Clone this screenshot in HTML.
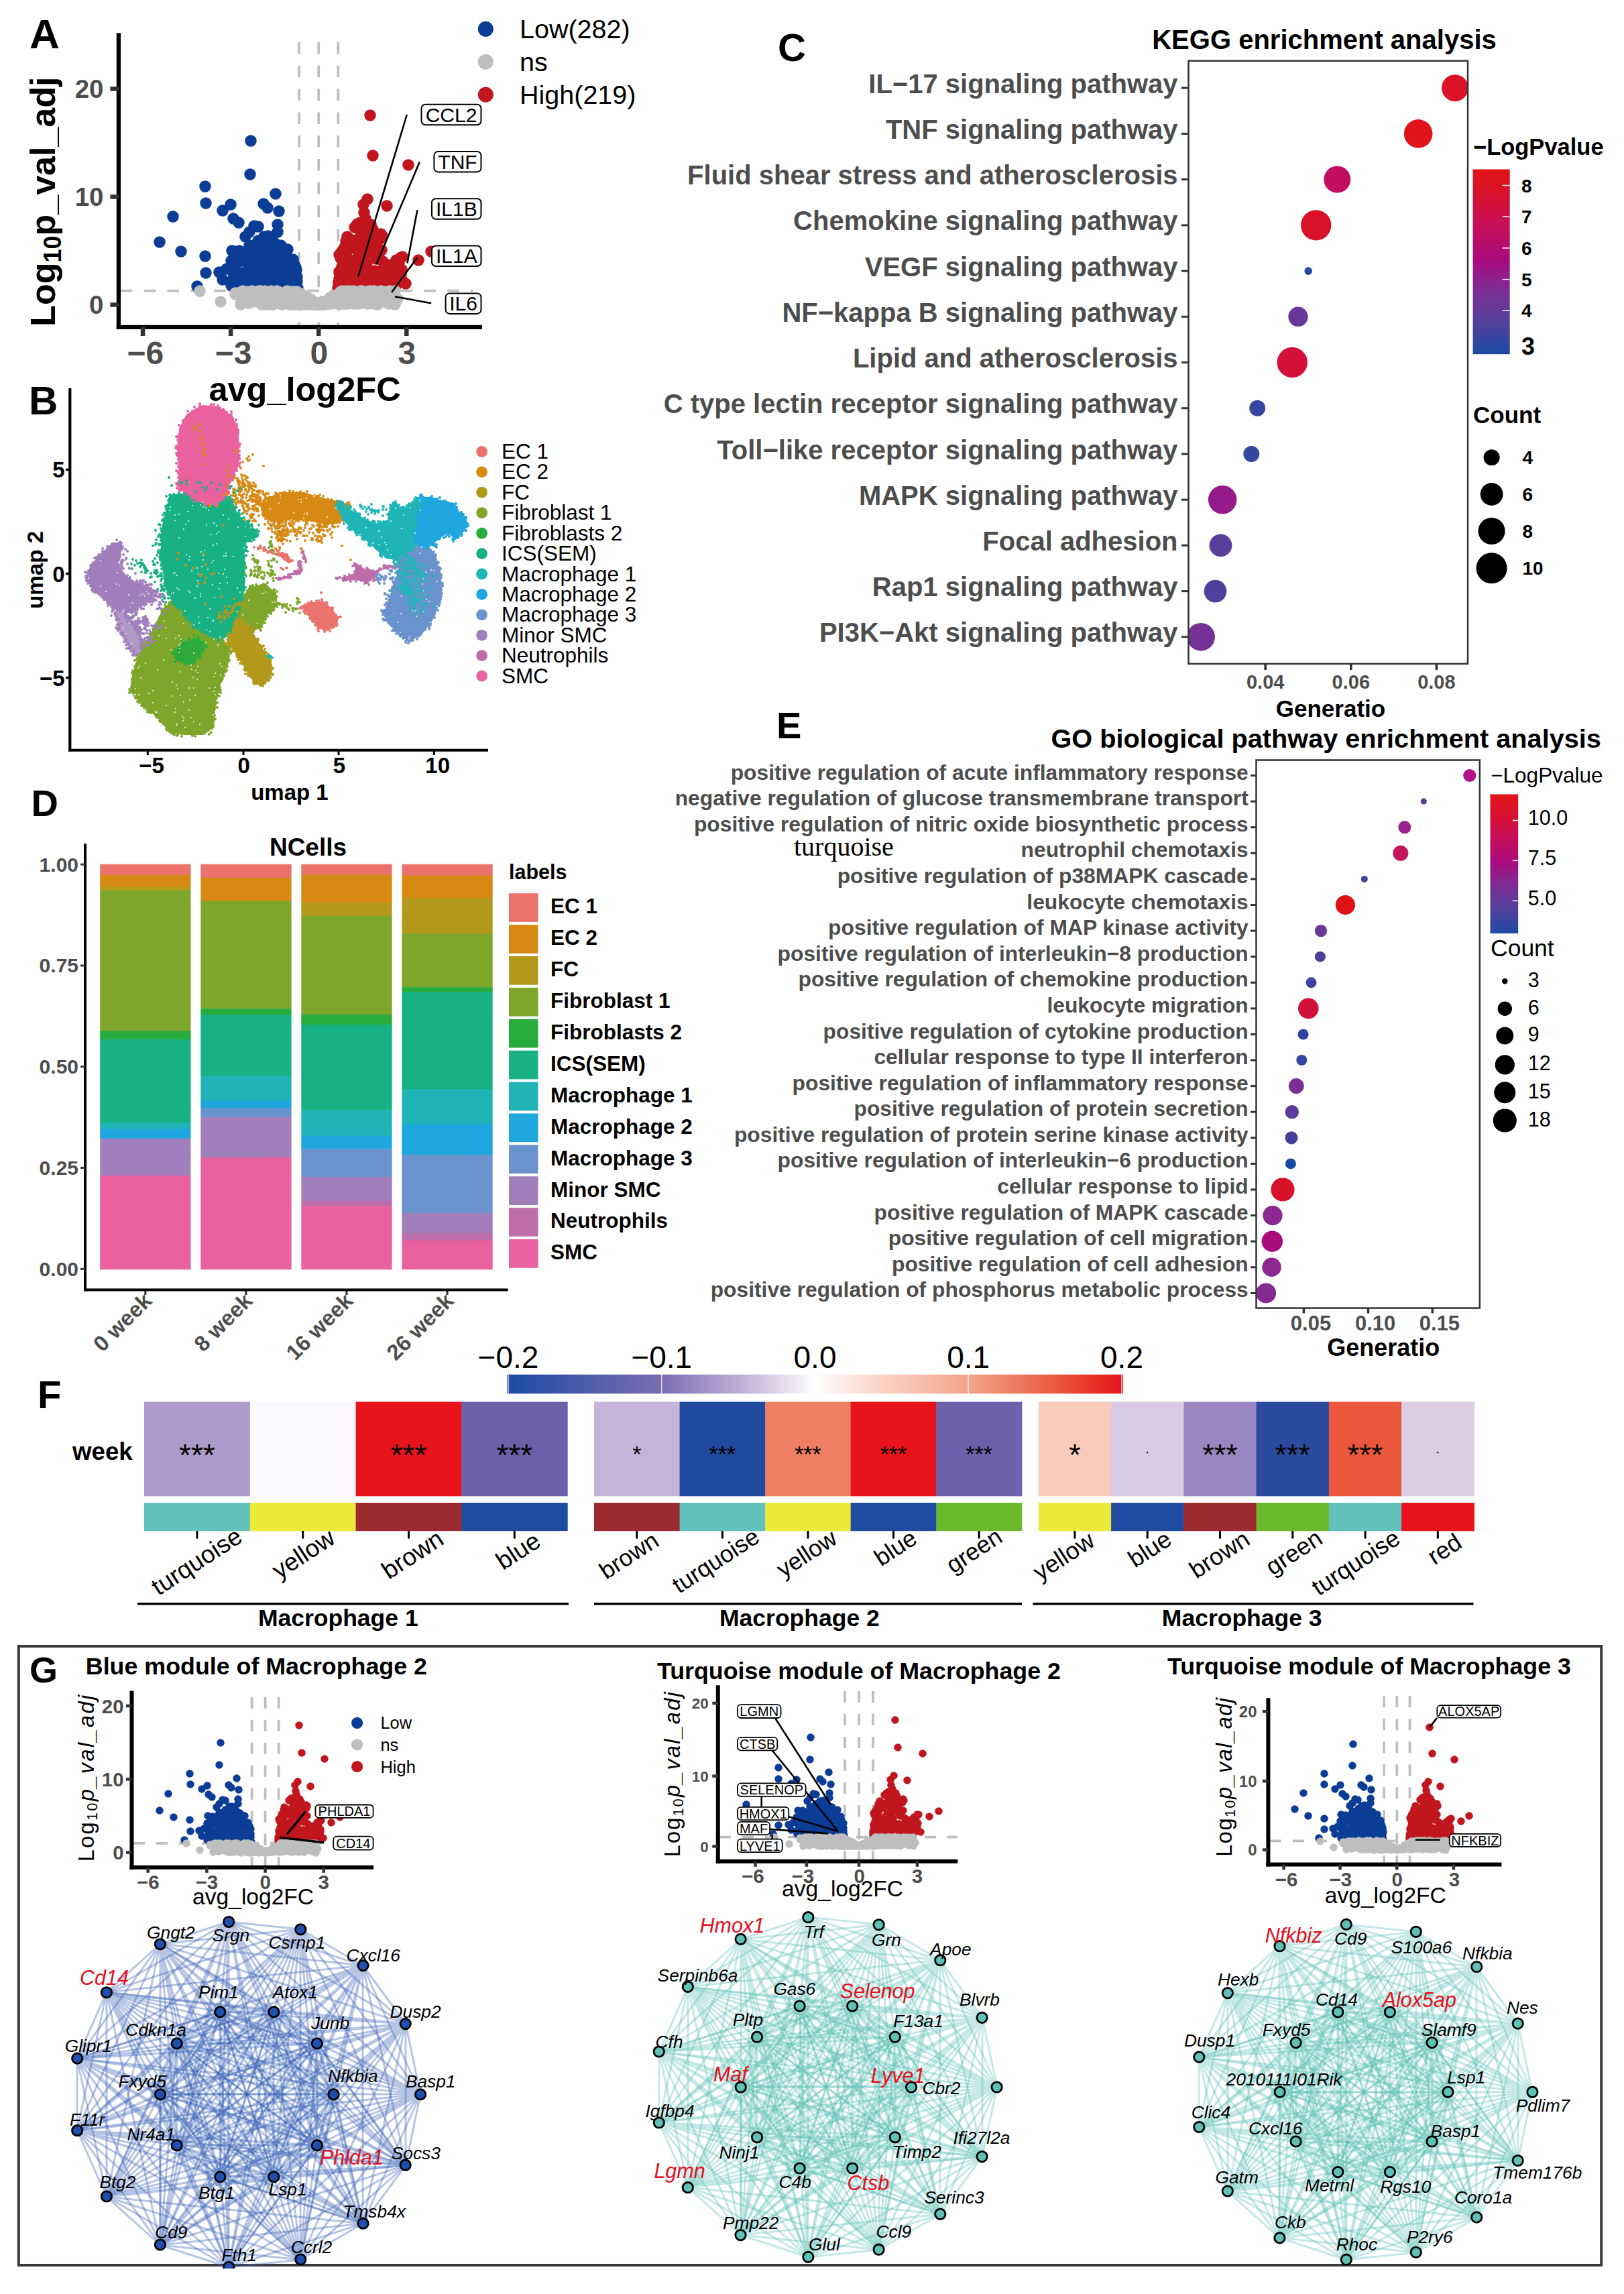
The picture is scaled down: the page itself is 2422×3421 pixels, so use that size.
<!DOCTYPE html>
<html><head><meta charset="utf-8"><title>Figure</title>
<style>html,body{margin:0;padding:0;background:#fff}svg{display:block;font-family:"Liberation Sans",sans-serif}</style></head>
<body><svg width="2422" height="3421" viewBox="0 0 2422 3421">
<rect width="2422" height="3421" fill="#fff"/>
<defs><linearGradient id="g1" x1="0" y1="1" x2="0" y2="0"><stop offset="0.0" stop-color="#1C4BA3"/><stop offset="0.1" stop-color="#3B449F"/><stop offset="0.2" stop-color="#5A3E9B"/><stop offset="0.3" stop-color="#723397"/><stop offset="0.4" stop-color="#8B238E"/><stop offset="0.5" stop-color="#A70B80"/><stop offset="0.6" stop-color="#B80D6C"/><stop offset="0.7" stop-color="#C80F58"/><stop offset="0.8" stop-color="#D3103D"/><stop offset="0.9" stop-color="#DB1227"/><stop offset="1.0" stop-color="#E21317"/></linearGradient></defs>
<text x="44.0" y="72.3" font-size="62" font-weight="bold">A</text>
<line x1="446.1" y1="63.0" x2="446.1" y2="487.8" stroke="#BEBEBE" stroke-width="3.7" stroke-dasharray="17.5 17.3"/>
<line x1="475.2" y1="63.0" x2="475.2" y2="487.8" stroke="#BEBEBE" stroke-width="3.7" stroke-dasharray="17.5 17.3"/>
<line x1="504.3" y1="63.0" x2="504.3" y2="487.8" stroke="#BEBEBE" stroke-width="3.7" stroke-dasharray="17.5 17.3"/>
<line x1="180.0" y1="433.6" x2="705.0" y2="433.6" stroke="#BEBEBE" stroke-width="3.7" stroke-dasharray="17.5 17.3"/>
<path d="M374 210h0M373 260h0M306 278h0M411 289h0M307 303h0M344 305h0M332 314h0M393 304h0M399 310h0M416 315h0M258 323h0M348 326h0M356 332h0M372 346h0M385 338h0M414 335h0M238 361h0M270 375h0M306 382h0M346 374h0M307 407h0M327 406h0M338 401h0M351 404h0M332 417h0M294 427h0M379 337h0M366 353h0M357 374h0M362 384h0M420 397h0M407 387h0M381 429h0M442 403h0M418 420h0M345 389h0M396 386h0M429 398h0M357 390h0M368 418h0M441 399h0M397 378h0M356 377h0M404 367h0M399 354h0M430 424h0M381 416h0M393 409h0M409 389h0M386 364h0M376 373h0M345 426h0M358 377h0M387 382h0M423 375h0M387 417h0M437 395h0M429 420h0M367 430h0M383 430h0M356 407h0M436 408h0M441 427h0M403 387h0M428 430h0M348 416h0M398 397h0M380 395h0M388 390h0M350 413h0M414 346h0M392 395h0M443 420h0M386 431h0M382 391h0M438 408h0M397 382h0M409 376h0M438 405h0M398 390h0M412 409h0M413 408h0M384 416h0M406 369h0M441 413h0M422 376h0M420 423h0M400 379h0M434 420h0M410 363h0M400 362h0M427 416h0M379 406h0M421 427h0M391 423h0M363 425h0M416 368h0M380 376h0M409 426h0M415 368h0M417 411h0M402 405h0M403 354h0M428 431h0M350 375h0M400 352h0M369 392h0M392 416h0M410 419h0M437 409h0M415 367h0M439 395h0M375 370h0M354 431h0M414 381h0M391 407h0M350 418h0M419 366h0M396 372h0M409 421h0M390 371h0M427 384h0M352 386h0M443 413h0M417 417h0M391 406h0M397 372h0M444 430h0M431 428h0M437 387h0M394 414h0M412 410h0M379 395h0M408 422h0M411 426h0M388 381h0M406 428h0M426 414h0M384 377h0M406 366h0M382 407h0M407 397h0M375 421h0M390 382h0M437 417h0M401 359h0M354 421h0M397 426h0M363 377h0M365 388h0M388 428h0M385 431h0M429 389h0M439 430h0M434 388h0M426 431h0M360 382h0M349 389h0M440 403h0M393 380h0M433 396h0M411 391h0M426 421h0M382 380h0M405 409h0M404 410h0M402 428h0M394 353h0M403 373h0M428 393h0M368 404h0M396 386h0M434 397h0M352 412h0M417 422h0M385 415h0M421 385h0M359 421h0M422 431h0M396 409h0M427 415h0M412 369h0M429 372h0M396 390h0M397 366h0M362 407h0M372 411h0M371 407h0M421 421h0M372 366h0M425 420h0M425 389h0M358 421h0M402 375h0M435 429h0M408 389h0M410 403h0M395 421h0M385 359h0M405 393h0M432 422h0M355 429h0M367 418h0M376 378h0M417 375h0M348 407h0M432 410h0M409 375h0M376 424h0M379 392h0M426 375h0M411 375h0M384 397h0M379 406h0M413 423h0M437 402h0M369 386h0M408 416h0M406 358h0M440 415h0" stroke="#0B3C96" stroke-width="17.5" stroke-linecap="round" fill="none"/>
<path d="M552 172h0M556 232h0M609 246h0M548 297h0M542 305h0M577 307h0M543 317h0M600 383h0M624 388h0M643 375h0M605 423h0M591 388h0M582 395h0M593 401h0M576 403h0M584 408h0M595 392h0M571 390h0M545 326h0M522 370h0M529 408h0M533 386h0M559 404h0M565 425h0M523 426h0M512 377h0M556 418h0M518 404h0M557 351h0M558 378h0M515 407h0M518 395h0M545 417h0M522 369h0M506 380h0M568 349h0M532 386h0M546 372h0M574 410h0M525 358h0M539 376h0M556 431h0M559 371h0M539 385h0M537 418h0M542 429h0M540 371h0M536 382h0M573 401h0M514 375h0M549 429h0M530 416h0M510 398h0M571 423h0M566 374h0M514 369h0M547 335h0M555 359h0M529 361h0M571 402h0M535 361h0M539 425h0M507 428h0M518 423h0M540 364h0M543 395h0M551 407h0M537 359h0M533 420h0M569 373h0M530 404h0M542 376h0M520 431h0M519 371h0M514 402h0M518 420h0M516 406h0M516 430h0M512 423h0M539 428h0M506 407h0M533 369h0M508 409h0M532 430h0M573 426h0M511 403h0M516 388h0M529 424h0M508 385h0M524 367h0M537 338h0M526 415h0M523 365h0M549 403h0M511 386h0M574 413h0M504 430h0M511 423h0M507 429h0M551 339h0M518 353h0M538 353h0M570 352h0M506 416h0M548 333h0M510 416h0M565 425h0M532 407h0M553 335h0M517 377h0M557 348h0M544 336h0M530 400h0M520 370h0M538 411h0M516 379h0M547 362h0M532 392h0M515 381h0M506 405h0M558 368h0M511 419h0M565 378h0M567 356h0M536 343h0M557 405h0M531 428h0M533 340h0M512 395h0M512 428h0M551 413h0M508 425h0M550 377h0M505 421h0M573 426h0M544 396h0M560 378h0M561 386h0M518 422h0M510 375h0M512 430h0M573 427h0M568 427h0M537 416h0M563 380h0M550 356h0M567 407h0M547 393h0M512 372h0M547 350h0M519 394h0M537 363h0M510 412h0M539 427h0M544 359h0M534 374h0M547 416h0M529 339h0M528 399h0M510 421h0M516 360h0M556 342h0M575 412h0M571 415h0M534 339h0M569 350h0M539 356h0M533 334h0M570 413h0M571 427h0M511 383h0M525 392h0M550 429h0M557 410h0M535 405h0M557 359h0M525 426h0M525 402h0M510 424h0M559 366h0M574 397h0M567 405h0M516 413h0M537 386h0M543 402h0M565 412h0M537 344h0M562 410h0M521 367h0M505 426h0M542 383h0M516 429h0M519 373h0M537 332h0M598 384h0M577 426h0M576 423h0M585 427h0M591 425h0M585 422h0M598 409h0M583 428h0M588 409h0M595 391h0M599 417h0M580 415h0M598 405h0M599 402h0" stroke="#C1161D" stroke-width="17.5" stroke-linecap="round" fill="none"/>
<path d="M298 434h0M329 450h0M593 446h0M502 440h0M508 445h0M412 442h0M367 444h0M492 444h0M506 447h0M439 445h0M523 451h0M449 441h0M536 435h0M465 450h0M466 453h0M508 447h0M359 436h0M566 451h0M456 444h0M458 444h0M515 446h0M580 453h0M399 453h0M386 441h0M460 454h0M415 444h0M479 454h0M563 451h0M589 440h0M529 451h0M543 436h0M589 446h0M443 435h0M382 447h0M504 453h0M521 434h0M435 435h0M390 454h0M483 450h0M489 449h0M406 443h0M493 444h0M444 451h0M414 450h0M579 446h0M554 438h0M456 446h0M478 453h0M492 451h0M422 447h0M473 452h0M575 448h0M433 449h0M521 447h0M520 449h0M534 443h0M463 446h0M417 453h0M465 448h0M478 453h0M456 450h0M490 450h0M542 440h0M445 447h0M511 441h0M404 447h0M424 452h0M360 443h0M499 447h0M467 449h0M373 440h0M557 445h0M553 448h0M513 453h0M434 454h0M443 445h0M445 443h0M580 440h0M455 445h0M464 451h0M474 453h0M447 439h0M444 453h0M467 451h0M465 454h0M482 452h0M580 441h0M561 452h0M469 451h0M418 437h0M549 450h0M529 450h0M497 452h0M564 446h0M396 454h0M421 437h0M446 448h0M514 447h0M404 445h0M438 450h0M459 448h0M516 443h0M557 441h0M458 445h0M482 451h0M462 452h0M589 434h0M373 451h0M589 447h0M475 453h0M403 443h0M514 442h0M430 450h0M552 448h0M526 436h0M351 439h0M355 440h0M470 452h0M514 443h0M455 450h0M493 453h0M447 445h0M366 444h0M376 443h0M537 436h0M417 448h0M470 454h0M534 449h0M455 452h0M404 434h0M447 442h0M496 445h0M459 444h0M507 449h0M557 447h0M537 440h0M410 438h0M472 453h0M392 441h0M497 441h0M565 439h0M464 449h0M487 453h0M559 444h0M589 451h0M397 451h0M498 442h0M535 446h0M480 450h0M442 454h0M515 451h0M540 434h0M539 446h0M495 450h0M458 445h0M453 453h0M508 443h0M359 454h0M454 452h0M436 442h0M457 446h0M418 453h0M467 452h0M576 441h0M548 452h0M508 435h0M469 452h0M477 454h0M589 454h0M447 454h0M369 448h0M430 452h0M483 454h0M491 453h0M525 443h0M483 454h0M411 444h0M509 435h0M474 453h0M425 442h0M424 439h0M436 441h0M537 434h0M439 453h0M488 449h0M394 444h0M558 443h0M523 439h0M524 439h0M398 442h0M513 439h0M549 447h0M532 445h0M492 447h0M527 450h0M551 434h0M533 436h0M528 448h0M526 436h0M545 446h0M487 451h0M573 448h0M457 443h0M471 453h0M570 450h0M515 450h0M447 445h0M547 435h0M514 437h0M389 434h0M493 444h0M450 454h0M466 453h0M567 448h0M589 452h0M519 441h0M442 450h0M555 447h0M429 452h0M447 449h0M466 449h0M389 452h0M549 444h0M427 447h0M519 447h0M544 444h0M480 453h0M468 454h0M441 451h0M478 452h0M434 436h0M493 453h0M473 453h0M472 452h0M378 443h0M373 437h0M506 454h0M471 451h0M516 439h0M407 454h0M477 452h0M549 445h0M546 440h0M533 437h0M407 451h0M523 444h0M441 448h0M427 448h0M568 439h0M429 445h0M376 447h0M433 441h0M444 442h0M414 444h0M430 437h0M549 453h0M565 445h0M384 443h0M440 454h0M491 450h0M508 449h0M421 454h0M391 444h0M568 448h0M502 445h0M367 447h0M481 453h0M362 451h0M550 442h0M481 454h0M561 450h0M411 436h0M475 453h0M509 453h0M522 437h0M552 434h0M424 452h0M525 446h0M564 439h0M414 447h0M378 440h0M540 440h0M413 444h0M474 454h0M375 450h0M476 454h0M485 451h0M586 436h0M448 452h0M524 439h0M384 450h0M454 447h0M444 448h0M437 447h0M587 445h0M580 436h0M424 449h0M506 442h0M520 444h0M424 441h0M527 434h0M530 441h0M521 437h0M570 442h0M494 447h0M569 438h0M522 439h0M552 439h0M519 453h0M479 453h0M451 441h0M441 447h0M442 446h0M411 438h0M479 451h0M433 437h0M448 444h0M451 440h0M398 450h0M530 451h0M440 445h0M535 446h0M364 440h0M432 450h0M458 454h0M408 451h0M502 450h0M490 448h0M463 451h0M506 454h0M534 436h0M540 436h0M393 443h0M411 445h0M578 442h0M558 434h0M382 438h0M550 442h0M407 446h0M474 454h0M452 451h0M517 445h0M384 448h0M488 449h0M571 448h0M418 440h0M493 447h0M537 446h0M389 443h0M501 445h0M561 441h0M499 451h0M510 434h0M368 435h0M565 439h0M460 449h0M442 441h0M557 451h0M423 441h0M579 447h0M474 453h0M428 434h0M510 438h0M447 442h0M557 453h0M460 454h0M547 440h0M441 444h0M451 450h0M535 453h0M403 451h0M535 442h0M492 445h0M575 446h0M394 440h0M499 449h0M522 435h0M496 450h0M401 441h0M421 450h0M442 435h0M516 453h0M485 451h0M550 448h0M508 437h0M528 453h0M380 437h0M476 453h0M523 435h0M442 450h0M547 448h0M554 448h0M555 445h0M555 452h0M504 444h0M411 450h0M467 449h0M437 450h0M498 443h0M452 452h0M464 447h0M550 446h0M536 435h0M533 448h0M493 446h0M351 437h0M545 450h0M448 445h0M409 450h0M579 444h0M448 449h0M504 450h0M515 448h0M503 452h0M474 454h0M438 448h0M466 454h0M382 449h0M529 452h0M482 450h0M419 438h0M484 454h0M480 454h0M390 449h0M412 440h0M513 444h0M505 450h0M371 452h0M557 446h0M351 438h0M429 444h0M409 439h0M526 445h0M401 454h0M489 450h0M400 447h0M454 449h0M458 452h0M493 449h0M448 453h0M365 446h0M584 451h0M400 447h0M468 452h0M466 449h0M458 447h0M472 453h0M492 451h0M419 444h0M434 450h0M505 444h0M537 434h0M514 452h0M556 435h0M428 441h0M544 441h0M466 449h0M463 449h0M510 436h0M524 440h0M540 452h0M397 442h0M432 440h0M566 445h0M539 442h0M432 454h0M544 452h0M566 443h0M530 439h0M549 448h0M560 448h0M475 454h0M422 438h0M503 450h0M568 434h0M540 449h0M544 448h0M490 453h0M412 440h0M413 434h0M491 445h0M475 453h0M446 437h0M512 435h0M397 454h0M489 452h0M375 447h0M403 453h0M371 435h0M421 454h0M416 448h0M437 448h0M411 439h0M445 444h0M484 451h0M518 448h0M410 435h0M528 436h0M473 453h0M449 438h0M494 444h0M523 435h0M434 446h0M472 452h0M375 450h0M563 454h0M427 450h0M471 452h0M440 437h0M415 446h0M574 439h0M414 448h0M479 451h0M589 434h0M565 449h0M502 441h0M586 443h0M496 451h0M376 435h0M504 447h0M472 452h0M465 450h0M445 438h0M414 437h0M580 439h0M369 439h0M522 438h0M517 435h0M540 440h0M512 435h0M516 434h0M542 436h0M553 437h0M378 438h0M569 438h0M555 436h0M536 437h0M371 439h0M390 437h0M370 436h0M376 438h0M359 437h0M386 434h0M437 435h0M429 435h0M416 437h0M583 435h0M365 437h0M573 435h0M438 439h0M415 435h0M395 434h0M414 436h0M514 438h0M415 437h0M575 438h0M393 437h0M564 439h0M399 437h0M440 435h0M581 434h0M403 438h0M573 439h0M374 440h0M575 437h0M376 434h0M583 436h0M564 436h0M425 439h0M423 439h0M438 440h0M362 434h0M549 435h0M434 437h0M535 438h0M548 438h0M354 437h0M558 439h0M384 438h0M377 437h0M443 435h0M549 438h0M529 435h0M524 436h0M416 436h0M518 437h0M560 438h0" stroke="#BEBEBE" stroke-width="17.5" stroke-linecap="round" fill="none"/>
<line x1="176.9" y1="49.3" x2="176.9" y2="490.9" stroke="#000" stroke-width="6.3"/>
<line x1="173.8" y1="487.8" x2="719.0" y2="487.8" stroke="#000" stroke-width="6.3"/>
<line x1="164.4" y1="454.5" x2="176.9" y2="454.5" stroke="#333" stroke-width="6.5"/>
<text x="154.5" y="468.3" font-size="38.5" font-weight="bold" text-anchor="end" fill="#4d4d4d">0</text>
<line x1="164.4" y1="293.5" x2="176.9" y2="293.5" stroke="#333" stroke-width="6.5"/>
<text x="154.5" y="307.3" font-size="38.5" font-weight="bold" text-anchor="end" fill="#4d4d4d">10</text>
<line x1="164.4" y1="132.5" x2="176.9" y2="132.5" stroke="#333" stroke-width="6.5"/>
<text x="154.5" y="146.3" font-size="38.5" font-weight="bold" text-anchor="end" fill="#4d4d4d">20</text>
<line x1="213.0" y1="487.8" x2="213.0" y2="501.0" stroke="#333" stroke-width="6.5"/>
<text x="216.9" y="542.9" font-size="48" font-weight="bold" text-anchor="middle" fill="#4d4d4d">−6</text>
<line x1="344.1" y1="487.8" x2="344.1" y2="501.0" stroke="#333" stroke-width="6.5"/>
<text x="348.0" y="542.9" font-size="48" font-weight="bold" text-anchor="middle" fill="#4d4d4d">−3</text>
<line x1="475.2" y1="487.8" x2="475.2" y2="501.0" stroke="#333" stroke-width="6.5"/>
<text x="475.8" y="542.9" font-size="48" font-weight="bold" text-anchor="middle" fill="#4d4d4d">0</text>
<line x1="606.3" y1="487.8" x2="606.3" y2="501.0" stroke="#333" stroke-width="6.5"/>
<text x="606.9" y="542.9" font-size="48" font-weight="bold" text-anchor="middle" fill="#4d4d4d">3</text>
<text x="454.5" y="597.5" font-size="50.5" font-weight="bold" text-anchor="middle">avg_log2FC</text>
<text x="82.3" y="300.7" font-size="52" font-weight="bold" text-anchor="middle" transform="rotate(-90 82.3 300.7)">Log<tspan font-size="36" dy="9">10</tspan><tspan dy="-9">p_val_adj</tspan></text>
<circle cx="724.3" cy="43.3" r="11.5" fill="#0B3C96"/>
<text x="775.0" y="56.9" font-size="39.5">Low(282)</text>
<circle cx="724.3" cy="92.2" r="11.5" fill="#BEBEBE"/>
<text x="775.0" y="105.8" font-size="39.5">ns</text>
<circle cx="724.3" cy="141.2" r="11.5" fill="#C1161D"/>
<text x="775.0" y="154.8" font-size="39.5">High(219)</text>
<line x1="606.8" y1="171.0" x2="534.2" y2="412.7" stroke="#000" stroke-width="2.6"/>
<rect x="628.5" y="155.8" width="89.0" height="30.5" rx="6" fill="#fff" stroke="#000" stroke-width="2"/>
<text x="673.0" y="181.7" font-size="30" text-anchor="middle">CCL2</text>
<line x1="625.8" y1="241.5" x2="561.2" y2="394.2" stroke="#000" stroke-width="2.6"/>
<rect x="647.4" y="225.9" width="70.1" height="30.5" rx="6" fill="#fff" stroke="#000" stroke-width="2"/>
<text x="682.5" y="251.8" font-size="30" text-anchor="middle">TNF</text>
<line x1="622.4" y1="313.3" x2="607.4" y2="392.4" stroke="#000" stroke-width="2.6"/>
<rect x="644.0" y="296.3" width="73.5" height="30.5" rx="6" fill="#fff" stroke="#000" stroke-width="2"/>
<text x="680.8" y="322.2" font-size="30" text-anchor="middle">IL1B</text>
<line x1="622.2" y1="384.2" x2="584.1" y2="436.0" stroke="#000" stroke-width="2.6"/>
<rect x="644.0" y="366.5" width="73.5" height="30.5" rx="6" fill="#fff" stroke="#000" stroke-width="2"/>
<text x="680.8" y="392.4" font-size="30" text-anchor="middle">IL1A</text>
<line x1="643.2" y1="452.2" x2="588.9" y2="442.2" stroke="#000" stroke-width="2.6"/>
<rect x="664.6" y="437.4" width="52.9" height="30.5" rx="6" fill="#fff" stroke="#000" stroke-width="2"/>
<text x="691.0" y="463.3" font-size="30" text-anchor="middle">IL6</text>
<text x="43.0" y="618.0" font-size="60" font-weight="bold">B</text>
<path d="M129 861L136 843L152 825L168 811L182 809L179 820L175 838L184 857L197 866L209 875L204 891L191 902L179 911L168 902L154 893L139 879Z" fill="#A07FBC" stroke="#A07FBC" stroke-width="2" stroke-linejoin="round"/>
<path d="M134 858h0M128 859h0M129 860h0M133 854h0M133 852h0M127 853h0M129 854h0M131 859h0M132 860h0M136 849h0M132 851h0M131 860h0M145 831h0M144 833h0M148 827h0M141 832h0M146 836h0M135 843h0M138 840h0M147 828h0M149 830h0M144 831h0M152 827h0M150 832h0M151 831h0M138 840h0M135 843h0M157 825h0M154 825h0M168 814h0M164 815h0M165 815h0M162 816h0M155 824h0M153 822h0M159 821h0M153 818h0M160 815h0M167 817h0M167 811h0M173 811h0M177 810h0M172 812h0M170 811h0M169 811h0M179 808h0M170 812h0M174 805h0M180 814h0M180 812h0M180 819h0M178 819h0M183 816h0M182 817h0M180 813h0M172 833h0M179 830h0M177 835h0M176 834h0M177 830h0M179 822h0M178 832h0M181 837h0M178 828h0M179 827h0M177 834h0M181 849h0M184 848h0M180 852h0M180 856h0M182 857h0M183 854h0M179 845h0M185 856h0M183 854h0M180 849h0M182 854h0M179 857h0M196 866h0M188 862h0M186 859h0M195 867h0M194 861h0M194 865h0M193 862h0M190 858h0M183 859h0M190 864h0M204 870h0M204 872h0M203 872h0M208 871h0M202 871h0M203 873h0M206 869h0M209 873h0M208 869h0M210 878h0M209 877h0M207 881h0M207 874h0M212 873h0M210 877h0M211 882h0M206 878h0M208 882h0M208 886h0M200 896h0M195 898h0M192 896h0M203 892h0M194 901h0M202 893h0M204 897h0M196 896h0M203 889h0M206 890h0M197 902h0M191 901h0M182 903h0M189 906h0M189 905h0M191 904h0M187 903h0M186 908h0M190 902h0M181 908h0M175 906h0M168 905h0M168 905h0M174 904h0M169 900h0M174 908h0M181 911h0M177 909h0M172 901h0M164 901h0M163 900h0M170 898h0M161 903h0M164 899h0M160 899h0M165 900h0M166 901h0M169 902h0M163 898h0M141 880h0M139 882h0M141 882h0M148 885h0M138 878h0M143 884h0M148 883h0M137 879h0M143 882h0M155 894h0M154 889h0M142 882h0M151 886h0M129 866h0M136 869h0M138 875h0M133 869h0M128 862h0M133 867h0M132 867h0M137 880h0M135 874h0M138 881h0M131 865h0M131 870h0" stroke="#A07FBC" stroke-width="4" stroke-linecap="round" fill="none"/>
<path d="M168 902L191 920L204 934L213 956L211 974L200 977L191 963L179 943L173 920Z" fill="#A07FBC" stroke="#A07FBC" stroke-width="2" stroke-linejoin="round" opacity="0.8"/>
<path d="M172 903h0M191 919h0M181 905h0M178 912h0M190 922h0M166 904h0M172 902h0M188 916h0M188 918h0M166 902h0M176 909h0M175 907h0M186 915h0M188 914h0M173 909h0M189 919h0M178 910h0M171 902h0M203 934h0M198 929h0M207 930h0M204 926h0M198 927h0M197 931h0M199 929h0M205 934h0M194 928h0M204 936h0M193 923h0M194 924h0M211 954h0M215 954h0M206 938h0M209 942h0M202 938h0M209 952h0M208 947h0M204 941h0M202 936h0M212 955h0M205 941h0M216 952h0M208 935h0M210 954h0M200 937h0M215 967h0M214 962h0M210 961h0M209 966h0M212 964h0M212 975h0M211 969h0M211 958h0M216 959h0M211 968h0M214 967h0M209 975h0M199 977h0M212 974h0M210 975h0M202 977h0M205 975h0M209 976h0M195 971h0M192 967h0M189 967h0M198 977h0M200 972h0M198 976h0M195 967h0M198 977h0M199 975h0M200 969h0M187 948h0M189 961h0M185 948h0M185 957h0M191 960h0M188 956h0M180 945h0M182 944h0M188 962h0M181 946h0M183 945h0M182 946h0M195 964h0M188 953h0M176 940h0M175 932h0M177 936h0M177 924h0M175 922h0M181 930h0M177 936h0M177 931h0M174 920h0M173 924h0M175 938h0M180 944h0M178 937h0M173 936h0M170 904h0M174 920h0M168 908h0M168 910h0M171 904h0M173 916h0M167 912h0M172 918h0M174 915h0M166 918h0M171 915h0" stroke="#A07FBC" stroke-width="4" stroke-linecap="round" fill="none"/>
<path d="M245 906L259 897L277 915L290 934L304 943L327 952L340 965L340 988L331 1011L324 1033L320 1056L318 1083L304 1095L277 1095L254 1092L236 1070L213 1051L195 1031L197 1011L204 988L213 970L227 943L238 920Z" fill="#7DA62B" stroke="#7DA62B" stroke-width="2" stroke-linejoin="round"/>
<path d="M255 900h0M253 898h0M259 899h0M249 911h0M255 900h0M255 899h0M257 899h0M252 900h0M251 904h0M246 902h0M264 901h0M272 911h0M263 898h0M262 900h0M268 907h0M261 898h0M262 908h0M262 902h0M271 899h0M266 907h0M267 901h0M267 903h0M273 914h0M256 897h0M278 915h0M264 904h0M276 920h0M274 918h0M290 934h0M292 932h0M279 915h0M286 929h0M279 917h0M285 919h0M280 921h0M283 926h0M279 915h0M274 915h0M278 915h0M282 925h0M292 938h0M295 935h0M299 938h0M297 942h0M300 941h0M298 939h0M298 939h0M300 939h0M291 931h0M300 939h0M314 946h0M327 950h0M325 956h0M320 946h0M309 939h0M303 946h0M309 943h0M324 952h0M325 953h0M315 948h0M311 949h0M320 948h0M324 952h0M316 952h0M313 946h0M331 953h0M333 955h0M338 964h0M336 963h0M341 963h0M326 950h0M334 958h0M328 952h0M333 961h0M340 965h0M336 961h0M333 958h0M338 969h0M338 968h0M342 968h0M343 970h0M341 983h0M343 972h0M338 981h0M344 974h0M341 971h0M339 978h0M340 966h0M341 977h0M338 968h0M341 979h0M337 996h0M333 1005h0M342 985h0M336 996h0M339 994h0M338 992h0M336 1001h0M336 993h0M331 1006h0M336 1002h0M334 1008h0M338 988h0M331 1009h0M338 1000h0M333 999h0M320 1034h0M328 1025h0M325 1026h0M329 1015h0M325 1032h0M332 1012h0M331 1014h0M324 1024h0M329 1029h0M330 1015h0M329 1033h0M326 1031h0M330 1016h0M327 1027h0M319 1051h0M327 1038h0M322 1040h0M324 1036h0M320 1051h0M316 1055h0M324 1048h0M323 1041h0M320 1049h0M324 1055h0M325 1037h0M321 1051h0M318 1045h0M322 1038h0M318 1084h0M320 1067h0M321 1072h0M320 1055h0M317 1076h0M315 1070h0M320 1058h0M319 1066h0M315 1073h0M317 1063h0M318 1073h0M318 1067h0M316 1076h0M316 1062h0M320 1073h0M318 1082h0M318 1060h0M316 1086h0M312 1087h0M315 1092h0M312 1095h0M311 1089h0M307 1090h0M314 1085h0M314 1086h0M313 1084h0M309 1087h0M314 1083h0M286 1093h0M288 1092h0M297 1090h0M282 1090h0M284 1093h0M295 1094h0M293 1091h0M287 1097h0M290 1093h0M287 1094h0M287 1092h0M291 1094h0M291 1098h0M277 1094h0M285 1094h0M287 1091h0M260 1096h0M271 1092h0M264 1097h0M270 1094h0M270 1094h0M267 1092h0M271 1098h0M254 1092h0M257 1094h0M275 1090h0M260 1094h0M274 1094h0M264 1089h0M265 1096h0M253 1088h0M238 1075h0M248 1087h0M254 1090h0M249 1089h0M244 1080h0M251 1082h0M255 1087h0M243 1078h0M243 1078h0M236 1069h0M253 1091h0M239 1076h0M238 1070h0M235 1070h0M245 1075h0M240 1076h0M244 1078h0M214 1053h0M232 1067h0M233 1069h0M222 1061h0M221 1054h0M222 1060h0M215 1056h0M217 1054h0M225 1059h0M222 1056h0M211 1052h0M219 1054h0M220 1062h0M225 1063h0M219 1058h0M223 1061h0M230 1062h0M224 1063h0M193 1028h0M207 1046h0M200 1037h0M212 1046h0M205 1041h0M215 1056h0M200 1036h0M195 1031h0M201 1036h0M202 1041h0M205 1041h0M214 1049h0M196 1031h0M199 1032h0M208 1048h0M205 1046h0M199 1033h0M198 1033h0M199 1018h0M193 1033h0M200 1012h0M199 1025h0M196 1027h0M195 1030h0M201 1014h0M199 1029h0M196 1025h0M196 1027h0M197 1013h0M201 994h0M204 995h0M203 994h0M202 995h0M199 1002h0M203 991h0M198 1001h0M204 998h0M198 1000h0M197 1004h0M205 986h0M205 1006h0M203 993h0M206 996h0M209 979h0M210 974h0M213 975h0M209 983h0M205 978h0M216 973h0M214 971h0M209 980h0M212 975h0M201 985h0M206 979h0M204 982h0M220 959h0M224 947h0M216 964h0M212 961h0M223 945h0M222 955h0M215 963h0M219 956h0M223 968h0M221 962h0M226 951h0M218 960h0M218 969h0M218 956h0M219 951h0M226 944h0M218 963h0M216 965h0M223 953h0M238 921h0M233 930h0M238 924h0M237 927h0M230 934h0M239 921h0M227 944h0M241 920h0M228 938h0M235 928h0M229 934h0M234 930h0M237 927h0M232 939h0M229 940h0M246 911h0M245 918h0M244 915h0M246 910h0M243 917h0M241 912h0M241 909h0M239 919h0M242 910h0" stroke="#7DA62B" stroke-width="4" stroke-linecap="round" fill="none"/>
<path d="M361 893L372 877L395 872L411 884L413 902L399 915L390 934L372 943L349 920Z" fill="#7DA62B" stroke="#7DA62B" stroke-width="2" stroke-linejoin="round"/>
<path d="M370 881h0M362 894h0M366 890h0M365 887h0M376 879h0M369 885h0M364 890h0M373 887h0M373 879h0M374 880h0M364 888h0M369 881h0M373 875h0M372 878h0M376 875h0M377 873h0M377 876h0M384 874h0M374 874h0M389 873h0M373 874h0M392 875h0M382 872h0M388 875h0M384 874h0M377 874h0M395 876h0M392 872h0M405 881h0M409 880h0M403 883h0M399 869h0M400 878h0M409 879h0M399 876h0M399 875h0M396 872h0M393 871h0M411 892h0M412 899h0M408 886h0M413 890h0M407 884h0M408 885h0M413 882h0M408 893h0M408 896h0M411 899h0M406 892h0M405 911h0M404 914h0M401 914h0M406 906h0M408 910h0M407 909h0M400 910h0M406 906h0M404 915h0M408 904h0M408 908h0M407 905h0M390 935h0M395 929h0M389 933h0M394 924h0M399 919h0M395 924h0M394 916h0M391 925h0M397 917h0M392 924h0M396 923h0M392 927h0M387 937h0M383 935h0M387 936h0M377 941h0M374 942h0M380 938h0M389 940h0M378 942h0M382 934h0M376 939h0M377 937h0M382 935h0M354 925h0M372 940h0M364 931h0M363 929h0M356 931h0M361 930h0M361 933h0M366 931h0M359 932h0M367 938h0M363 932h0M367 932h0M351 923h0M352 922h0M354 930h0M347 923h0M357 931h0M361 936h0M367 934h0M362 932h0M351 908h0M362 896h0M349 903h0M349 910h0M349 921h0M358 897h0M358 892h0M362 892h0M350 918h0M356 908h0M355 902h0M360 892h0M354 907h0M359 901h0M356 895h0M349 915h0M351 911h0M359 892h0" stroke="#7DA62B" stroke-width="4" stroke-linecap="round" fill="none"/>
<path d="M340 943L349 920L372 934L381 952L392 970L404 988L404 1006L395 1020L381 1020L372 1006L361 988L349 970L340 961Z" fill="#B2991C" stroke="#B2991C" stroke-width="2" stroke-linejoin="round"/>
<path d="M343 943h0M342 941h0M346 928h0M348 925h0M346 928h0M344 936h0M344 939h0M341 935h0M343 940h0M346 922h0M347 938h0M346 928h0M347 927h0M344 921h0M340 939h0M353 927h0M361 925h0M352 923h0M371 936h0M350 921h0M360 926h0M367 933h0M353 924h0M349 919h0M353 921h0M356 923h0M361 923h0M351 925h0M359 925h0M369 933h0M362 929h0M377 937h0M375 943h0M375 937h0M375 942h0M377 950h0M376 946h0M375 939h0M374 939h0M375 946h0M376 940h0M377 940h0M371 941h0M393 963h0M382 955h0M388 962h0M384 956h0M385 955h0M389 964h0M391 965h0M383 953h0M383 957h0M380 955h0M385 953h0M389 967h0M389 964h0M402 983h0M395 968h0M393 972h0M403 989h0M404 985h0M397 973h0M400 978h0M400 976h0M402 981h0M401 979h0M392 977h0M394 972h0M401 981h0M407 997h0M404 999h0M402 995h0M406 996h0M404 1002h0M399 999h0M402 999h0M402 990h0M400 1002h0M402 988h0M404 992h0M402 1010h0M404 1010h0M401 1007h0M402 1010h0M401 1012h0M407 1006h0M402 1001h0M401 1015h0M401 1015h0M406 1005h0M389 1018h0M391 1021h0M395 1016h0M392 1023h0M384 1019h0M386 1017h0M392 1023h0M388 1022h0M379 1013h0M378 1018h0M372 1004h0M370 1007h0M379 1020h0M380 1017h0M378 1014h0M379 1020h0M379 1010h0M374 1006h0M367 999h0M366 1000h0M367 990h0M369 1005h0M365 997h0M370 1007h0M365 986h0M364 988h0M366 993h0M364 998h0M358 989h0M366 1005h0M373 1009h0M358 982h0M354 980h0M353 978h0M361 990h0M358 981h0M360 985h0M355 984h0M357 983h0M354 978h0M358 982h0M348 971h0M357 979h0M356 977h0M348 971h0M344 964h0M344 963h0M349 967h0M346 971h0M348 964h0M337 960h0M343 965h0M341 951h0M342 947h0M344 946h0M339 959h0M341 950h0M340 943h0M336 959h0M341 951h0M341 957h0M339 954h0M343 957h0" stroke="#B2991C" stroke-width="4" stroke-linecap="round" fill="none"/>
<path d="M254 739L281 736L299 748L318 752L336 743L345 757L354 768L367 784L383 798L367 807L363 829L365 863L361 893L349 920L340 943L327 952L304 943L290 934L277 915L259 897L247 875L241 829L241 795L247 766Z" fill="#18B184" stroke="#18B184" stroke-width="2" stroke-linejoin="round"/>
<path d="M267 734h0M282 737h0M254 738h0M277 737h0M275 735h0M269 741h0M267 736h0M255 740h0M278 736h0M257 740h0M268 739h0M253 738h0M248 740h0M257 741h0M261 741h0M259 737h0M281 736h0M292 738h0M293 743h0M287 744h0M300 745h0M287 736h0M289 741h0M291 743h0M285 746h0M289 743h0M285 740h0M283 735h0M288 741h0M286 739h0M305 746h0M314 756h0M311 751h0M312 750h0M310 753h0M296 748h0M304 749h0M302 752h0M302 750h0M312 748h0M302 743h0M332 749h0M333 745h0M317 750h0M331 746h0M324 746h0M324 747h0M318 752h0M328 749h0M328 749h0M320 751h0M338 744h0M330 747h0M339 748h0M337 742h0M338 749h0M340 751h0M342 757h0M343 752h0M345 753h0M333 746h0M339 745h0M342 750h0M354 772h0M347 758h0M343 757h0M348 758h0M348 762h0M353 768h0M352 772h0M348 761h0M350 766h0M369 785h0M353 767h0M368 783h0M364 772h0M363 780h0M356 773h0M357 768h0M359 773h0M364 781h0M365 786h0M365 783h0M361 775h0M361 778h0M378 791h0M379 799h0M383 800h0M383 798h0M370 785h0M384 799h0M371 788h0M366 789h0M383 790h0M368 788h0M381 794h0M370 788h0M370 784h0M371 807h0M380 799h0M375 807h0M377 803h0M377 801h0M384 799h0M372 806h0M380 800h0M373 804h0M381 801h0M370 803h0M369 822h0M363 824h0M368 816h0M365 816h0M366 829h0M363 831h0M366 817h0M369 806h0M367 828h0M364 812h0M366 814h0M366 821h0M366 820h0M365 819h0M362 855h0M363 848h0M363 850h0M364 855h0M364 843h0M364 847h0M362 860h0M365 846h0M364 833h0M367 847h0M367 859h0M365 857h0M363 836h0M365 839h0M366 846h0M364 861h0M365 842h0M362 833h0M364 849h0M363 841h0M363 836h0M364 867h0M364 877h0M362 863h0M361 871h0M362 882h0M361 879h0M361 874h0M360 889h0M364 880h0M360 890h0M362 884h0M360 887h0M366 876h0M363 863h0M364 875h0M365 876h0M359 878h0M362 881h0M359 891h0M352 913h0M362 901h0M363 898h0M357 909h0M352 912h0M350 913h0M351 916h0M358 899h0M362 893h0M357 901h0M348 915h0M358 905h0M352 912h0M358 900h0M353 909h0M353 905h0M353 919h0M346 933h0M342 934h0M346 931h0M346 923h0M339 935h0M346 930h0M345 929h0M344 941h0M350 923h0M339 938h0M343 937h0M345 943h0M348 925h0M344 937h0M343 940h0M331 950h0M335 950h0M337 948h0M335 945h0M326 955h0M340 938h0M337 947h0M332 951h0M336 944h0M334 946h0M311 948h0M307 942h0M318 952h0M316 947h0M318 945h0M315 947h0M324 947h0M322 949h0M315 946h0M305 943h0M318 949h0M312 948h0M322 950h0M321 950h0M313 946h0M300 940h0M300 941h0M298 938h0M304 940h0M294 933h0M306 944h0M300 942h0M301 942h0M295 938h0M300 942h0M289 936h0M284 924h0M274 917h0M282 922h0M281 921h0M288 935h0M287 928h0M283 926h0M280 919h0M282 925h0M287 931h0M277 922h0M284 925h0M276 918h0M275 917h0M266 905h0M275 914h0M278 908h0M260 901h0M266 899h0M266 907h0M262 899h0M263 904h0M258 895h0M277 908h0M260 895h0M260 900h0M263 896h0M274 909h0M264 902h0M250 884h0M257 894h0M251 892h0M250 880h0M251 876h0M249 874h0M255 892h0M251 887h0M252 879h0M262 900h0M252 886h0M255 892h0M248 877h0M257 899h0M252 884h0M246 869h0M242 839h0M240 832h0M238 831h0M239 857h0M245 852h0M243 839h0M250 879h0M245 853h0M247 860h0M239 835h0M244 831h0M245 870h0M239 834h0M241 848h0M245 843h0M246 858h0M241 834h0M244 850h0M242 841h0M249 864h0M243 837h0M246 849h0M241 839h0M241 843h0M248 855h0M241 836h0M240 828h0M242 822h0M241 799h0M236 824h0M240 822h0M242 819h0M246 815h0M239 828h0M240 825h0M240 828h0M242 816h0M243 821h0M238 798h0M243 822h0M237 812h0M240 806h0M239 798h0M240 812h0M242 825h0M242 817h0M243 822h0M240 802h0M247 773h0M248 776h0M246 773h0M247 766h0M244 782h0M244 788h0M242 776h0M241 792h0M239 783h0M243 775h0M244 783h0M247 771h0M245 773h0M250 767h0M243 768h0M240 788h0M245 778h0M245 776h0M249 761h0M256 747h0M250 755h0M253 743h0M253 750h0M245 765h0M257 745h0M249 766h0M248 759h0M249 758h0M254 740h0M248 765h0M250 753h0M251 746h0M247 755h0M254 754h0M255 744h0" stroke="#18B184" stroke-width="4" stroke-linecap="round" fill="none"/>
<path d="M259 974L272 961L293 952L304 961L297 979L286 988L268 986Z" fill="#28AC3D" stroke="#28AC3D" stroke-width="2" stroke-linejoin="round" opacity="0.9"/>
<path d="M274 962h0M257 974h0M266 965h0M260 973h0M261 969h0M266 972h0M261 975h0M272 964h0M275 960h0M270 965h0M261 972h0M267 968h0M271 954h0M280 958h0M283 955h0M282 957h0M276 957h0M296 950h0M282 955h0M272 959h0M277 959h0M289 947h0M289 953h0M282 953h0M277 960h0M299 957h0M303 957h0M295 950h0M292 955h0M300 960h0M295 958h0M299 957h0M295 955h0M297 954h0M304 970h0M301 962h0M299 971h0M299 970h0M306 962h0M304 968h0M299 967h0M296 973h0M309 965h0M299 976h0M304 965h0M302 972h0M287 989h0M297 978h0M286 986h0M289 988h0M297 975h0M291 987h0M292 982h0M287 982h0M299 981h0M280 988h0M276 987h0M270 986h0M275 989h0M287 987h0M282 989h0M271 985h0M278 991h0M278 984h0M273 986h0M283 985h0M261 980h0M259 975h0M262 973h0M260 976h0M263 976h0M262 981h0M263 979h0M264 984h0M261 987h0" stroke="#28AC3D" stroke-width="4" stroke-linecap="round" fill="none"/>
<path d="M268 721L267 698L265 671L268 639L279 619L299 606L324 607L345 620L354 639L356 666L355 689L349 707L340 725L336 743L318 752L299 748L281 736L268 730Z" fill="#EA619F" stroke="#EA619F" stroke-width="2" stroke-linejoin="round"/>
<path d="M270 704h0M270 701h0M267 717h0M268 725h0M265 703h0M270 700h0M270 711h0M266 712h0M268 708h0M266 706h0M263 702h0M268 705h0M266 720h0M267 724h0M267 673h0M264 676h0M266 679h0M266 696h0M269 690h0M264 679h0M266 680h0M269 696h0M268 696h0M265 670h0M266 678h0M263 691h0M266 685h0M263 676h0M267 696h0M267 672h0M268 690h0M269 645h0M266 651h0M271 670h0M265 656h0M266 664h0M271 648h0M266 658h0M267 648h0M268 655h0M267 648h0M267 648h0M264 665h0M263 651h0M263 665h0M268 664h0M262 668h0M268 669h0M266 668h0M268 668h0M276 628h0M269 641h0M278 623h0M282 625h0M274 630h0M278 622h0M273 632h0M278 625h0M272 636h0M276 636h0M273 629h0M275 626h0M273 627h0M267 634h0M295 614h0M298 602h0M288 613h0M280 613h0M281 618h0M289 614h0M290 607h0M287 613h0M299 609h0M292 611h0M298 605h0M299 616h0M289 618h0M284 616h0M318 607h0M304 606h0M314 609h0M313 606h0M310 610h0M305 608h0M315 606h0M307 609h0M307 609h0M319 603h0M308 606h0M302 606h0M299 608h0M325 605h0M315 603h0M337 615h0M328 608h0M345 614h0M332 612h0M337 617h0M330 612h0M335 613h0M338 615h0M338 615h0M333 610h0M340 620h0M341 619h0M345 621h0M345 618h0M349 636h0M353 636h0M347 624h0M344 624h0M341 619h0M348 633h0M350 630h0M344 619h0M352 626h0M350 633h0M353 633h0M351 636h0M349 633h0M355 662h0M350 639h0M355 646h0M354 643h0M354 649h0M357 666h0M357 664h0M353 648h0M353 651h0M355 641h0M352 639h0M355 643h0M353 648h0M355 664h0M353 641h0M356 662h0M358 662h0M355 667h0M355 685h0M354 681h0M355 670h0M356 682h0M352 675h0M356 665h0M354 670h0M357 679h0M355 672h0M357 673h0M354 679h0M355 686h0M358 684h0M357 691h0M358 690h0M353 698h0M350 698h0M347 701h0M356 692h0M352 701h0M353 695h0M351 700h0M357 695h0M353 702h0M343 719h0M341 724h0M344 714h0M349 704h0M347 716h0M349 708h0M347 711h0M350 709h0M345 715h0M348 708h0M347 714h0M342 726h0M341 735h0M341 733h0M336 731h0M338 739h0M339 745h0M339 733h0M339 733h0M336 742h0M336 740h0M340 729h0M341 736h0M329 745h0M332 743h0M329 747h0M329 747h0M334 744h0M327 747h0M335 743h0M317 749h0M321 754h0M329 746h0M324 752h0M332 743h0M305 752h0M303 746h0M319 750h0M307 753h0M304 748h0M311 752h0M316 751h0M314 752h0M305 751h0M312 745h0M309 747h0M294 740h0M296 742h0M294 744h0M288 742h0M283 736h0M289 748h0M290 743h0M297 746h0M286 740h0M292 738h0M294 747h0M286 743h0M280 737h0M273 731h0M276 737h0M276 734h0M276 736h0M264 728h0M281 734h0M272 730h0M269 731h0M278 730h0M263 721h0M270 727h0M265 724h0M267 730h0M267 725h0" stroke="#EA619F" stroke-width="4" stroke-linecap="round" fill="none"/>
<path d="M394 747L417 735L452 735L480 743L504 750L520 753L513 770L504 780L480 780L457 775L434 773L417 777L401 775L391 761Z" fill="#D68A14" stroke="#D68A14" stroke-width="2" stroke-linejoin="round"/>
<path d="M392 750h0M411 740h0M407 743h0M416 739h0M411 735h0M410 743h0M420 738h0M405 742h0M412 736h0M400 736h0M402 741h0M400 746h0M408 741h0M400 745h0M400 743h0M400 743h0M437 734h0M423 734h0M426 737h0M449 736h0M430 738h0M434 739h0M442 735h0M441 738h0M448 736h0M425 734h0M444 735h0M432 732h0M437 733h0M448 734h0M427 738h0M447 735h0M432 735h0M447 737h0M448 733h0M427 737h0M445 737h0M460 742h0M467 741h0M477 745h0M453 736h0M476 743h0M454 739h0M477 738h0M469 739h0M477 743h0M475 740h0M458 733h0M470 740h0M454 736h0M471 740h0M458 739h0M473 740h0M478 744h0M460 743h0M503 749h0M486 746h0M500 749h0M499 749h0M497 748h0M499 748h0M494 745h0M501 749h0M482 747h0M482 740h0M496 747h0M489 744h0M493 751h0M505 749h0M487 747h0M520 749h0M521 752h0M509 749h0M516 755h0M511 756h0M509 749h0M506 748h0M517 751h0M522 754h0M505 752h0M511 769h0M518 754h0M516 754h0M518 755h0M522 757h0M511 771h0M515 764h0M510 771h0M520 763h0M519 755h0M510 769h0M511 770h0M511 772h0M512 777h0M507 779h0M508 771h0M511 773h0M512 770h0M509 772h0M502 778h0M485 784h0M501 778h0M481 776h0M493 778h0M505 778h0M488 778h0M495 775h0M484 782h0M490 780h0M498 780h0M496 782h0M485 779h0M479 784h0M459 777h0M456 777h0M475 778h0M477 782h0M470 776h0M475 777h0M470 775h0M470 777h0M458 781h0M482 779h0M474 779h0M459 773h0M462 775h0M464 776h0M449 774h0M446 774h0M432 771h0M457 776h0M442 776h0M453 772h0M452 774h0M444 775h0M437 775h0M452 776h0M448 771h0M431 770h0M453 772h0M450 773h0M432 774h0M424 774h0M423 774h0M426 774h0M431 774h0M421 780h0M432 775h0M425 778h0M428 770h0M421 775h0M408 777h0M415 778h0M405 777h0M410 775h0M414 779h0M402 773h0M416 777h0M403 774h0M409 777h0M415 779h0M393 765h0M392 767h0M400 773h0M398 773h0M397 767h0M397 773h0M396 774h0M397 770h0M401 767h0M397 773h0M391 756h0M392 754h0M392 750h0M395 756h0M388 748h0M391 756h0M391 760h0M392 751h0" stroke="#D68A14" stroke-width="4" stroke-linecap="round" fill="none"/>
<path d="M504 754L523 761L541 773L560 782L579 777L583 754L590 749L597 761L611 754L623 742L632 747L625 770L621 794L621 812L611 826L597 836L583 833L569 826L558 815L541 801L525 789L513 775Z" fill="#1FB5B7" stroke="#1FB5B7" stroke-width="2" stroke-linejoin="round"/>
<path d="M514 761h0M511 755h0M507 756h0M519 759h0M520 759h0M511 756h0M502 758h0M520 765h0M520 757h0M519 756h0M515 760h0M512 759h0M531 766h0M525 764h0M530 765h0M532 771h0M536 766h0M530 763h0M529 767h0M537 767h0M537 772h0M528 767h0M536 768h0M528 760h0M533 766h0M548 776h0M544 772h0M558 778h0M545 776h0M556 777h0M548 779h0M558 777h0M555 782h0M548 775h0M543 779h0M555 784h0M557 782h0M555 781h0M575 778h0M571 780h0M567 780h0M567 778h0M572 778h0M559 779h0M567 785h0M577 781h0M570 780h0M564 778h0M571 781h0M564 781h0M588 760h0M581 770h0M581 764h0M583 757h0M576 760h0M578 777h0M582 758h0M578 767h0M579 778h0M582 767h0M581 767h0M581 776h0M579 767h0M576 760h0M582 753h0M587 751h0M588 751h0M586 750h0M586 753h0M590 748h0M591 757h0M588 756h0M592 754h0M594 755h0M594 758h0M595 753h0M597 758h0M610 751h0M603 758h0M598 757h0M600 758h0M607 759h0M601 758h0M603 757h0M601 756h0M607 754h0M610 753h0M618 745h0M621 748h0M621 748h0M617 751h0M619 750h0M615 749h0M613 752h0M620 742h0M623 748h0M628 744h0M627 744h0M625 744h0M630 741h0M634 746h0M630 751h0M627 764h0M634 748h0M629 760h0M624 764h0M631 763h0M630 749h0M630 751h0M632 757h0M627 755h0M632 744h0M625 768h0M630 752h0M628 756h0M623 769h0M628 769h0M624 778h0M623 775h0M622 778h0M627 780h0M626 774h0M622 783h0M621 793h0M620 785h0M621 776h0M626 776h0M624 783h0M620 791h0M623 774h0M621 781h0M621 803h0M621 812h0M618 807h0M621 796h0M621 810h0M619 808h0M619 792h0M617 795h0M623 792h0M621 795h0M623 800h0M618 818h0M618 814h0M620 814h0M620 819h0M615 823h0M621 811h0M611 827h0M623 812h0M613 820h0M612 824h0M607 829h0M600 832h0M603 835h0M601 835h0M599 835h0M600 829h0M606 832h0M601 832h0M601 830h0M609 827h0M588 835h0M587 838h0M589 834h0M596 835h0M588 834h0M593 837h0M589 835h0M588 840h0M577 831h0M568 829h0M569 830h0M580 832h0M578 829h0M577 829h0M579 832h0M571 826h0M575 830h0M566 820h0M562 819h0M560 817h0M563 818h0M567 825h0M568 825h0M569 828h0M569 823h0M567 828h0M569 825h0M540 803h0M544 803h0M543 803h0M552 811h0M550 811h0M552 814h0M557 811h0M556 813h0M549 805h0M552 808h0M547 797h0M542 805h0M550 813h0M532 790h0M541 799h0M536 797h0M533 794h0M532 794h0M530 792h0M540 798h0M532 798h0M528 790h0M530 794h0M529 789h0M521 790h0M522 782h0M516 772h0M522 783h0M519 787h0M517 774h0M524 789h0M522 787h0M523 785h0M513 781h0M521 787h0M523 790h0M514 773h0M515 774h0M512 770h0M504 759h0M510 775h0M514 767h0M512 772h0M508 757h0M508 762h0M508 766h0M511 768h0M504 756h0M506 753h0M512 767h0" stroke="#1FB5B7" stroke-width="4" stroke-linecap="round" fill="none"/>
<path d="M597 836L611 826L623 815L640 817L649 831L656 854L658 878L654 901L644 925L628 946L609 956L593 943L579 929L572 915L581 897L588 873L595 852Z" fill="#6A93CE" stroke="#6A93CE" stroke-width="2" stroke-linejoin="round"/>
<path d="M597 838h0M608 824h0M611 825h0M604 829h0M596 832h0M599 829h0M601 836h0M609 830h0M604 829h0M601 834h0M612 826h0M612 824h0M619 818h0M618 821h0M615 823h0M616 823h0M624 817h0M612 827h0M618 818h0M624 813h0M635 816h0M627 815h0M630 818h0M633 818h0M635 816h0M637 811h0M640 818h0M633 821h0M638 816h0M631 817h0M645 826h0M647 823h0M642 827h0M637 818h0M649 827h0M642 822h0M646 827h0M643 821h0M650 829h0M647 830h0M650 834h0M652 848h0M657 848h0M648 837h0M652 838h0M654 839h0M649 834h0M658 857h0M647 839h0M649 834h0M649 837h0M656 847h0M655 846h0M656 855h0M655 850h0M658 874h0M658 869h0M660 874h0M660 873h0M656 867h0M657 869h0M660 870h0M658 879h0M660 873h0M657 873h0M657 859h0M658 874h0M658 862h0M656 855h0M657 894h0M657 892h0M658 889h0M658 880h0M651 896h0M656 882h0M657 883h0M656 890h0M653 893h0M656 899h0M657 890h0M659 885h0M656 898h0M651 901h0M647 920h0M650 901h0M644 921h0M648 916h0M653 910h0M639 924h0M655 903h0M640 925h0M656 898h0M651 909h0M644 919h0M653 902h0M654 903h0M648 911h0M648 921h0M639 933h0M634 934h0M626 946h0M640 938h0M632 936h0M639 932h0M640 934h0M642 929h0M639 927h0M641 927h0M635 936h0M641 923h0M642 931h0M642 932h0M634 939h0M640 936h0M616 955h0M624 949h0M609 955h0M622 947h0M613 954h0M627 947h0M617 951h0M622 953h0M623 947h0M613 952h0M623 946h0M612 956h0M620 946h0M603 951h0M597 945h0M603 949h0M606 951h0M596 947h0M597 949h0M609 959h0M595 945h0M596 945h0M597 947h0M605 956h0M605 958h0M601 952h0M591 940h0M591 945h0M593 936h0M589 936h0M585 941h0M581 930h0M589 941h0M584 931h0M593 939h0M589 941h0M589 939h0M587 939h0M573 924h0M571 923h0M571 917h0M579 928h0M578 924h0M576 918h0M573 925h0M573 924h0M576 925h0M582 900h0M572 916h0M572 912h0M582 902h0M581 900h0M574 902h0M570 912h0M579 908h0M569 910h0M575 910h0M578 901h0M584 900h0M577 905h0M584 886h0M585 877h0M585 884h0M587 884h0M584 892h0M589 886h0M591 876h0M586 879h0M585 876h0M587 878h0M587 876h0M586 893h0M585 895h0M585 880h0M584 887h0M598 867h0M593 870h0M596 859h0M590 863h0M592 861h0M593 856h0M587 869h0M594 859h0M593 862h0M587 874h0M588 871h0M590 854h0M592 855h0M596 846h0M593 841h0M593 853h0M598 839h0M598 851h0M595 837h0M592 842h0M595 839h0M596 841h0M593 851h0" stroke="#6A93CE" stroke-width="4" stroke-linecap="round" fill="none"/>
<path d="M623 742L642 742L663 749L677 751L684 763L698 781L689 794L679 803L668 794L654 803L644 812L635 817L623 810L621 794L625 770L632 747Z" fill="#21A7E0" stroke="#21A7E0" stroke-width="2" stroke-linejoin="round"/>
<path d="M629 741h0M629 743h0M642 742h0M635 744h0M633 743h0M627 738h0M627 743h0M627 740h0M628 746h0M636 743h0M629 738h0M662 750h0M662 747h0M648 744h0M644 740h0M656 742h0M657 748h0M651 750h0M658 748h0M647 744h0M652 744h0M654 752h0M660 751h0M642 745h0M672 751h0M663 749h0M664 747h0M670 753h0M667 749h0M662 752h0M666 751h0M665 752h0M680 762h0M680 751h0M681 756h0M681 762h0M679 757h0M681 764h0M679 757h0M676 756h0M695 773h0M692 771h0M688 764h0M689 771h0M686 771h0M694 773h0M694 775h0M686 769h0M694 776h0M691 767h0M695 771h0M688 767h0M690 778h0M689 769h0M694 791h0M691 791h0M698 782h0M691 790h0M695 786h0M694 781h0M695 791h0M698 784h0M690 788h0M684 799h0M688 794h0M688 799h0M683 802h0M680 801h0M683 798h0M686 793h0M689 797h0M676 804h0M670 800h0M676 807h0M672 793h0M674 795h0M678 803h0M668 797h0M676 800h0M671 791h0M665 800h0M656 802h0M667 793h0M655 803h0M660 794h0M662 795h0M656 799h0M662 802h0M656 802h0M665 795h0M643 810h0M646 810h0M654 803h0M651 801h0M644 806h0M655 804h0M648 812h0M648 812h0M636 814h0M639 820h0M636 814h0M633 816h0M643 812h0M636 813h0M629 813h0M624 808h0M626 813h0M627 810h0M623 809h0M636 817h0M631 817h0M637 814h0M620 801h0M618 805h0M620 790h0M624 810h0M617 811h0M623 796h0M624 807h0M621 809h0M619 798h0M622 802h0M622 777h0M625 788h0M625 783h0M627 770h0M624 784h0M625 776h0M620 795h0M627 782h0M624 785h0M625 792h0M624 779h0M623 775h0M627 773h0M620 769h0M632 765h0M625 763h0M634 755h0M631 754h0M621 772h0M625 766h0M626 762h0M627 768h0M630 755h0M630 768h0M630 754h0M630 748h0M633 758h0M631 753h0M630 756h0M627 743h0M630 748h0M629 747h0M627 744h0M631 745h0M632 742h0" stroke="#21A7E0" stroke-width="4" stroke-linecap="round" fill="none"/>
<path d="M450 906L464 899L483 898L494 908L504 922L499 934L487 940L476 936L466 925L457 913Z" fill="#EA736D" stroke="#EA736D" stroke-width="2" stroke-linejoin="round"/>
<path d="M462 900h0M459 899h0M449 906h0M460 902h0M451 904h0M447 907h0M454 906h0M449 907h0M455 902h0M464 897h0M484 900h0M476 899h0M476 896h0M472 896h0M473 901h0M480 894h0M474 900h0M476 896h0M479 898h0M479 899h0M493 909h0M496 909h0M488 900h0M494 907h0M486 899h0M480 897h0M487 898h0M492 910h0M489 907h0M494 910h0M502 921h0M494 910h0M496 908h0M497 917h0M508 920h0M501 917h0M496 906h0M500 919h0M503 921h0M502 927h0M503 931h0M503 923h0M502 927h0M500 932h0M506 920h0M502 933h0M498 935h0M484 942h0M484 936h0M495 936h0M498 933h0M492 941h0M497 935h0M484 940h0M482 936h0M482 935h0M475 941h0M477 936h0M482 938h0M484 939h0M479 934h0M473 930h0M470 932h0M472 933h0M464 922h0M474 937h0M474 938h0M474 929h0M466 927h0M478 932h0M460 916h0M464 921h0M466 924h0M463 923h0M466 926h0M462 922h0M467 921h0M459 916h0M466 920h0M458 907h0M453 912h0M455 915h0M450 906h0M455 910h0M454 903h0" stroke="#EA736D" stroke-width="4" stroke-linecap="round" fill="none"/>
<path d="M513 863L532 854L534 845L546 850L560 852L558 861L548 868L532 864Z" fill="#BC6DAA" stroke="#BC6DAA" stroke-width="2" stroke-linejoin="round"/>
<path d="M515 861h0M521 864h0M530 854h0M530 858h0M526 859h0M515 860h0M515 865h0M521 857h0M528 859h0M516 862h0M512 866h0M527 858h0M533 849h0M529 852h0M532 852h0M531 849h0M532 847h0M537 844h0M540 848h0M547 847h0M544 851h0M540 851h0M536 844h0M538 844h0M550 850h0M548 848h0M557 853h0M544 850h0M552 852h0M548 852h0M548 851h0M552 851h0M556 851h0M558 859h0M559 856h0M560 855h0M555 860h0M554 854h0M555 856h0M560 865h0M552 865h0M548 869h0M557 862h0M556 862h0M549 864h0M557 866h0M544 870h0M537 864h0M531 867h0M542 865h0M546 869h0M550 872h0M540 865h0M539 866h0M547 866h0M537 863h0M513 862h0M516 864h0M526 863h0M522 863h0M517 863h0M521 861h0M515 864h0M523 867h0M517 865h0M516 861h0M527 864h0" stroke="#BC6DAA" stroke-width="4" stroke-linecap="round" fill="none"/>
<path d="M158 882h0M132 862h0M172 819h0M175 854h0M150 874h0M192 887h0M177 821h0M178 873h0M150 836h0M192 900h0M174 871h0M196 960h0M172 910h0M193 929h0M188 945h0M183 937h0M269 959h0M282 1059h0M263 1022h0M237 948h0M269 1002h0M228 1048h0M268 967h0M232 1062h0M319 1031h0M244 984h0M248 1052h0M294 1013h0M288 1010h0M329 1007h0M328 990h0M270 953h0M263 1082h0M247 936h0M286 998h0M264 1080h0M200 1036h0M282 1026h0M261 1062h0M274 930h0M298 1080h0M321 1025h0M262 1057h0M245 926h0M321 1036h0M276 1085h0M285 1070h0M210 1011h0M222 963h0M217 989h0M202 1027h0M289 1076h0M321 1004h0M331 994h0M207 1036h0M273 1075h0M267 962h0M291 1037h0M262 952h0M256 1038h0M265 1027h0M307 958h0M208 993h0M202 1036h0M285 992h0M292 1000h0M222 1034h0M319 1009h0M269 1037h0M267 973h0M319 953h0M312 1026h0M283 1044h0M234 1062h0M274 1047h0M255 969h0M295 994h0M274 1071h0M295 1003h0M267 948h0M228 1030h0M235 999h0M206 996h0M248 952h0M318 1066h0M289 974h0M257 1017h0M272 1068h0M325 962h0M289 1026h0M406 898h0M362 917h0M353 912h0M396 883h0M384 930h0M392 885h0M371 895h0M410 898h0M296 920h0M317 872h0M303 835h0M377 796h0M316 839h0M261 768h0M313 908h0M302 749h0M333 768h0M278 827h0M348 830h0M300 823h0M315 797h0M259 855h0M291 892h0M283 830h0M286 851h0M281 881h0M299 889h0M282 835h0M320 891h0M334 829h0M253 761h0M261 776h0M267 879h0M289 932h0M274 789h0M267 767h0M338 861h0M276 911h0M337 829h0M327 878h0M303 756h0M294 874h0M364 817h0M294 847h0M277 782h0M259 884h0M313 942h0M328 870h0M303 828h0M261 854h0M280 763h0M365 860h0M366 800h0M323 796h0M359 781h0M333 856h0M287 754h0M310 849h0M357 780h0M267 802h0M355 786h0M311 761h0M308 939h0M296 856h0M301 845h0M323 811h0M281 777h0M295 866h0M319 780h0M264 858h0M264 877h0M328 950h0M335 849h0M310 921h0M308 783h0M299 753h0M323 784h0M341 774h0M339 869h0M283 883h0M297 929h0M326 793h0M358 883h0M305 821h0M354 877h0M318 925h0M307 757h0M366 785h0M337 825h0M326 855h0M318 836h0M299 885h0M256 885h0M318 813h0M254 756h0M318 926h0M488 771h0M453 773h0M416 750h0M458 767h0M449 749h0M503 753h0M445 745h0M454 766h0M438 765h0M418 738h0M418 742h0M501 758h0M397 747h0M457 743h0M449 745h0M468 740h0M458 764h0M403 759h0M583 827h0M576 812h0M602 768h0M583 777h0M565 792h0M590 758h0M612 757h0M626 746h0M627 761h0M599 788h0M619 795h0M578 820h0M569 801h0M556 810h0M574 809h0M546 787h0M565 812h0M537 797h0M635 853h0M652 904h0M615 910h0M597 943h0M626 825h0M598 915h0M593 928h0M631 881h0M621 919h0M630 871h0M615 887h0M632 912h0M616 896h0M629 816h0M610 952h0M589 881h0M641 928h0M647 851h0M652 867h0M611 949h0M619 911h0M643 850h0M588 915h0M599 889h0M640 897h0M631 863h0M636 894h0" stroke="#fff" stroke-width="2.2" stroke-linecap="round" fill="none" opacity="0.85"/>
<path d="M369 712h0M361 750h0M360 740h0M383 762h0M362 716h0M350 730h0M371 759h0M366 751h0M366 724h0M357 734h0M394 759h0M374 772h0M373 720h0M388 743h0M379 775h0M368 738h0M338 737h0M394 770h0M362 742h0M364 764h0M381 726h0M365 709h0M369 734h0M345 739h0M356 717h0M355 720h0M356 730h0M371 724h0M376 748h0M370 752h0M348 730h0M385 751h0M382 752h0M375 759h0M407 761h0M395 745h0M355 749h0M383 733h0M363 758h0M392 735h0M348 739h0M376 737h0M388 748h0M384 758h0M362 722h0M354 716h0M361 721h0M354 713h0M372 729h0M341 708h0M366 715h0M350 713h0M396 768h0M362 720h0M376 724h0M376 770h0M392 762h0M378 755h0M394 738h0M373 743h0M388 732h0M393 737h0M367 730h0M395 768h0M395 747h0M371 726h0M378 767h0M407 773h0M386 769h0M348 734h0M377 745h0M360 746h0M362 755h0M388 750h0M349 712h0M357 725h0M363 721h0M360 732h0M381 742h0M389 752h0M373 769h0M369 747h0M360 745h0M392 751h0M368 756h0M366 730h0M371 723h0M338 725h0M379 760h0M349 712h0M352 738h0M358 734h0M341 745h0M408 765h0M357 720h0M386 742h0M398 753h0M400 744h0M349 735h0M351 745h0M349 729h0M386 749h0M379 731h0M395 755h0M350 747h0M371 732h0M377 740h0M385 747h0M392 733h0M405 765h0M384 748h0M395 759h0M365 762h0M364 736h0M359 730h0M352 770h0M360 720h0M397 743h0M356 722h0M365 725h0M373 742h0M372 776h0M374 740h0M341 710h0M378 720h0M365 723h0M351 749h0M385 738h0M373 740h0M362 753h0M352 752h0M375 739h0M371 757h0M365 725h0M379 725h0M360 739h0M393 769h0M394 765h0M338 702h0M364 726h0M396 750h0M364 721h0M358 725h0M381 758h0M387 735h0M369 718h0M372 746h0M349 746h0M359 747h0M369 753h0M382 738h0M379 746h0M376 724h0M348 712h0M368 766h0M340 696h0M357 720h0M353 756h0M362 721h0M365 778h0M370 725h0M366 731h0M339 734h0M340 745h0M358 749h0M401 750h0M381 723h0M384 743h0M367 742h0M362 726h0M396 741h0M363 719h0M380 748h0M368 762h0M389 754h0M350 731h0M361 712h0M375 728h0M380 746h0M363 748h0M371 746h0M357 717h0M333 738h0M368 755h0M396 767h0M346 749h0M380 741h0M365 725h0M358 732h0M380 754h0M397 736h0M391 759h0M388 745h0M370 755h0M403 755h0M373 724h0M348 735h0M387 753h0M361 709h0M396 737h0M379 737h0M365 776h0M374 726h0M374 744h0M381 777h0M394 759h0M382 746h0M364 760h0M358 734h0M377 777h0M360 708h0M377 755h0M362 738h0M379 761h0M396 768h0M376 734h0M348 712h0M377 730h0M351 740h0M361 729h0M356 728h0M388 742h0M400 745h0M389 745h0M354 743h0M402 754h0M346 745h0M367 711h0M382 748h0M355 718h0M362 724h0M350 746h0M377 758h0M385 732h0M348 712h0M392 766h0M397 755h0M385 762h0M356 719h0M375 767h0M384 759h0M370 721h0M365 750h0M359 730h0M376 747h0M384 733h0M370 761h0M359 698h0M355 747h0M353 743h0M411 768h0M384 741h0M393 754h0M408 768h0M393 747h0M392 768h0M340 719h0M357 738h0M370 733h0M376 772h0" stroke="#D68A14" stroke-width="4" stroke-linecap="round" fill="none"/>
<path d="M421 791h0M473 783h0M465 803h0M421 796h0M417 793h0M485 785h0M438 789h0M465 805h0M433 807h0M412 802h0M399 771h0M421 798h0M428 788h0M435 778h0M405 789h0M439 774h0M422 811h0M419 797h0M421 804h0M445 771h0M404 782h0M421 806h0M475 778h0M472 805h0M427 799h0M461 794h0M401 788h0M409 779h0M421 799h0M445 777h0M420 806h0M413 784h0M476 794h0M446 787h0M415 795h0M466 774h0M449 794h0M474 800h0M415 796h0M426 780h0M414 799h0M422 789h0M478 786h0M420 801h0M442 797h0M408 781h0M427 776h0M404 775h0M433 807h0M436 784h0M482 786h0M416 784h0M483 791h0M417 819h0M406 775h0M406 793h0M423 795h0M504 785h0M414 806h0M415 794h0M488 791h0M417 787h0M416 793h0M411 818h0M430 797h0M424 785h0M402 774h0M422 799h0M419 784h0M418 779h0M427 793h0M400 788h0M452 799h0M426 784h0M478 791h0M403 783h0M487 783h0M421 777h0M405 776h0M479 805h0M448 787h0M416 805h0M419 806h0M434 782h0M443 796h0M410 786h0M439 779h0M483 798h0M426 773h0M482 797h0M455 787h0M411 793h0M425 799h0M416 774h0M413 797h0M421 804h0M420 794h0M475 793h0M457 778h0M410 795h0M455 783h0M440 798h0M492 789h0M446 777h0M410 785h0M445 789h0M433 793h0M411 788h0M423 793h0M419 807h0M409 779h0M457 779h0M415 796h0M448 795h0M408 782h0M495 794h0M458 799h0M482 780h0M400 780h0M415 806h0M444 793h0M447 794h0M466 783h0M430 793h0M476 786h0M417 792h0M433 784h0M432 782h0M475 784h0M417 797h0M431 780h0M499 786h0M395 782h0M478 785h0M445 793h0M496 785h0M416 782h0M486 782h0M462 789h0M427 796h0M417 816h0M429 774h0M449 788h0M423 804h0M468 785h0M418 794h0M405 785h0M419 800h0M483 799h0M428 806h0M472 790h0M434 791h0M441 790h0M443 804h0M489 792h0M443 775h0M417 804h0M455 806h0M470 799h0M429 790h0M415 802h0M453 791h0M495 802h0M464 788h0M437 787h0M415 792h0M426 782h0M467 795h0M400 778h0M410 776h0M477 800h0M442 799h0M424 804h0M419 795h0M493 797h0M414 788h0M480 790h0M425 790h0M484 783h0M480 802h0M417 797h0M415 798h0M421 803h0M412 785h0M490 781h0M415 798h0M423 785h0M421 784h0M420 796h0M426 797h0M438 781h0M454 799h0M440 793h0M487 786h0M438 792h0M474 793h0M485 799h0M442 774h0M475 789h0M413 787h0" stroke="#D68A14" stroke-width="4" stroke-linecap="round" fill="none"/>
<path d="M476 807h0M474 807h0M450 819h0M466 805h0M452 822h0M477 807h0M479 805h0M523 835h0M473 803h0M480 809h0M510 814h0M449 818h0M466 803h0M473 803h0M450 819h0M475 806h0" stroke="#D68A14" stroke-width="4" stroke-linecap="round" fill="none"/>
<path d="M393 695h0M352 671h0M377 678h0M371 681h0M294 638h0M368 684h0M370 687h0M362 689h0M352 674h0M372 686h0" stroke="#D68A14" stroke-width="4" stroke-linecap="round" fill="none"/>
<path d="M305 678h0M302 664h0M298 643h0M305 670h0M301 652h0M305 693h0M301 651h0M289 641h0M303 660h0M310 680h0M298 633h0M302 674h0M300 654h0M289 635h0" stroke="#D68A14" stroke-width="4" stroke-linecap="round" fill="none"/>
<path d="M319 855h0M266 825h0M307 862h0M296 870h0M307 842h0M300 857h0M344 914h0M305 869h0M299 859h0M330 890h0M342 751h0M325 755h0M264 834h0M304 826h0M345 759h0M313 753h0M313 755h0M315 856h0M333 783h0M277 843h0M288 847h0M306 901h0" stroke="#D68A14" stroke-width="4" stroke-linecap="round" fill="none"/>
<path d="M418 828h0M385 818h0M423 828h0M426 829h0M422 829h0M401 822h0M379 816h0M386 817h0M394 816h0M407 822h0M419 828h0M413 827h0M405 824h0M428 830h0M386 819h0M425 829h0M419 826h0M419 827h0M425 827h0M417 828h0M421 826h0M389 817h0M421 828h0M435 836h0M410 826h0M396 821h0M432 838h0M428 834h0M426 829h0M393 818h0M419 826h0M423 831h0M422 829h0M423 829h0M423 828h0M420 828h0M427 830h0M431 837h0M396 820h0M426 827h0M427 830h0M415 823h0M413 821h0M415 822h0M399 824h0M407 825h0M421 827h0M425 831h0M413 827h0M421 827h0M431 835h0M434 836h0M426 828h0M419 828h0M430 837h0M431 832h0M416 828h0M385 817h0M393 821h0M421 828h0M417 826h0M421 826h0M421 831h0M406 824h0M428 827h0M425 831h0M427 832h0M429 837h0M418 828h0M424 834h0M429 832h0M429 830h0M422 825h0M408 822h0M432 836h0M394 819h0M388 814h0M422 829h0M424 827h0M406 822h0M425 830h0M428 832h0M400 823h0M422 829h0M420 829h0M424 828h0M424 833h0M415 824h0M401 822h0M395 820h0M402 823h0M395 818h0M422 826h0M419 827h0M421 826h0M419 828h0M418 828h0M425 829h0M423 828h0M404 821h0M419 829h0M430 838h0M408 821h0M436 836h0M418 828h0M423 830h0M420 825h0M428 832h0M400 822h0M427 835h0" stroke="#EA736D" stroke-width="4" stroke-linecap="round" fill="none"/>
<path d="M422 849h0M427 847h0M479 884h0M419 847h0M428 847h0" stroke="#EA736D" stroke-width="4" stroke-linecap="round" fill="none"/>
<path d="M573 847h0M533 843h0M529 844h0M526 844h0M503 863h0M530 842h0M572 845h0M566 848h0M577 846h0M512 863h0M502 863h0M572 845h0M504 862h0M593 843h0M531 845h0M536 846h0M501 862h0M566 850h0M573 847h0M535 845h0M582 844h0M533 844h0M514 859h0M578 848h0M572 848h0M507 861h0M517 862h0M581 845h0M589 847h0M535 845h0M533 846h0M562 853h0M580 844h0M503 862h0M588 846h0M579 847h0M576 845h0M568 849h0M564 852h0M585 845h0M567 848h0M576 847h0M596 845h0M577 844h0M532 842h0M532 842h0M529 841h0M587 846h0M530 843h0M573 843h0M589 848h0M511 863h0M529 840h0M584 845h0M532 844h0M573 845h0M586 846h0M563 851h0M574 846h0M589 847h0" stroke="#BC6DAA" stroke-width="4" stroke-linecap="round" fill="none"/>
<path d="M446 839h0M432 860h0M445 851h0M449 838h0M446 842h0M449 848h0M439 852h0M450 849h0M454 830h0M448 853h0M435 856h0M432 858h0M412 862h0M416 863h0M447 838h0M453 827h0M444 853h0M428 861h0M445 851h0M437 856h0M443 852h0M447 854h0M448 852h0M449 852h0M441 852h0M431 857h0M447 852h0M446 837h0M442 854h0M446 837h0M450 824h0M448 843h0M449 848h0M453 833h0M423 862h0M434 861h0M447 855h0M447 840h0M456 836h0M442 856h0M420 863h0M431 858h0M452 823h0M453 827h0M415 863h0M447 847h0M430 860h0M448 853h0M452 825h0M439 856h0M450 849h0M441 853h0M456 835h0M448 850h0M418 862h0M449 843h0M445 839h0M444 851h0M417 863h0M430 857h0M441 853h0M455 833h0M449 838h0M450 850h0M447 839h0M426 861h0M415 864h0M447 837h0M418 864h0M416 862h0M424 860h0M432 862h0M446 838h0M446 840h0M447 844h0M445 843h0M430 860h0M452 831h0M422 862h0M423 861h0M456 838h0M446 838h0M447 837h0M430 858h0M434 856h0M445 855h0M446 840h0M449 847h0M445 852h0M436 856h0" stroke="#BC6DAA" stroke-width="4" stroke-linecap="round" fill="none"/>
<path d="M404 812h0M406 857h0M374 856h0M407 854h0M388 846h0M406 820h0M405 801h0M384 840h0M385 837h0M404 808h0M384 845h0M400 837h0M386 846h0M411 826h0M403 814h0M401 817h0M404 845h0M380 838h0M408 833h0M384 836h0M383 838h0M393 863h0M384 861h0M413 838h0M395 858h0M384 860h0M401 843h0M406 815h0M393 862h0M388 848h0M373 858h0M405 845h0M399 854h0M405 851h0M377 828h0M379 833h0M402 809h0M365 855h0M390 861h0M405 812h0M383 836h0M400 843h0M382 859h0M379 859h0M406 855h0M409 835h0M405 836h0M385 857h0M375 857h0M408 866h0M391 861h0M392 863h0M385 849h0M407 852h0M404 858h0M380 856h0M380 836h0M385 852h0M404 850h0M391 861h0M407 862h0M401 841h0M383 836h0M377 834h0M375 853h0M406 857h0M404 807h0M410 857h0M405 820h0M394 854h0" stroke="#7DA62B" stroke-width="4" stroke-linecap="round" fill="none"/>
<path d="M444 899h0M421 906h0M417 900h0M443 908h0M443 892h0M444 897h0M441 908h0M421 902h0M443 900h0M437 911h0M430 908h0M445 894h0M447 898h0M433 903h0M447 914h0M415 900h0M438 907h0M423 903h0M444 897h0M436 907h0M426 904h0M424 901h0" stroke="#7DA62B" stroke-width="4" stroke-linecap="round" fill="none"/>
<path d="M413 905h0M426 913h0M422 905h0M429 907h0M391 853h0M379 851h0M386 857h0M374 850h0M428 906h0M414 901h0M431 909h0M404 855h0M380 846h0M421 903h0M428 901h0M389 854h0M366 844h0M381 851h0M421 902h0M403 859h0M401 856h0M424 904h0M417 901h0M387 850h0" stroke="#7DA62B" stroke-width="4" stroke-linecap="round" fill="none"/>
<path d="M349 767h0M369 782h0M335 750h0M357 767h0M354 771h0M357 761h0M359 777h0M368 783h0M348 763h0M351 774h0M378 796h0M377 802h0M357 779h0M386 783h0M346 747h0M380 793h0M349 760h0M368 783h0M342 755h0M339 760h0M342 742h0M360 779h0M356 782h0M371 777h0M385 796h0M379 790h0M355 772h0M334 749h0M376 799h0M347 750h0M354 773h0M383 799h0M375 789h0M347 760h0M349 767h0M353 766h0M341 752h0M351 757h0M371 788h0M361 783h0M375 782h0M351 762h0M361 773h0M352 768h0M360 778h0M350 766h0M362 777h0M366 782h0M345 755h0M349 770h0M347 753h0M369 777h0M341 748h0M343 762h0M361 766h0M381 793h0M347 757h0M336 751h0M383 792h0M364 779h0M338 748h0M369 778h0M339 746h0M340 749h0M338 746h0M378 798h0M356 764h0M376 785h0M349 773h0M372 785h0M360 774h0M350 758h0M364 783h0M352 757h0M370 791h0M371 791h0M381 792h0M349 756h0M339 749h0M345 744h0M358 776h0M352 766h0M345 750h0M340 758h0M357 769h0M381 795h0M379 805h0M354 771h0M371 783h0M346 758h0M349 761h0M350 769h0M362 784h0M346 764h0M345 749h0M371 779h0M347 760h0M346 745h0M342 750h0M366 781h0M348 754h0M353 768h0M342 755h0M344 746h0M341 742h0M376 795h0M352 769h0M339 749h0M376 784h0M344 749h0M359 781h0M377 801h0M369 785h0M376 788h0M386 792h0M352 770h0M337 741h0M337 744h0M370 794h0M341 766h0" stroke="#18B184" stroke-width="4" stroke-linecap="round" fill="none"/>
<path d="M241 792h0M197 848h0M217 847h0M211 835h0M241 859h0M211 853h0M241 875h0M215 846h0M224 861h0M241 880h0M201 843h0M245 879h0M243 890h0M247 898h0M232 791h0M206 840h0M217 850h0M217 853h0M249 843h0M240 865h0M236 821h0M209 845h0M217 854h0M246 853h0M209 839h0M242 863h0M230 841h0M203 836h0M228 814h0M231 842h0M211 843h0M240 881h0M237 782h0M205 840h0M245 881h0M240 820h0M215 843h0M226 860h0M245 859h0M246 892h0M242 830h0M231 851h0M212 840h0M238 824h0M239 888h0M216 845h0M233 856h0M231 868h0M242 895h0M196 841h0M236 800h0M240 866h0M235 879h0M234 828h0M218 854h0M230 854h0M240 843h0M239 812h0M245 892h0M232 853h0M218 853h0M225 855h0M233 805h0M231 854h0M233 810h0M198 834h0M218 848h0M235 839h0M240 872h0M244 874h0M213 840h0M220 851h0M241 855h0M247 873h0M215 847h0M235 854h0M232 812h0M233 850h0M242 877h0M228 837h0M235 860h0M238 859h0M237 859h0M243 886h0M234 851h0M238 797h0M242 879h0M229 842h0M231 833h0M245 827h0" stroke="#18B184" stroke-width="4" stroke-linecap="round" fill="none"/>
<path d="M292 733h0M256 724h0M277 736h0M350 735h0M329 723h0M299 720h0M343 728h0M308 727h0M302 727h0M324 730h0M345 725h0M278 722h0M271 719h0M342 741h0M252 712h0M358 728h0M306 731h0M294 719h0M268 720h0M278 717h0M354 732h0M315 720h0" stroke="#18B184" stroke-width="4" stroke-linecap="round" fill="none"/>
<path d="M230 957h0M207 922h0M217 923h0M214 930h0M182 845h0M204 931h0M199 919h0M190 841h0M219 940h0M204 933h0M205 945h0M221 933h0M217 934h0M222 883h0M215 937h0M230 933h0M216 928h0M180 841h0M182 819h0M206 926h0M215 931h0M225 884h0M176 816h0M218 891h0M209 928h0M228 881h0M203 932h0M217 928h0M202 927h0M223 951h0M224 896h0M241 908h0M195 922h0M214 923h0M219 929h0M202 926h0M211 866h0M243 897h0M218 963h0M223 888h0M231 956h0M233 895h0M220 955h0M194 921h0M209 938h0M213 921h0M241 933h0M182 835h0M215 958h0M220 962h0M219 923h0M198 912h0M223 940h0M244 915h0M236 937h0M182 839h0M217 919h0M212 889h0M239 891h0M218 922h0M237 902h0M239 935h0M209 926h0M203 930h0M226 887h0M226 958h0M221 950h0M219 933h0M221 876h0M233 888h0M236 908h0M227 884h0M249 909h0M222 929h0M224 951h0M201 873h0M203 917h0M223 956h0M176 836h0M226 902h0M184 827h0M219 944h0M211 944h0M214 926h0M174 826h0M238 906h0M220 925h0M228 898h0M220 888h0M215 926h0M178 825h0M167 814h0M209 927h0M181 842h0M214 921h0M208 942h0M206 927h0M198 867h0M179 817h0M231 935h0M173 833h0M208 935h0M207 922h0M238 898h0M193 848h0M229 938h0M179 849h0M182 836h0M214 930h0M227 895h0M193 847h0M211 927h0M209 929h0M213 926h0M190 822h0M217 938h0M173 821h0M179 825h0M220 963h0M220 952h0M180 840h0M223 955h0M226 933h0M188 832h0M187 918h0M216 927h0M202 932h0M219 878h0M234 908h0M177 829h0M201 933h0M218 927h0M226 891h0M176 820h0M207 943h0M220 924h0M172 820h0M205 877h0M205 872h0M183 836h0M210 875h0M198 921h0M182 815h0M210 927h0M206 922h0M226 949h0M213 945h0M215 945h0M187 819h0M207 927h0M218 875h0M202 855h0M179 827h0M233 931h0M225 943h0M218 962h0M240 901h0M204 873h0M217 938h0M221 963h0M211 939h0M232 932h0M184 836h0M188 834h0M210 882h0M218 930h0M223 898h0M220 951h0M190 927h0M178 823h0" stroke="#A07FBC" stroke-width="4" stroke-linecap="round" fill="none"/>
<path d="M223 893h0M201 907h0M213 895h0M217 876h0M206 876h0M199 891h0M203 895h0M202 898h0M211 896h0M206 880h0M225 889h0M206 900h0M216 895h0M223 892h0M217 875h0M200 902h0M213 896h0M210 885h0M190 912h0M193 911h0M206 879h0M216 874h0M186 921h0M214 891h0M206 905h0M205 890h0M227 882h0M208 895h0M204 898h0M219 891h0M215 878h0M235 890h0M211 878h0M216 896h0M207 900h0M189 904h0M214 874h0M223 881h0M209 899h0M232 882h0M218 889h0M207 899h0M195 902h0M201 901h0M221 882h0M200 893h0M233 882h0M201 893h0M216 895h0M202 914h0M220 877h0M202 883h0M205 875h0M203 906h0M211 890h0M202 877h0M192 909h0M211 908h0M207 871h0M210 873h0M226 894h0M212 889h0M223 883h0M212 896h0M233 885h0M217 898h0M201 906h0M221 893h0M221 872h0M200 918h0M214 891h0M199 901h0M204 903h0M209 875h0M224 891h0M220 889h0M222 890h0M245 889h0M210 905h0M210 899h0M217 873h0M188 913h0M209 892h0M216 882h0M224 879h0M225 892h0M183 894h0M188 917h0M204 871h0M203 902h0M218 885h0M205 897h0M214 897h0M213 891h0M222 894h0M225 871h0M204 906h0M228 884h0M199 908h0M200 904h0M212 874h0M214 875h0M217 891h0M218 872h0M221 896h0M217 897h0M211 871h0M212 872h0M220 879h0M185 900h0M201 869h0M208 902h0M199 907h0M204 914h0M217 893h0M192 906h0M212 880h0M220 892h0M189 908h0M204 902h0M196 906h0M227 891h0M190 911h0M198 905h0M203 905h0M214 908h0M211 902h0M211 901h0M229 882h0M202 897h0M196 896h0M208 901h0M213 899h0M200 898h0M211 893h0M216 878h0M210 895h0M213 898h0M230 893h0M221 897h0M218 901h0M206 900h0M232 889h0M202 875h0M188 911h0M225 897h0M209 877h0M213 888h0M193 912h0M199 895h0M218 895h0M205 898h0M226 880h0M186 915h0M212 896h0M219 880h0M210 898h0M230 895h0M216 876h0M191 910h0M224 877h0M198 913h0M217 868h0M194 899h0M216 881h0M223 892h0M223 872h0M216 894h0M222 894h0M206 899h0M206 894h0M229 880h0M200 871h0M217 891h0M210 876h0M203 909h0M187 912h0M197 895h0M192 909h0M223 881h0M224 896h0M204 903h0M200 905h0M196 866h0M210 906h0M215 903h0M212 889h0M195 908h0M226 895h0M216 892h0M219 896h0M202 901h0M223 877h0M211 870h0M230 881h0M209 874h0M192 898h0M216 893h0M215 898h0M215 878h0M219 876h0M199 909h0M185 903h0M230 888h0M220 890h0M202 874h0M219 876h0M206 902h0M187 908h0M187 908h0M193 910h0M205 894h0M210 893h0M209 875h0M217 893h0M203 908h0M229 884h0M225 877h0M235 882h0M219 876h0M223 883h0M210 907h0M236 890h0M209 890h0M196 910h0M197 905h0M199 905h0M192 912h0M188 908h0M226 872h0M211 907h0M217 879h0M222 883h0M202 911h0M221 883h0M214 882h0M210 894h0M220 879h0M212 883h0M207 890h0M201 871h0M193 903h0M204 893h0M218 877h0M200 896h0M199 894h0M207 876h0M222 895h0M188 912h0M209 866h0M238 886h0M202 898h0M214 891h0M197 919h0M185 905h0M219 878h0M221 881h0M209 890h0M226 890h0M211 875h0M200 909h0M210 897h0M226 894h0M190 907h0M204 866h0M200 874h0M215 886h0M203 916h0M209 874h0M213 901h0M208 869h0M190 908h0M228 886h0M208 895h0M205 906h0M210 872h0M192 907h0M225 885h0M205 872h0M215 895h0M207 896h0M213 866h0M190 901h0M212 875h0M213 870h0M215 897h0M215 877h0M219 874h0M187 907h0M211 890h0M186 911h0M208 875h0M206 901h0M209 902h0M194 898h0M208 890h0M196 914h0M233 883h0M219 879h0M238 888h0M204 906h0M200 898h0M191 903h0M212 897h0M202 911h0M212 896h0M240 886h0M214 866h0M213 874h0M205 892h0M196 908h0M200 903h0M187 912h0M214 900h0M211 899h0M197 905h0M204 894h0M207 869h0M217 878h0M209 901h0M205 909h0M223 882h0M219 877h0M221 883h0M223 879h0M214 877h0M226 884h0M202 908h0M190 902h0M230 882h0" stroke="#A07FBC" stroke-width="4" stroke-linecap="round" fill="none"/>
<path d="M615 885h0M509 754h0M512 764h0M603 879h0M503 747h0M606 850h0M602 880h0M539 755h0M571 755h0M505 754h0M612 908h0M547 759h0M614 892h0M554 752h0M624 896h0M606 865h0M537 753h0M599 880h0M599 879h0M605 868h0M607 879h0M560 763h0M608 875h0M596 884h0M559 766h0M602 877h0M609 876h0M519 755h0M606 875h0M603 881h0M611 878h0M607 880h0M601 881h0M605 876h0M605 853h0M503 753h0M510 755h0M600 875h0M614 882h0M605 852h0M599 853h0M599 860h0M605 874h0M616 865h0M606 872h0M520 761h0M617 896h0M559 766h0M609 900h0M599 874h0M602 885h0M509 752h0M598 878h0M597 860h0M611 890h0M523 757h0M614 874h0M617 906h0M611 880h0M605 867h0M592 877h0M501 753h0M538 756h0M508 748h0M564 764h0M541 759h0M503 752h0M608 885h0M615 901h0M605 878h0M523 756h0M511 749h0M514 758h0M571 760h0M513 752h0M614 886h0M601 842h0M596 879h0M556 762h0M508 761h0M546 763h0M510 759h0M571 769h0M549 767h0M613 885h0M619 901h0M617 909h0M512 758h0M621 913h0M550 756h0M554 764h0M605 857h0M595 874h0M520 756h0M559 763h0M572 756h0M609 878h0M613 887h0M599 879h0M559 761h0M517 754h0M607 871h0M511 762h0M507 750h0M605 880h0M616 901h0M598 881h0M619 902h0M504 751h0M603 868h0M608 883h0M613 900h0M604 845h0M562 762h0M614 895h0M555 760h0M514 761h0M516 759h0M550 757h0M609 882h0M600 856h0M544 756h0M599 872h0M552 760h0M511 755h0M565 761h0M602 881h0M611 888h0M588 882h0M507 751h0" stroke="#1FB5B7" stroke-width="4" stroke-linecap="round" fill="none"/>
<path d="M651 816h0M680 800h0M642 812h0M650 814h0M678 800h0M679 802h0M651 812h0M675 804h0M649 814h0M679 803h0M648 814h0M677 802h0M646 813h0M683 799h0" stroke="#21A7E0" stroke-width="4" stroke-linecap="round" fill="none"/>
<path d="M621 875h0M588 840h0M613 888h0M647 905h0M605 837h0M621 859h0M626 860h0M615 856h0M620 848h0M622 852h0M630 900h0M627 853h0M615 821h0M602 825h0M590 841h0M638 866h0M607 878h0M604 829h0M635 858h0M598 873h0M627 894h0M595 864h0M605 885h0M589 844h0M610 836h0M608 828h0M634 859h0M605 848h0M633 915h0M624 857h0M625 875h0M639 888h0M608 830h0M626 894h0M608 895h0M600 865h0M613 867h0M615 856h0M592 846h0M611 855h0M613 842h0M631 860h0M603 861h0M599 872h0M618 866h0M624 871h0M615 844h0M620 862h0M608 839h0M618 884h0M609 880h0M628 846h0M596 842h0M637 857h0M632 893h0M615 832h0M637 868h0M626 851h0M602 882h0M618 839h0M612 848h0M626 885h0M610 848h0M631 909h0M642 876h0M603 866h0M616 870h0M630 866h0M630 900h0M612 845h0M625 857h0M603 855h0M601 818h0M628 910h0M622 880h0M611 839h0M621 840h0M623 898h0M606 828h0M628 845h0M615 848h0M608 857h0M626 853h0M620 847h0M607 864h0M617 846h0M635 879h0M625 882h0M596 838h0M603 855h0M629 881h0M611 885h0M602 832h0M636 901h0M604 869h0M611 840h0M603 875h0M619 836h0M619 852h0M634 857h0M621 896h0M606 830h0M592 854h0M609 832h0M610 882h0M636 844h0M612 838h0M606 841h0M623 849h0M606 868h0M609 867h0M635 859h0M646 859h0M612 882h0M627 857h0M595 851h0M614 835h0M630 904h0M630 887h0M612 874h0M593 853h0M615 842h0M616 918h0M621 841h0M603 857h0M625 840h0M614 840h0M594 838h0M618 854h0M606 847h0M630 853h0M607 881h0M599 846h0M611 821h0M611 835h0M619 879h0M624 892h0M620 890h0M613 841h0M629 862h0M617 856h0M601 845h0M618 893h0M621 848h0M612 878h0M617 864h0M621 861h0M594 822h0M593 835h0M622 867h0" stroke="#1FB5B7" stroke-width="4" stroke-linecap="round" fill="none"/>
<path d="M596 887h0M588 932h0M584 886h0M580 895h0M583 862h0M581 856h0M586 868h0M581 910h0M579 902h0M592 869h0M578 901h0M589 871h0M574 886h0M590 877h0M578 887h0M583 919h0M588 874h0M584 920h0M582 851h0M597 881h0M587 888h0M574 885h0M585 908h0M579 910h0M588 913h0M585 929h0M579 899h0M594 869h0M588 878h0M595 879h0M585 926h0M585 864h0M581 881h0M585 914h0M585 927h0M588 878h0M587 868h0M584 852h0M584 850h0M584 933h0M597 865h0M592 867h0M590 886h0M586 861h0M580 900h0M589 867h0M596 868h0M595 883h0M582 863h0M590 877h0" stroke="#6A93CE" stroke-width="4" stroke-linecap="round" fill="none"/>
<path d="M566 870h0M573 865h0M576 861h0M580 895h0M581 889h0M573 864h0M582 903h0M577 900h0M564 862h0M564 856h0M573 913h0M580 890h0M579 904h0M578 901h0M576 899h0M584 898h0M567 864h0M576 893h0M563 864h0M567 858h0M585 879h0M571 861h0M583 880h0M573 870h0M580 900h0M562 858h0M564 867h0M573 910h0M568 864h0M582 893h0M577 900h0M574 863h0M584 881h0M575 859h0M561 861h0M575 862h0M568 860h0M564 863h0M578 900h0M570 860h0" stroke="#6A93CE" stroke-width="4" stroke-linecap="round" fill="none"/>
<path d="M330 927h0M343 905h0M346 910h0M334 914h0M349 893h0M357 898h0M348 907h0M351 902h0M342 904h0M350 903h0M347 909h0M336 921h0M343 914h0M352 900h0M330 919h0M358 902h0M348 911h0M363 899h0M365 904h0M338 913h0M362 904h0M336 920h0M327 914h0M342 919h0M335 923h0M335 919h0M337 909h0M349 906h0M339 916h0M335 912h0M325 922h0M335 904h0M356 902h0M361 902h0M352 900h0M345 914h0M330 921h0M327 919h0M339 913h0M327 918h0" stroke="#B2991C" stroke-width="4" stroke-linecap="round" fill="none"/>
<path d="M404 979h0M406 981h0M401 979h0M402 978h0M399 978h0M403 979h0M400 979h0M403 980h0" stroke="#1FB5B7" stroke-width="4" stroke-linecap="round" fill="none"/>
<line x1="104.3" y1="579.0" x2="104.3" y2="1120.7" stroke="#000" stroke-width="4.2"/>
<line x1="102.2" y1="1118.7" x2="728.0" y2="1118.7" stroke="#000" stroke-width="4"/>
<line x1="98.0" y1="700.4" x2="104.3" y2="700.4" stroke="#000" stroke-width="3.4"/>
<text x="96.5" y="712.4" font-size="33" font-weight="bold" text-anchor="end">5</text>
<line x1="98.0" y1="855.5" x2="104.3" y2="855.5" stroke="#000" stroke-width="3.4"/>
<text x="96.5" y="867.5" font-size="33" font-weight="bold" text-anchor="end">0</text>
<line x1="98.0" y1="1010.7" x2="104.3" y2="1010.7" stroke="#000" stroke-width="3.4"/>
<text x="96.5" y="1022.7" font-size="33" font-weight="bold" text-anchor="end">−5</text>
<line x1="220.3" y1="1118.0" x2="220.3" y2="1126.0" stroke="#000" stroke-width="3"/>
<text x="226.0" y="1152.9" font-size="33" font-weight="bold" text-anchor="middle">−5</text>
<line x1="363.0" y1="1118.0" x2="363.0" y2="1126.0" stroke="#000" stroke-width="3"/>
<text x="363.6" y="1152.9" font-size="33" font-weight="bold" text-anchor="middle">0</text>
<line x1="505.0" y1="1118.0" x2="505.0" y2="1126.0" stroke="#000" stroke-width="3"/>
<text x="506.0" y="1152.9" font-size="33" font-weight="bold" text-anchor="middle">5</text>
<line x1="647.4" y1="1118.0" x2="647.4" y2="1126.0" stroke="#000" stroke-width="3"/>
<text x="652.7" y="1152.9" font-size="33" font-weight="bold" text-anchor="middle">10</text>
<text x="431.9" y="1192.5" font-size="33" font-weight="bold" text-anchor="middle">umap 1</text>
<text x="63.9" y="850.0" font-size="33.2" font-weight="bold" text-anchor="middle" transform="rotate(-90 63.9 850.0)">umap 2</text>
<circle cx="718.6" cy="673.5" r="8.4" fill="#EA736D"/>
<text x="748.0" y="684.0" font-size="31.5">EC 1</text>
<circle cx="718.6" cy="703.9" r="8.4" fill="#D68A14"/>
<text x="748.0" y="714.4" font-size="31.5">EC 2</text>
<circle cx="718.6" cy="734.3" r="8.4" fill="#B2991C"/>
<text x="748.0" y="744.8" font-size="31.5">FC</text>
<circle cx="718.6" cy="764.8" r="8.4" fill="#7DA62B"/>
<text x="748.0" y="775.3" font-size="31.5">Fibroblast 1</text>
<circle cx="718.6" cy="795.2" r="8.4" fill="#28AC3D"/>
<text x="748.0" y="805.7" font-size="31.5">Fibroblasts 2</text>
<circle cx="718.6" cy="825.6" r="8.4" fill="#18B184"/>
<text x="748.0" y="836.1" font-size="31.5">ICS(SEM)</text>
<circle cx="718.6" cy="856.0" r="8.4" fill="#1FB5B7"/>
<text x="748.0" y="866.5" font-size="31.5">Macrophage 1</text>
<circle cx="718.6" cy="886.4" r="8.4" fill="#21A7E0"/>
<text x="748.0" y="896.9" font-size="31.5">Macrophage 2</text>
<circle cx="718.6" cy="916.9" r="8.4" fill="#6A93CE"/>
<text x="748.0" y="927.4" font-size="31.5">Macrophage 3</text>
<circle cx="718.6" cy="947.3" r="8.4" fill="#A07FBC"/>
<text x="748.0" y="957.8" font-size="31.5">Minor SMC</text>
<circle cx="718.6" cy="977.7" r="8.4" fill="#BC6DAA"/>
<text x="748.0" y="988.2" font-size="31.5">Neutrophils</text>
<circle cx="718.6" cy="1008.1" r="8.4" fill="#EA619F"/>
<text x="748.0" y="1018.6" font-size="31.5">SMC</text>
<text x="46.5" y="1216.7" font-size="56" font-weight="bold">D</text>
<rect x="149.2" y="1288.7" width="135.3" height="16.8" fill="#EA736D"/>
<rect x="149.2" y="1304.9" width="135.3" height="18.1" fill="#D68A14"/>
<rect x="149.2" y="1322.6" width="135.3" height="5.9" fill="#B2991C"/>
<rect x="149.2" y="1328.0" width="135.3" height="209.8" fill="#7DA62B"/>
<rect x="149.2" y="1537.3" width="135.3" height="13.4" fill="#28AC3D"/>
<rect x="149.2" y="1550.1" width="135.3" height="125.1" fill="#18B184"/>
<rect x="149.2" y="1674.8" width="135.3" height="9.3" fill="#1FB5B7"/>
<rect x="149.2" y="1683.6" width="135.3" height="14.7" fill="#21A7E0"/>
<rect x="149.2" y="1697.8" width="135.3" height="56.0" fill="#A07FBC"/>
<rect x="149.2" y="1753.3" width="135.3" height="140.0" fill="#EA619F"/>
<line x1="216.8" y1="1923.0" x2="216.8" y2="1931.0" stroke="#333" stroke-width="3"/>
<text x="228.2" y="1942.0" font-size="32.5" font-weight="bold" text-anchor="end" fill="#4d4d4d" transform="rotate(-45 228.2 1942.0)">0 week</text>
<rect x="299.3" y="1288.7" width="135.3" height="20.8" fill="#EA736D"/>
<rect x="299.3" y="1309.0" width="135.3" height="35.0" fill="#D68A14"/>
<rect x="299.3" y="1343.6" width="135.3" height="161.0" fill="#7DA62B"/>
<rect x="299.3" y="1504.1" width="135.3" height="10.0" fill="#28AC3D"/>
<rect x="299.3" y="1513.6" width="135.3" height="91.9" fill="#18B184"/>
<rect x="299.3" y="1605.0" width="135.3" height="37.1" fill="#1FB5B7"/>
<rect x="299.3" y="1641.6" width="135.3" height="11.3" fill="#21A7E0"/>
<rect x="299.3" y="1652.4" width="135.3" height="14.0" fill="#6A93CE"/>
<rect x="299.3" y="1666.0" width="135.3" height="60.8" fill="#A07FBC"/>
<rect x="299.3" y="1726.2" width="135.3" height="167.1" fill="#EA619F"/>
<line x1="366.9" y1="1923.0" x2="366.9" y2="1931.0" stroke="#333" stroke-width="3"/>
<text x="378.3" y="1942.0" font-size="32.5" font-weight="bold" text-anchor="end" fill="#4d4d4d" transform="rotate(-45 378.3 1942.0)">8 week</text>
<rect x="449.3" y="1288.7" width="135.3" height="16.1" fill="#EA736D"/>
<rect x="449.3" y="1304.3" width="135.3" height="42.5" fill="#D68A14"/>
<rect x="449.3" y="1346.3" width="135.3" height="20.1" fill="#B2991C"/>
<rect x="449.3" y="1365.9" width="135.3" height="147.5" fill="#7DA62B"/>
<rect x="449.3" y="1512.9" width="135.3" height="15.4" fill="#28AC3D"/>
<rect x="449.3" y="1527.8" width="135.3" height="127.8" fill="#18B184"/>
<rect x="449.3" y="1655.1" width="135.3" height="39.1" fill="#1FB5B7"/>
<rect x="449.3" y="1693.7" width="135.3" height="20.1" fill="#21A7E0"/>
<rect x="449.3" y="1713.4" width="135.3" height="41.8" fill="#6A93CE"/>
<rect x="449.3" y="1754.7" width="135.3" height="36.4" fill="#A07FBC"/>
<rect x="449.3" y="1790.6" width="135.3" height="8.6" fill="#BC6DAA"/>
<rect x="449.3" y="1798.7" width="135.3" height="94.6" fill="#EA619F"/>
<line x1="516.9" y1="1923.0" x2="516.9" y2="1931.0" stroke="#333" stroke-width="3"/>
<text x="528.3" y="1942.0" font-size="32.5" font-weight="bold" text-anchor="end" fill="#4d4d4d" transform="rotate(-45 528.3 1942.0)">16 week</text>
<rect x="599.4" y="1288.7" width="135.3" height="17.4" fill="#EA736D"/>
<rect x="599.4" y="1305.6" width="135.3" height="34.4" fill="#D68A14"/>
<rect x="599.4" y="1339.5" width="135.3" height="53.3" fill="#B2991C"/>
<rect x="599.4" y="1392.3" width="135.3" height="80.4" fill="#7DA62B"/>
<rect x="599.4" y="1472.2" width="135.3" height="7.3" fill="#28AC3D"/>
<rect x="599.4" y="1479.0" width="135.3" height="145.4" fill="#18B184"/>
<rect x="599.4" y="1624.0" width="135.3" height="53.3" fill="#1FB5B7"/>
<rect x="599.4" y="1676.8" width="135.3" height="45.9" fill="#21A7E0"/>
<rect x="599.4" y="1722.2" width="135.3" height="87.2" fill="#6A93CE"/>
<rect x="599.4" y="1808.9" width="135.3" height="30.3" fill="#A07FBC"/>
<rect x="599.4" y="1838.7" width="135.3" height="11.3" fill="#BC6DAA"/>
<rect x="599.4" y="1849.5" width="135.3" height="43.8" fill="#EA619F"/>
<line x1="667.0" y1="1923.0" x2="667.0" y2="1931.0" stroke="#333" stroke-width="3"/>
<text x="678.4" y="1942.0" font-size="32.5" font-weight="bold" text-anchor="end" fill="#4d4d4d" transform="rotate(-45 678.4 1942.0)">26 week</text>
<line x1="127.0" y1="1258.0" x2="127.0" y2="1925.5" stroke="#000" stroke-width="4"/>
<line x1="125.0" y1="1923.5" x2="757.5" y2="1923.5" stroke="#000" stroke-width="4"/>
<line x1="120.0" y1="1892.3" x2="127.0" y2="1892.3" stroke="#333" stroke-width="3"/>
<text x="117.0" y="1902.8" font-size="30" font-weight="bold" text-anchor="end" fill="#4d4d4d">0.00</text>
<line x1="120.0" y1="1741.5" x2="127.0" y2="1741.5" stroke="#333" stroke-width="3"/>
<text x="117.0" y="1752.0" font-size="30" font-weight="bold" text-anchor="end" fill="#4d4d4d">0.25</text>
<line x1="120.0" y1="1590.7" x2="127.0" y2="1590.7" stroke="#333" stroke-width="3"/>
<text x="117.0" y="1601.2" font-size="30" font-weight="bold" text-anchor="end" fill="#4d4d4d">0.50</text>
<line x1="120.0" y1="1439.9" x2="127.0" y2="1439.9" stroke="#333" stroke-width="3"/>
<text x="117.0" y="1450.4" font-size="30" font-weight="bold" text-anchor="end" fill="#4d4d4d">0.75</text>
<line x1="120.0" y1="1289.1" x2="127.0" y2="1289.1" stroke="#333" stroke-width="3"/>
<text x="117.0" y="1299.6" font-size="30" font-weight="bold" text-anchor="end" fill="#4d4d4d">1.00</text>
<text x="459.5" y="1275.5" font-size="37" font-weight="bold" text-anchor="middle">NCells</text>
<text x="759.0" y="1310.7" font-size="30.5" font-weight="bold">labels</text>
<rect x="759.0" y="1332.2" width="43.5" height="42.7" fill="#EA736D"/>
<text x="821.0" y="1362.4" font-size="31.5" font-weight="bold">EC 1</text>
<rect x="759.0" y="1379.1" width="43.5" height="42.7" fill="#D68A14"/>
<text x="821.0" y="1409.3" font-size="31.5" font-weight="bold">EC 2</text>
<rect x="759.0" y="1426.0" width="43.5" height="42.7" fill="#B2991C"/>
<text x="821.0" y="1456.2" font-size="31.5" font-weight="bold">FC</text>
<rect x="759.0" y="1472.9" width="43.5" height="42.7" fill="#7DA62B"/>
<text x="821.0" y="1503.1" font-size="31.5" font-weight="bold">Fibroblast 1</text>
<rect x="759.0" y="1519.8" width="43.5" height="42.7" fill="#28AC3D"/>
<text x="821.0" y="1550.0" font-size="31.5" font-weight="bold">Fibroblasts 2</text>
<rect x="759.0" y="1566.7" width="43.5" height="42.7" fill="#18B184"/>
<text x="821.0" y="1596.9" font-size="31.5" font-weight="bold">ICS(SEM)</text>
<rect x="759.0" y="1613.6" width="43.5" height="42.7" fill="#1FB5B7"/>
<text x="821.0" y="1643.8" font-size="31.5" font-weight="bold">Macrophage 1</text>
<rect x="759.0" y="1660.5" width="43.5" height="42.7" fill="#21A7E0"/>
<text x="821.0" y="1690.7" font-size="31.5" font-weight="bold">Macrophage 2</text>
<rect x="759.0" y="1707.4" width="43.5" height="42.7" fill="#6A93CE"/>
<text x="821.0" y="1737.6" font-size="31.5" font-weight="bold">Macrophage 3</text>
<rect x="759.0" y="1754.3" width="43.5" height="42.7" fill="#A07FBC"/>
<text x="821.0" y="1784.5" font-size="31.5" font-weight="bold">Minor SMC</text>
<rect x="759.0" y="1801.2" width="43.5" height="42.7" fill="#BC6DAA"/>
<text x="821.0" y="1831.4" font-size="31.5" font-weight="bold">Neutrophils</text>
<rect x="759.0" y="1848.1" width="43.5" height="42.7" fill="#EA619F"/>
<text x="821.0" y="1878.3" font-size="31.5" font-weight="bold">SMC</text>
<text x="1160.0" y="90.6" font-size="58" font-weight="bold">C</text>
<text x="1975.0" y="72.5" font-size="40" font-weight="bold" text-anchor="middle">KEGG enrichment analysis</text>
<clipPath id="cc"><rect x="1772.5" y="90.7" width="416.5" height="899.2"/></clipPath><g clip-path="url(#cc)">
<circle cx="2170.0" cy="131.2" r="20.0" fill="#DB1228"/>
<circle cx="2115.2" cy="199.4" r="21.3" fill="#E0131B"/>
<circle cx="1994.3" cy="267.6" r="20.0" fill="#C10E61"/>
<circle cx="1962.7" cy="335.9" r="22.7" fill="#DA112A"/>
<circle cx="1951.2" cy="404.1" r="5.8" fill="#214AA2"/>
<circle cx="1936.0" cy="472.3" r="14.7" fill="#683898"/>
<circle cx="1927.2" cy="540.5" r="22.7" fill="#D4103A"/>
<circle cx="1875.2" cy="608.7" r="12.0" fill="#3745A0"/>
<circle cx="1866.3" cy="677.0" r="12.0" fill="#3745A0"/>
<circle cx="1823.2" cy="745.2" r="21.3" fill="#941C8A"/>
<circle cx="1820.5" cy="813.4" r="16.9" fill="#593E9B"/>
<circle cx="1812.5" cy="881.6" r="16.9" fill="#4F409C"/>
<circle cx="1791.1" cy="949.8" r="20.9" fill="#743296"/>
</g>
<text x="1756.5" y="138.7" font-size="40" font-weight="bold" text-anchor="end" fill="#4d4d4d">IL−17 signaling pathway</text>
<line x1="1762.0" y1="131.2" x2="1772.5" y2="131.2" stroke="#333" stroke-width="3"/>
<text x="1756.5" y="206.9" font-size="40" font-weight="bold" text-anchor="end" fill="#4d4d4d">TNF signaling pathway</text>
<line x1="1762.0" y1="199.4" x2="1772.5" y2="199.4" stroke="#333" stroke-width="3"/>
<text x="1756.5" y="275.1" font-size="40" font-weight="bold" text-anchor="end" fill="#4d4d4d">Fluid shear stress and atherosclerosis</text>
<line x1="1762.0" y1="267.6" x2="1772.5" y2="267.6" stroke="#333" stroke-width="3"/>
<text x="1756.5" y="343.4" font-size="40" font-weight="bold" text-anchor="end" fill="#4d4d4d">Chemokine signaling pathway</text>
<line x1="1762.0" y1="335.9" x2="1772.5" y2="335.9" stroke="#333" stroke-width="3"/>
<text x="1756.5" y="411.6" font-size="40" font-weight="bold" text-anchor="end" fill="#4d4d4d">VEGF signaling pathway</text>
<line x1="1762.0" y1="404.1" x2="1772.5" y2="404.1" stroke="#333" stroke-width="3"/>
<text x="1756.5" y="479.8" font-size="40" font-weight="bold" text-anchor="end" fill="#4d4d4d">NF−kappa B signaling pathway</text>
<line x1="1762.0" y1="472.3" x2="1772.5" y2="472.3" stroke="#333" stroke-width="3"/>
<text x="1756.5" y="548.0" font-size="40" font-weight="bold" text-anchor="end" fill="#4d4d4d">Lipid and atherosclerosis</text>
<line x1="1762.0" y1="540.5" x2="1772.5" y2="540.5" stroke="#333" stroke-width="3"/>
<text x="1756.5" y="616.2" font-size="40" font-weight="bold" text-anchor="end" fill="#4d4d4d">C type lectin receptor signaling pathway</text>
<line x1="1762.0" y1="608.7" x2="1772.5" y2="608.7" stroke="#333" stroke-width="3"/>
<text x="1756.5" y="684.5" font-size="40" font-weight="bold" text-anchor="end" fill="#4d4d4d">Toll−like receptor signaling pathway</text>
<line x1="1762.0" y1="677.0" x2="1772.5" y2="677.0" stroke="#333" stroke-width="3"/>
<text x="1756.5" y="752.7" font-size="40" font-weight="bold" text-anchor="end" fill="#4d4d4d">MAPK signaling pathway</text>
<line x1="1762.0" y1="745.2" x2="1772.5" y2="745.2" stroke="#333" stroke-width="3"/>
<text x="1756.5" y="820.9" font-size="40" font-weight="bold" text-anchor="end" fill="#4d4d4d">Focal adhesion</text>
<line x1="1762.0" y1="813.4" x2="1772.5" y2="813.4" stroke="#333" stroke-width="3"/>
<text x="1756.5" y="889.1" font-size="40" font-weight="bold" text-anchor="end" fill="#4d4d4d">Rap1 signaling pathway</text>
<line x1="1762.0" y1="881.6" x2="1772.5" y2="881.6" stroke="#333" stroke-width="3"/>
<text x="1756.5" y="957.3" font-size="40" font-weight="bold" text-anchor="end" fill="#4d4d4d">PI3K−Akt signaling pathway</text>
<line x1="1762.0" y1="949.8" x2="1772.5" y2="949.8" stroke="#333" stroke-width="3"/>
<rect x="1772.5" y="90.7" width="416.5" height="899.2" fill="none" stroke="#333" stroke-width="2.5"/>
<line x1="1887.2" y1="990.0" x2="1887.2" y2="999.0" stroke="#333" stroke-width="3.6"/>
<text x="1887.2" y="1027.0" font-size="29" font-weight="bold" text-anchor="middle" fill="#4d4d4d">0.04</text>
<line x1="2014.8" y1="990.0" x2="2014.8" y2="999.0" stroke="#333" stroke-width="3.6"/>
<text x="2014.8" y="1027.0" font-size="29" font-weight="bold" text-anchor="middle" fill="#4d4d4d">0.06</text>
<line x1="2142.4" y1="990.0" x2="2142.4" y2="999.0" stroke="#333" stroke-width="3.6"/>
<text x="2142.4" y="1027.0" font-size="29" font-weight="bold" text-anchor="middle" fill="#4d4d4d">0.08</text>
<text x="1984.5" y="1068.5" font-size="35" font-weight="bold" text-anchor="middle">Generatio</text>
<text x="2197.0" y="230.5" font-size="34.5" font-weight="bold">−LogPvalue</text>
<rect x="2196.6" y="252.5" width="55.1" height="275.7" fill="url(#g1)"/>
<line x1="2240.7" y1="276.5" x2="2251.7" y2="276.5" stroke="#fff" stroke-width="1.5"/>
<text x="2269.0" y="286.5" font-size="28" font-weight="bold">8</text>
<line x1="2240.7" y1="323.2" x2="2251.7" y2="323.2" stroke="#fff" stroke-width="1.5"/>
<text x="2269.0" y="333.2" font-size="28" font-weight="bold">7</text>
<line x1="2240.7" y1="369.9" x2="2251.7" y2="369.9" stroke="#fff" stroke-width="1.5"/>
<text x="2269.0" y="379.9" font-size="28" font-weight="bold">6</text>
<line x1="2240.7" y1="416.6" x2="2251.7" y2="416.6" stroke="#fff" stroke-width="1.5"/>
<text x="2269.0" y="426.6" font-size="28" font-weight="bold">5</text>
<line x1="2240.7" y1="463.3" x2="2251.7" y2="463.3" stroke="#fff" stroke-width="1.5"/>
<text x="2269.0" y="473.3" font-size="28" font-weight="bold">4</text>
<text x="2269.0" y="529.0" font-size="36" font-weight="bold">3</text>
<text x="2197.0" y="631.0" font-size="35" font-weight="bold">Count</text>
<circle cx="2224.6" cy="682.3" r="12.0" fill="#000"/>
<text x="2270.4" y="692.3" font-size="28" font-weight="bold">4</text>
<circle cx="2224.6" cy="737.0" r="16.9" fill="#000"/>
<text x="2270.4" y="747.0" font-size="28" font-weight="bold">6</text>
<circle cx="2224.6" cy="792.0" r="20.0" fill="#000"/>
<text x="2270.4" y="802.0" font-size="28" font-weight="bold">8</text>
<circle cx="2224.6" cy="847.2" r="23.0" fill="#000"/>
<text x="2270.4" y="857.2" font-size="28" font-weight="bold">10</text>
<text x="1158.0" y="1101.0" font-size="56" font-weight="bold">E</text>
<text x="1977.7" y="1114.8" font-size="39.7" font-weight="bold" text-anchor="middle">GO biological pathway enrichment analysis</text>
<clipPath id="ce"><rect x="1873.5" y="1133.5" width="333.3" height="817.1"/></clipPath><g clip-path="url(#ce)">
<circle cx="2191.8" cy="1156.5" r="9.6" fill="#B0108A"/>
<circle cx="2123.3" cy="1195.1" r="4.6" fill="#5A3D9A"/>
<circle cx="2094.9" cy="1233.7" r="9.6" fill="#9B2590"/>
<circle cx="2088.8" cy="1272.3" r="11.5" fill="#C4145A"/>
<circle cx="2034.8" cy="1310.9" r="5.0" fill="#3F46A0"/>
<circle cx="2006.4" cy="1349.5" r="14.6" fill="#DD1318"/>
<circle cx="1970.0" cy="1388.1" r="9.2" fill="#6B3796"/>
<circle cx="1968.9" cy="1426.7" r="8.0" fill="#4B3F9B"/>
<circle cx="1955.5" cy="1465.3" r="8.0" fill="#3B459F"/>
<circle cx="1951.3" cy="1503.9" r="15.3" fill="#D01038"/>
<circle cx="1943.6" cy="1542.5" r="8.0" fill="#2F45A0"/>
<circle cx="1941.3" cy="1581.0" r="8.0" fill="#34469F"/>
<circle cx="1933.3" cy="1619.6" r="11.5" fill="#7B2F94"/>
<circle cx="1926.8" cy="1658.2" r="10.3" fill="#5F3A98"/>
<circle cx="1926.0" cy="1696.8" r="9.6" fill="#473F9B"/>
<circle cx="1924.9" cy="1735.4" r="8.0" fill="#174BA3"/>
<circle cx="1913.0" cy="1774.0" r="17.6" fill="#D8112B"/>
<circle cx="1898.0" cy="1812.6" r="14.6" fill="#8E2890"/>
<circle cx="1897.3" cy="1851.2" r="15.7" fill="#AB0A7C"/>
<circle cx="1896.5" cy="1889.8" r="14.2" fill="#8E2890"/>
<circle cx="1888.1" cy="1928.4" r="15.0" fill="#842B91"/>
</g>
<text x="1861.8" y="1162.5" font-size="31.8" font-weight="bold" text-anchor="end" fill="#4d4d4d">positive regulation of acute inflammatory response</text>
<line x1="1865.0" y1="1156.5" x2="1873.5" y2="1156.5" stroke="#333" stroke-width="3"/>
<text x="1861.8" y="1201.1" font-size="31.8" font-weight="bold" text-anchor="end" fill="#4d4d4d">negative regulation of glucose transmembrane transport</text>
<line x1="1865.0" y1="1195.1" x2="1873.5" y2="1195.1" stroke="#333" stroke-width="3"/>
<text x="1861.8" y="1239.7" font-size="31.8" font-weight="bold" text-anchor="end" fill="#4d4d4d">positive regulation of nitric oxide biosynthetic process</text>
<line x1="1865.0" y1="1233.7" x2="1873.5" y2="1233.7" stroke="#333" stroke-width="3"/>
<text x="1861.8" y="1278.3" font-size="31.8" font-weight="bold" text-anchor="end" fill="#4d4d4d">neutrophil chemotaxis</text>
<line x1="1865.0" y1="1272.3" x2="1873.5" y2="1272.3" stroke="#333" stroke-width="3"/>
<text x="1861.8" y="1316.9" font-size="31.8" font-weight="bold" text-anchor="end" fill="#4d4d4d">positive regulation of p38MAPK cascade</text>
<line x1="1865.0" y1="1310.9" x2="1873.5" y2="1310.9" stroke="#333" stroke-width="3"/>
<text x="1861.8" y="1355.5" font-size="31.8" font-weight="bold" text-anchor="end" fill="#4d4d4d">leukocyte chemotaxis</text>
<line x1="1865.0" y1="1349.5" x2="1873.5" y2="1349.5" stroke="#333" stroke-width="3"/>
<text x="1861.8" y="1394.1" font-size="31.8" font-weight="bold" text-anchor="end" fill="#4d4d4d">positive regulation of MAP kinase activity</text>
<line x1="1865.0" y1="1388.1" x2="1873.5" y2="1388.1" stroke="#333" stroke-width="3"/>
<text x="1861.8" y="1432.7" font-size="31.8" font-weight="bold" text-anchor="end" fill="#4d4d4d">positive regulation of interleukin−8 production</text>
<line x1="1865.0" y1="1426.7" x2="1873.5" y2="1426.7" stroke="#333" stroke-width="3"/>
<text x="1861.8" y="1471.3" font-size="31.8" font-weight="bold" text-anchor="end" fill="#4d4d4d">positive regulation of chemokine production</text>
<line x1="1865.0" y1="1465.3" x2="1873.5" y2="1465.3" stroke="#333" stroke-width="3"/>
<text x="1861.8" y="1509.9" font-size="31.8" font-weight="bold" text-anchor="end" fill="#4d4d4d">leukocyte migration</text>
<line x1="1865.0" y1="1503.9" x2="1873.5" y2="1503.9" stroke="#333" stroke-width="3"/>
<text x="1861.8" y="1548.5" font-size="31.8" font-weight="bold" text-anchor="end" fill="#4d4d4d">positive regulation of cytokine production</text>
<line x1="1865.0" y1="1542.5" x2="1873.5" y2="1542.5" stroke="#333" stroke-width="3"/>
<text x="1861.8" y="1587.0" font-size="31.8" font-weight="bold" text-anchor="end" fill="#4d4d4d">cellular response to type II interferon</text>
<line x1="1865.0" y1="1581.0" x2="1873.5" y2="1581.0" stroke="#333" stroke-width="3"/>
<text x="1861.8" y="1625.6" font-size="31.8" font-weight="bold" text-anchor="end" fill="#4d4d4d">positive regulation of inflammatory response</text>
<line x1="1865.0" y1="1619.6" x2="1873.5" y2="1619.6" stroke="#333" stroke-width="3"/>
<text x="1861.8" y="1664.2" font-size="31.8" font-weight="bold" text-anchor="end" fill="#4d4d4d">positive regulation of protein secretion</text>
<line x1="1865.0" y1="1658.2" x2="1873.5" y2="1658.2" stroke="#333" stroke-width="3"/>
<text x="1861.8" y="1702.8" font-size="31.8" font-weight="bold" text-anchor="end" fill="#4d4d4d">positive regulation of protein serine kinase activity</text>
<line x1="1865.0" y1="1696.8" x2="1873.5" y2="1696.8" stroke="#333" stroke-width="3"/>
<text x="1861.8" y="1741.4" font-size="31.8" font-weight="bold" text-anchor="end" fill="#4d4d4d">positive regulation of interleukin−6 production</text>
<line x1="1865.0" y1="1735.4" x2="1873.5" y2="1735.4" stroke="#333" stroke-width="3"/>
<text x="1861.8" y="1780.0" font-size="31.8" font-weight="bold" text-anchor="end" fill="#4d4d4d">cellular response to lipid</text>
<line x1="1865.0" y1="1774.0" x2="1873.5" y2="1774.0" stroke="#333" stroke-width="3"/>
<text x="1861.8" y="1818.6" font-size="31.8" font-weight="bold" text-anchor="end" fill="#4d4d4d">positive regulation of MAPK cascade</text>
<line x1="1865.0" y1="1812.6" x2="1873.5" y2="1812.6" stroke="#333" stroke-width="3"/>
<text x="1861.8" y="1857.2" font-size="31.8" font-weight="bold" text-anchor="end" fill="#4d4d4d">positive regulation of cell migration</text>
<line x1="1865.0" y1="1851.2" x2="1873.5" y2="1851.2" stroke="#333" stroke-width="3"/>
<text x="1861.8" y="1895.8" font-size="31.8" font-weight="bold" text-anchor="end" fill="#4d4d4d">positive regulation of cell adhesion</text>
<line x1="1865.0" y1="1889.8" x2="1873.5" y2="1889.8" stroke="#333" stroke-width="3"/>
<text x="1861.8" y="1934.4" font-size="31.8" font-weight="bold" text-anchor="end" fill="#4d4d4d">positive regulation of phosphorus metabolic process</text>
<line x1="1865.0" y1="1928.4" x2="1873.5" y2="1928.4" stroke="#333" stroke-width="3"/>
<rect x="1873.5" y="1133.5" width="333.3" height="817.1" fill="none" stroke="#333" stroke-width="2.5"/>
<line x1="1944.4" y1="1950.6" x2="1944.4" y2="1958.5" stroke="#333" stroke-width="3.5"/>
<text x="1955.0" y="1983.5" font-size="31" font-weight="bold" text-anchor="middle" fill="#4d4d4d">0.05</text>
<line x1="2040.5" y1="1950.6" x2="2040.5" y2="1958.5" stroke="#333" stroke-width="3.5"/>
<text x="2051.1" y="1983.5" font-size="31" font-weight="bold" text-anchor="middle" fill="#4d4d4d">0.10</text>
<line x1="2136.3" y1="1950.6" x2="2136.3" y2="1958.5" stroke="#333" stroke-width="3.5"/>
<text x="2146.9" y="1983.5" font-size="31" font-weight="bold" text-anchor="middle" fill="#4d4d4d">0.15</text>
<text x="2063.3" y="2021.8" font-size="36" font-weight="bold" text-anchor="middle">Generatio</text>
<text x="1184.0" y="1276.0" font-size="40" font-family="Liberation Serif,serif">turquoise</text>
<text x="2223.2" y="1167.2" font-size="31.5">−LogPvalue</text>
<rect x="2222.5" y="1184.5" width="41.7" height="207.5" fill="url(#g1)"/>
<line x1="2255.9" y1="1223.5" x2="2264.2" y2="1223.5" stroke="#fff" stroke-width="1.5"/>
<text x="2278.8" y="1230.3" font-size="30.5">10.0</text>
<line x1="2255.9" y1="1283.3" x2="2264.2" y2="1283.3" stroke="#fff" stroke-width="1.5"/>
<text x="2278.8" y="1290.1" font-size="30.5">7.5</text>
<line x1="2255.9" y1="1343.4" x2="2264.2" y2="1343.4" stroke="#fff" stroke-width="1.5"/>
<text x="2278.8" y="1350.2" font-size="30.5">5.0</text>
<text x="2223.0" y="1425.8" font-size="35.5">Count</text>
<circle cx="2244.3" cy="1463.3" r="4.2" fill="#000"/>
<text x="2278.8" y="1471.8" font-size="30.5">3</text>
<circle cx="2244.3" cy="1504.3" r="10.7" fill="#000"/>
<text x="2278.8" y="1512.8" font-size="30.5">6</text>
<circle cx="2244.3" cy="1544.5" r="13.0" fill="#000"/>
<text x="2278.8" y="1553.0" font-size="30.5">9</text>
<circle cx="2244.3" cy="1587.9" r="14.6" fill="#000"/>
<text x="2278.8" y="1596.4" font-size="30.5">12</text>
<circle cx="2244.3" cy="1629.2" r="16.0" fill="#000"/>
<text x="2278.8" y="1637.7" font-size="30.5">15</text>
<circle cx="2244.3" cy="1671.0" r="17.6" fill="#000"/>
<text x="2278.8" y="1679.5" font-size="30.5">18</text>
<text x="56.0" y="2100.0" font-size="58" font-weight="bold">F</text>
<linearGradient id="g2" x1="0" y1="0" x2="1" y2="0"><stop offset="0" stop-color="#1D4AA3"/><stop offset="0.25" stop-color="#7B6DB3"/><stop offset="0.4" stop-color="#CBBBDD"/><stop offset="0.5" stop-color="#FFFFFF"/><stop offset="0.6" stop-color="#FBD6CA"/><stop offset="0.75" stop-color="#F3A48A"/><stop offset="0.9" stop-color="#EA5238"/><stop offset="1" stop-color="#E8131B"/></linearGradient>
<rect x="756.2" y="2049.8" width="918.8" height="28.5" fill="url(#g2)"/>
<line x1="758.0" y1="2050.0" x2="758.0" y2="2078.0" stroke="#fff" stroke-width="1.5" opacity="0.8"/>
<text x="758.0" y="2040.0" font-size="46" text-anchor="middle">−0.2</text>
<line x1="986.8" y1="2050.0" x2="986.8" y2="2078.0" stroke="#fff" stroke-width="1.5" opacity="0.8"/>
<text x="986.8" y="2040.0" font-size="46" text-anchor="middle">−0.1</text>
<line x1="1215.5" y1="2050.0" x2="1215.5" y2="2078.0" stroke="#fff" stroke-width="1.5" opacity="0.8"/>
<text x="1215.5" y="2040.0" font-size="46" text-anchor="middle">0.0</text>
<line x1="1444.2" y1="2050.0" x2="1444.2" y2="2078.0" stroke="#fff" stroke-width="1.5" opacity="0.8"/>
<text x="1444.2" y="2040.0" font-size="46" text-anchor="middle">0.1</text>
<line x1="1673.0" y1="2050.0" x2="1673.0" y2="2078.0" stroke="#fff" stroke-width="1.5" opacity="0.8"/>
<text x="1673.0" y="2040.0" font-size="46" text-anchor="middle">0.2</text>
<text x="108.0" y="2177.3" font-size="36.7" font-weight="bold">week</text>
<rect x="215.0" y="2090.5" width="158.3" height="140.8" fill="#AE9ACB"/>
<rect x="215.0" y="2241.0" width="158.3" height="42.2" fill="#62C1BA"/>
<line x1="293.9" y1="2283.0" x2="293.9" y2="2294.5" stroke="#000" stroke-width="3"/>
<text x="293.9" y="2185.6" font-size="46" text-anchor="middle">***</text>
<text x="364.0" y="2297.5" font-size="37" text-anchor="end" transform="rotate(-33 364.0 2297.5)">turquoise</text>
<rect x="372.8" y="2090.5" width="158.3" height="140.8" fill="#FAF8FC"/>
<rect x="372.8" y="2241.0" width="158.3" height="42.2" fill="#EDE939"/>
<line x1="451.7" y1="2283.0" x2="451.7" y2="2294.5" stroke="#000" stroke-width="3"/>
<text x="502.5" y="2299.8" font-size="37" text-anchor="end" transform="rotate(-33 502.5 2299.8)">yellow</text>
<rect x="530.6" y="2090.5" width="158.3" height="140.8" fill="#E8131B"/>
<rect x="530.6" y="2241.0" width="158.3" height="42.2" fill="#9C2B2E"/>
<line x1="609.5" y1="2283.0" x2="609.5" y2="2294.5" stroke="#000" stroke-width="3"/>
<text x="609.5" y="2185.6" font-size="46" text-anchor="middle">***</text>
<text x="664.4" y="2301.4" font-size="37" text-anchor="end" transform="rotate(-33 664.4 2301.4)">brown</text>
<rect x="688.4" y="2090.5" width="158.3" height="140.8" fill="#6C60A9"/>
<rect x="688.4" y="2241.0" width="158.3" height="42.2" fill="#1F4BA0"/>
<line x1="767.3" y1="2283.0" x2="767.3" y2="2294.5" stroke="#000" stroke-width="3"/>
<text x="767.3" y="2185.6" font-size="46" text-anchor="middle">***</text>
<text x="809.0" y="2304.2" font-size="37" text-anchor="end" transform="rotate(-33 809.0 2304.2)">blue</text>
<line x1="205.0" y1="2391.8" x2="848.0" y2="2391.8" stroke="#000" stroke-width="3.5"/>
<text x="504.3" y="2425.0" font-size="35.5" font-weight="bold" text-anchor="middle">Macrophage 1</text>
<rect x="886.0" y="2090.5" width="128.1" height="140.8" fill="#C6B3D8"/>
<rect x="886.0" y="2241.0" width="128.1" height="42.2" fill="#9C2B2E"/>
<line x1="949.8" y1="2283.0" x2="949.8" y2="2294.5" stroke="#000" stroke-width="3"/>
<text x="949.8" y="2180.0" font-size="34" text-anchor="middle">*</text>
<text x="985.0" y="2303.6" font-size="35.5" text-anchor="end" transform="rotate(-33 985.0 2303.6)">brown</text>
<rect x="1013.6" y="2090.5" width="128.1" height="140.8" fill="#1F4A9E"/>
<rect x="1013.6" y="2241.0" width="128.1" height="42.2" fill="#62C1BA"/>
<line x1="1077.4" y1="2283.0" x2="1077.4" y2="2294.5" stroke="#000" stroke-width="3"/>
<text x="1077.4" y="2180.0" font-size="34" text-anchor="middle">***</text>
<text x="1135.3" y="2297.7" font-size="35.5" text-anchor="end" transform="rotate(-33 1135.3 2297.7)">turquoise</text>
<rect x="1141.2" y="2090.5" width="128.1" height="140.8" fill="#EE7F62"/>
<rect x="1141.2" y="2241.0" width="128.1" height="42.2" fill="#EDE939"/>
<line x1="1205.0" y1="2283.0" x2="1205.0" y2="2294.5" stroke="#000" stroke-width="3"/>
<text x="1205.0" y="2180.0" font-size="34" text-anchor="middle">***</text>
<text x="1251.0" y="2300.1" font-size="35.5" text-anchor="end" transform="rotate(-33 1251.0 2300.1)">yellow</text>
<rect x="1268.7" y="2090.5" width="128.1" height="140.8" fill="#E8131B"/>
<rect x="1268.7" y="2241.0" width="128.1" height="42.2" fill="#1F4BA0"/>
<line x1="1332.5" y1="2283.0" x2="1332.5" y2="2294.5" stroke="#000" stroke-width="3"/>
<text x="1332.5" y="2180.0" font-size="34" text-anchor="middle">***</text>
<text x="1370.2" y="2300.1" font-size="35.5" text-anchor="end" transform="rotate(-33 1370.2 2300.1)">blue</text>
<rect x="1396.3" y="2090.5" width="128.1" height="140.8" fill="#6D61AB"/>
<rect x="1396.3" y="2241.0" width="128.1" height="42.2" fill="#6BB82D"/>
<line x1="1460.1" y1="2283.0" x2="1460.1" y2="2294.5" stroke="#000" stroke-width="3"/>
<text x="1460.1" y="2180.0" font-size="34" text-anchor="middle">***</text>
<text x="1497.3" y="2297.7" font-size="35.5" text-anchor="end" transform="rotate(-33 1497.3 2297.7)">green</text>
<line x1="886.0" y1="2391.8" x2="1524.0" y2="2391.8" stroke="#000" stroke-width="3.5"/>
<text x="1192.4" y="2425.0" font-size="35.5" font-weight="bold" text-anchor="middle">Macrophage 2</text>
<rect x="1548.8" y="2090.5" width="108.8" height="140.8" fill="#F9CBBC"/>
<rect x="1548.8" y="2241.0" width="108.8" height="42.2" fill="#EDE939"/>
<line x1="1602.9" y1="2283.0" x2="1602.9" y2="2294.5" stroke="#000" stroke-width="3"/>
<text x="1602.9" y="2185.2" font-size="45" text-anchor="middle">*</text>
<text x="1635.0" y="2303.6" font-size="36" text-anchor="end" transform="rotate(-33 1635.0 2303.6)">yellow</text>
<rect x="1657.1" y="2090.5" width="108.8" height="140.8" fill="#D8C9E4"/>
<rect x="1657.1" y="2241.0" width="108.8" height="42.2" fill="#1F4BA0"/>
<line x1="1711.2" y1="2283.0" x2="1711.2" y2="2294.5" stroke="#000" stroke-width="3"/>
<circle cx="1711.2" cy="2166.0" r="1.2" fill="#000"/>
<text x="1749.8" y="2301.6" font-size="36" text-anchor="end" transform="rotate(-33 1749.8 2301.6)">blue</text>
<rect x="1765.4" y="2090.5" width="108.8" height="140.8" fill="#9A86C0"/>
<rect x="1765.4" y="2241.0" width="108.8" height="42.2" fill="#9C2B2E"/>
<line x1="1819.5" y1="2283.0" x2="1819.5" y2="2294.5" stroke="#000" stroke-width="3"/>
<text x="1819.5" y="2185.2" font-size="45" text-anchor="middle">***</text>
<text x="1866.5" y="2301.6" font-size="36" text-anchor="end" transform="rotate(-33 1866.5 2301.6)">brown</text>
<rect x="1873.6" y="2090.5" width="108.8" height="140.8" fill="#2B4B9F"/>
<rect x="1873.6" y="2241.0" width="108.8" height="42.2" fill="#6BB82D"/>
<line x1="1927.8" y1="2283.0" x2="1927.8" y2="2294.5" stroke="#000" stroke-width="3"/>
<text x="1927.8" y="2185.2" font-size="45" text-anchor="middle">***</text>
<text x="1974.9" y="2300.1" font-size="36" text-anchor="end" transform="rotate(-33 1974.9 2300.1)">green</text>
<rect x="1981.9" y="2090.5" width="108.8" height="140.8" fill="#EB573D"/>
<rect x="1981.9" y="2241.0" width="108.8" height="42.2" fill="#62C1BA"/>
<line x1="2036.1" y1="2283.0" x2="2036.1" y2="2294.5" stroke="#000" stroke-width="3"/>
<text x="2036.1" y="2185.2" font-size="45" text-anchor="middle">***</text>
<text x="2090.7" y="2300.1" font-size="36" text-anchor="end" transform="rotate(-33 2090.7 2300.1)">turquoise</text>
<rect x="2090.2" y="2090.5" width="108.8" height="140.8" fill="#DCCDE5"/>
<rect x="2090.2" y="2241.0" width="108.8" height="42.2" fill="#E8131B"/>
<line x1="2144.3" y1="2283.0" x2="2144.3" y2="2294.5" stroke="#000" stroke-width="3"/>
<circle cx="2144.3" cy="2166.0" r="1.2" fill="#000"/>
<text x="2182.8" y="2306.1" font-size="36" text-anchor="end" transform="rotate(-33 2182.8 2306.1)">red</text>
<line x1="1540.4" y1="2391.8" x2="2197.5" y2="2391.8" stroke="#000" stroke-width="3.5"/>
<text x="1852.2" y="2425.0" font-size="35.5" font-weight="bold" text-anchor="middle">Macrophage 3</text>
<rect x="27.8" y="2455" width="2360.4" height="923" fill="none" stroke="#3a3a3a" stroke-width="4"/>
<text x="44.0" y="2509.0" font-size="54" font-weight="bold">G</text>
<text x="127.8" y="2497.3" font-size="35.8" font-weight="bold">Blue module of Macrophage 2</text>
<text x="980.0" y="2503.8" font-size="35.8" font-weight="bold">Turquoise module of Macrophage 2</text>
<text x="1741.0" y="2496.9" font-size="35.8" font-weight="bold">Turquoise module of Macrophage 3</text>
<line x1="375.6" y1="2530.8" x2="375.6" y2="2784.8" stroke="#BEBEBE" stroke-width="3.7" stroke-dasharray="17 17"/>
<line x1="395.6" y1="2530.8" x2="395.6" y2="2784.8" stroke="#BEBEBE" stroke-width="3.7" stroke-dasharray="17 17"/>
<line x1="415.6" y1="2530.8" x2="415.6" y2="2784.8" stroke="#BEBEBE" stroke-width="3.7" stroke-dasharray="17 17"/>
<line x1="199.0" y1="2748.8" x2="480.0" y2="2748.8" stroke="#BEBEBE" stroke-width="3.7" stroke-dasharray="17 17"/>
<path d="M329 2599h0M327 2632h0M283 2645h0M353 2652h0M284 2661h0M309 2663h0M301 2668h0M341 2662h0M345 2666h0M356 2669h0M251 2675h0M311 2676h0M316 2680h0M327 2690h0M336 2685h0M355 2683h0M238 2700h0M259 2710h0M283 2714h0M310 2708h0M284 2731h0M297 2730h0M304 2727h0M313 2729h0M301 2738h0M275 2744h0M332 2684h0M323 2695h0M317 2709h0M320 2715h0M359 2724h0M350 2717h0M333 2746h0M374 2728h0M358 2739h0M309 2719h0M343 2717h0M365 2725h0M317 2720h0M325 2738h0M373 2726h0M343 2711h0M317 2711h0M349 2704h0M345 2695h0M366 2742h0M333 2737h0M341 2732h0M351 2719h0M336 2702h0M330 2708h0M309 2744h0M318 2711h0M337 2714h0M361 2710h0M337 2737h0M370 2723h0M365 2739h0M324 2746h0M334 2746h0M316 2731h0M370 2731h0M373 2744h0M348 2717h0M364 2746h0M311 2737h0M344 2724h0M332 2723h0M338 2720h0M312 2735h0M355 2690h0M340 2723h0M374 2740h0M336 2747h0M334 2720h0M371 2731h0M344 2714h0M351 2710h0M371 2730h0M344 2719h0M354 2732h0M354 2732h0M335 2737h0M350 2706h0M373 2735h0M360 2710h0M359 2742h0M346 2712h0M368 2739h0M353 2701h0M346 2701h0M363 2737h0M332 2730h0M360 2744h0M340 2741h0M321 2743h0M356 2705h0M332 2710h0M352 2743h0M355 2705h0M357 2734h0M347 2729h0M348 2695h0M364 2747h0M312 2709h0M346 2694h0M325 2721h0M340 2737h0M352 2739h0M370 2732h0M356 2704h0M372 2723h0M329 2706h0M315 2747h0M355 2713h0M340 2731h0M313 2738h0M358 2704h0M343 2707h0M351 2740h0M339 2706h0M363 2716h0M314 2717h0M374 2735h0M357 2738h0M340 2730h0M343 2708h0M375 2747h0M366 2745h0M370 2718h0M341 2735h0M354 2733h0M332 2723h0M351 2741h0M353 2743h0M338 2714h0M350 2745h0M363 2735h0M335 2711h0M350 2703h0M333 2731h0M350 2724h0M329 2740h0M339 2714h0M370 2737h0M347 2699h0M315 2740h0M344 2744h0M321 2710h0M322 2718h0M337 2745h0M336 2747h0M365 2719h0M372 2746h0M368 2718h0M363 2747h0M319 2714h0M312 2719h0M372 2728h0M341 2713h0M368 2723h0M353 2720h0M363 2740h0M334 2713h0M349 2732h0M348 2733h0M347 2745h0M342 2694h0M347 2708h0M364 2722h0M325 2728h0M343 2717h0M368 2724h0M314 2734h0M357 2741h0M336 2736h0M359 2716h0M318 2740h0M360 2747h0M343 2732h0M363 2736h0M353 2705h0M365 2708h0M343 2719h0M344 2703h0M320 2731h0M327 2734h0M326 2731h0M360 2740h0M327 2703h0M362 2740h0M362 2719h0M318 2740h0M347 2710h0M369 2746h0M351 2719h0M353 2728h0M343 2740h0M336 2699h0M349 2721h0M367 2741h0M316 2745h0M324 2738h0M330 2711h0M357 2710h0M311 2731h0M367 2733h0M351 2709h0M330 2742h0M332 2721h0M363 2709h0M353 2709h0M335 2724h0M332 2730h0M354 2741h0M370 2728h0M325 2717h0M351 2737h0M349 2698h0M372 2736h0" stroke="#0B3C96" stroke-width="11.5" stroke-linecap="round" fill="none"/>
<path d="M446 2573h0M450 2614h0M484 2623h0M444 2657h0M440 2662h0M463 2664h0M441 2671h0M479 2715h0M494 2718h0M507 2710h0M482 2741h0M473 2718h0M467 2723h0M474 2727h0M462 2728h0M468 2731h0M475 2721h0M459 2720h0M442 2676h0M427 2706h0M432 2731h0M434 2717h0M452 2729h0M455 2743h0M428 2744h0M420 2711h0M449 2738h0M424 2729h0M450 2693h0M450 2711h0M422 2731h0M424 2723h0M442 2737h0M427 2705h0M416 2713h0M457 2692h0M433 2717h0M443 2707h0M461 2733h0M429 2698h0M438 2710h0M449 2747h0M451 2707h0M438 2716h0M437 2738h0M440 2746h0M439 2706h0M436 2714h0M460 2727h0M421 2709h0M444 2745h0M432 2737h0M418 2725h0M459 2741h0M456 2709h0M421 2705h0M443 2683h0M449 2699h0M431 2700h0M459 2728h0M436 2700h0M438 2743h0M417 2745h0M424 2741h0M438 2702h0M440 2723h0M446 2731h0M437 2699h0M434 2739h0M458 2708h0M432 2729h0M440 2710h0M425 2747h0M425 2707h0M422 2728h0M424 2739h0M423 2730h0M423 2746h0M420 2742h0M438 2745h0M416 2731h0M434 2705h0M417 2732h0M434 2746h0M461 2744h0M419 2728h0M423 2718h0M431 2742h0M417 2716h0M428 2704h0M437 2685h0M429 2736h0M427 2702h0M445 2728h0M419 2717h0M461 2735h0M415 2746h0M419 2742h0M417 2746h0M446 2685h0M424 2695h0M437 2695h0M458 2694h0M416 2737h0M444 2681h0M419 2737h0M455 2743h0M433 2731h0M447 2683h0M423 2711h0M450 2691h0M441 2683h0M432 2726h0M426 2706h0M438 2734h0M423 2712h0M444 2701h0M433 2721h0M422 2713h0M416 2730h0M451 2705h0M419 2739h0M455 2711h0M457 2697h0M436 2688h0M450 2729h0M432 2745h0M434 2686h0M420 2723h0M420 2745h0M446 2735h0M417 2743h0M445 2711h0M415 2740h0M461 2743h0M442 2723h0M452 2711h0M452 2717h0M424 2741h0M419 2710h0M420 2747h0M461 2744h0M457 2744h0M437 2737h0M454 2713h0M445 2697h0M456 2731h0M443 2721h0M420 2708h0M443 2692h0M425 2722h0M437 2701h0M418 2734h0M438 2744h0M441 2699h0M435 2709h0M444 2737h0M431 2685h0M431 2726h0M419 2740h0M423 2699h0M449 2687h0M462 2734h0M459 2736h0M435 2686h0M458 2693h0M438 2697h0M434 2682h0M459 2735h0M459 2744h0M419 2715h0M429 2721h0M445 2746h0M450 2733h0M435 2729h0M450 2699h0M428 2744h0M429 2727h0M418 2742h0M451 2703h0M461 2724h0M456 2730h0M422 2735h0M437 2717h0M441 2727h0M455 2734h0M437 2689h0M453 2733h0M426 2704h0M415 2744h0M440 2715h0M423 2746h0M424 2708h0M437 2681h0M477 2715h0M463 2744h0M463 2741h0M469 2744h0M473 2743h0M468 2741h0M478 2732h0M467 2745h0M470 2732h0M475 2720h0M478 2738h0M465 2736h0M477 2730h0M478 2728h0" stroke="#C1161D" stroke-width="11.5" stroke-linecap="round" fill="none"/>
<path d="M278 2749h0M298 2759h0M474 2757h0M413 2753h0M417 2756h0M353 2754h0M324 2755h0M407 2755h0M416 2758h0M372 2756h0M428 2760h0M378 2753h0M436 2750h0M389 2760h0M390 2761h0M417 2758h0M318 2750h0M456 2760h0M383 2756h0M384 2755h0M422 2757h0M465 2761h0M345 2761h0M337 2754h0M386 2763h0M355 2756h0M398 2762h0M454 2760h0M471 2753h0M431 2760h0M441 2750h0M471 2757h0M374 2750h0M334 2758h0M414 2762h0M426 2749h0M369 2749h0M339 2762h0M401 2760h0M405 2759h0M349 2755h0M408 2755h0M375 2760h0M355 2760h0M465 2757h0M448 2751h0M383 2757h0M397 2762h0M407 2760h0M361 2758h0M394 2761h0M462 2759h0M367 2759h0M426 2758h0M425 2759h0M435 2755h0M387 2757h0M357 2762h0M389 2758h0M398 2762h0M383 2760h0M406 2760h0M440 2753h0M376 2758h0M419 2753h0M348 2757h0M362 2761h0M319 2755h0M411 2757h0M390 2759h0M328 2753h0M450 2756h0M447 2759h0M421 2761h0M368 2762h0M374 2756h0M376 2755h0M465 2753h0M382 2756h0M388 2760h0M395 2761h0M377 2753h0M375 2761h0M390 2760h0M389 2762h0M400 2761h0M465 2753h0M453 2761h0M391 2760h0M358 2751h0M445 2760h0M432 2760h0M410 2761h0M455 2757h0M343 2762h0M360 2751h0M376 2758h0M421 2758h0M348 2756h0M371 2760h0M385 2758h0M423 2755h0M450 2754h0M384 2756h0M400 2761h0M387 2761h0M471 2749h0M328 2760h0M471 2758h0M396 2762h0M348 2755h0M421 2754h0M366 2760h0M447 2758h0M430 2750h0M313 2752h0M316 2753h0M392 2761h0M422 2755h0M382 2760h0M407 2761h0M377 2756h0M323 2756h0M330 2755h0M437 2750h0M357 2758h0M392 2762h0M435 2759h0M382 2761h0M349 2749h0M377 2754h0M409 2756h0M385 2756h0M417 2759h0M450 2757h0M437 2753h0M352 2751h0M393 2762h0M340 2754h0M410 2754h0M455 2752h0M388 2759h0M403 2762h0M451 2756h0M471 2761h0M344 2760h0M410 2754h0M435 2757h0M399 2760h0M374 2763h0M422 2760h0M439 2749h0M438 2757h0M409 2760h0M384 2757h0M381 2762h0M417 2755h0M318 2762h0M382 2761h0M370 2754h0M384 2757h0M358 2762h0M390 2761h0M463 2754h0M444 2761h0M418 2749h0M391 2761h0M397 2763h0M471 2763h0M377 2762h0M325 2758h0M365 2761h0M401 2762h0M406 2761h0M429 2755h0M401 2762h0M353 2755h0M418 2750h0M395 2761h0M362 2754h0M361 2752h0M369 2753h0M437 2749h0M371 2762h0M404 2759h0M342 2756h0M450 2755h0M427 2752h0M428 2752h0M345 2754h0M421 2752h0M445 2757h0M433 2757h0M407 2757h0M430 2760h0M446 2749h0M434 2750h0M431 2758h0M429 2750h0M442 2757h0M404 2760h0M460 2758h0M383 2755h0M393 2762h0M459 2759h0M422 2760h0M377 2756h0M443 2750h0M421 2751h0M338 2749h0M407 2756h0M379 2762h0M389 2761h0M456 2758h0M471 2761h0M425 2753h0M374 2759h0M448 2758h0M365 2761h0M377 2759h0M389 2759h0M338 2761h0M445 2756h0M363 2757h0M425 2757h0M441 2756h0M399 2761h0M391 2762h0M373 2760h0M398 2761h0M369 2750h0M407 2762h0M394 2762h0M393 2761h0M331 2755h0M328 2751h0M416 2762h0M393 2760h0M423 2752h0M350 2762h0M397 2761h0M445 2756h0M443 2753h0M434 2751h0M350 2760h0M427 2755h0M373 2758h0M364 2758h0M457 2752h0M365 2757h0M330 2758h0M368 2754h0M375 2754h0M355 2755h0M366 2751h0M445 2762h0M455 2756h0M335 2755h0M372 2763h0M406 2759h0M417 2759h0M360 2763h0M340 2756h0M457 2758h0M413 2756h0M324 2758h0M399 2761h0M320 2760h0M445 2754h0M400 2762h0M453 2759h0M353 2751h0M395 2762h0M418 2762h0M427 2751h0M447 2749h0M361 2761h0M429 2757h0M454 2752h0M355 2757h0M331 2753h0M439 2753h0M355 2755h0M395 2762h0M329 2759h0M396 2762h0M402 2760h0M469 2750h0M378 2761h0M428 2752h0M335 2760h0M381 2757h0M375 2758h0M370 2757h0M470 2757h0M465 2750h0M361 2759h0M416 2755h0M425 2755h0M362 2754h0M430 2749h0M432 2753h0M426 2751h0M459 2754h0M408 2758h0M458 2751h0M427 2752h0M446 2752h0M425 2761h0M398 2761h0M379 2754h0M373 2758h0M373 2757h0M353 2752h0M398 2761h0M367 2751h0M378 2756h0M379 2753h0M345 2759h0M432 2760h0M372 2756h0M435 2757h0M321 2753h0M367 2760h0M384 2762h0M351 2760h0M413 2760h0M405 2759h0M387 2761h0M416 2762h0M435 2750h0M438 2750h0M341 2755h0M353 2756h0M464 2755h0M451 2749h0M334 2751h0M446 2754h0M350 2757h0M395 2763h0M380 2760h0M424 2756h0M335 2759h0M404 2759h0M459 2758h0M358 2753h0M407 2758h0M437 2757h0M338 2755h0M413 2757h0M453 2754h0M411 2761h0M419 2749h0M325 2749h0M455 2752h0M386 2759h0M374 2754h0M450 2761h0M361 2754h0M464 2757h0M395 2762h0M364 2749h0M419 2752h0M377 2754h0M450 2761h0M386 2762h0M443 2753h0M373 2756h0M380 2760h0M436 2762h0M348 2760h0M436 2754h0M407 2756h0M462 2757h0M342 2753h0M411 2759h0M427 2749h0M409 2760h0M346 2754h0M360 2760h0M374 2750h0M423 2761h0M402 2760h0M445 2758h0M417 2751h0M431 2761h0M332 2751h0M396 2762h0M428 2749h0M373 2759h0M443 2758h0M448 2758h0M449 2756h0M449 2761h0M415 2755h0M353 2760h0M390 2759h0M370 2760h0M411 2755h0M380 2761h0M388 2757h0M445 2757h0M436 2750h0M434 2758h0M407 2757h0M313 2751h0M442 2760h0M377 2756h0M352 2760h0M465 2755h0M377 2759h0M415 2759h0M422 2758h0M414 2761h0M395 2762h0M371 2758h0M390 2762h0M334 2759h0M431 2761h0M400 2760h0M358 2751h0M402 2762h0M399 2762h0M339 2759h0M353 2753h0M421 2756h0M416 2759h0M326 2761h0M450 2757h0M313 2752h0M365 2756h0M351 2752h0M429 2756h0M346 2762h0M404 2760h0M346 2758h0M382 2759h0M384 2761h0M407 2759h0M378 2762h0M322 2757h0M468 2760h0M346 2757h0M391 2761h0M390 2759h0M384 2758h0M393 2761h0M407 2760h0M358 2755h0M368 2760h0M416 2755h0M437 2749h0M421 2761h0M449 2750h0M364 2754h0M441 2753h0M389 2759h0M387 2759h0M419 2751h0M428 2753h0M439 2761h0M344 2754h0M367 2753h0M456 2756h0M438 2754h0M367 2762h0M441 2761h0M456 2755h0M432 2753h0M445 2758h0M452 2758h0M395 2762h0M360 2752h0M414 2760h0M458 2749h0M439 2759h0M441 2758h0M406 2762h0M354 2753h0M354 2749h0M406 2756h0M396 2762h0M376 2751h0M420 2750h0M344 2762h0M405 2761h0M329 2758h0M347 2762h0M326 2750h0M360 2763h0M356 2758h0M370 2758h0M353 2752h0M375 2756h0M401 2760h0M424 2758h0M352 2749h0M431 2750h0M394 2762h0M378 2752h0M408 2756h0M427 2750h0M368 2757h0M393 2761h0M329 2760h0M454 2762h0M363 2760h0M393 2761h0M372 2751h0M355 2757h0M461 2752h0M355 2758h0M398 2760h0M471 2749h0M455 2759h0M413 2754h0M470 2755h0M409 2760h0M329 2749h0M414 2758h0M393 2761h0M389 2759h0M376 2752h0M355 2751h0M465 2753h0M325 2752h0M427 2752h0M423 2749h0M439 2753h0M420 2749h0M422 2749h0M440 2750h0M448 2751h0M331 2752h0M458 2751h0M449 2750h0M436 2751h0M326 2752h0M339 2751h0M325 2750h0M330 2751h0M318 2751h0M337 2749h0M370 2749h0M365 2749h0M357 2751h0M467 2750h0M322 2751h0M461 2749h0M371 2752h0M356 2750h0M342 2749h0M355 2750h0M421 2752h0M356 2751h0M462 2752h0M341 2751h0M455 2752h0M345 2751h0M372 2750h0M466 2749h0M348 2751h0M460 2753h0M328 2753h0M462 2751h0M329 2749h0M467 2750h0M455 2750h0M362 2752h0M361 2752h0M371 2753h0M321 2749h0M445 2749h0M368 2751h0M435 2752h0M444 2751h0M315 2751h0M450 2752h0M335 2752h0M330 2751h0M374 2750h0M445 2752h0M431 2750h0M428 2750h0M356 2750h0M424 2751h0M452 2752h0" stroke="#BEBEBE" stroke-width="11.5" stroke-linecap="round" fill="none"/>
<line x1="196.5" y1="2521.6" x2="196.5" y2="2787.8" stroke="#000" stroke-width="6"/>
<line x1="193.5" y1="2784.8" x2="557.2" y2="2784.8" stroke="#000" stroke-width="6"/>
<line x1="188.0" y1="2762.6" x2="196.5" y2="2762.6" stroke="#333" stroke-width="4.5"/>
<text x="184.7" y="2773.2" font-size="29.5" font-weight="bold" text-anchor="end" fill="#4d4d4d">0</text>
<line x1="188.0" y1="2653.3" x2="196.5" y2="2653.3" stroke="#333" stroke-width="4.5"/>
<text x="184.7" y="2663.9" font-size="29.5" font-weight="bold" text-anchor="end" fill="#4d4d4d">10</text>
<line x1="188.0" y1="2544.0" x2="196.5" y2="2544.0" stroke="#333" stroke-width="4.5"/>
<text x="184.7" y="2554.6" font-size="29.5" font-weight="bold" text-anchor="end" fill="#4d4d4d">20</text>
<line x1="220.7" y1="2784.8" x2="220.7" y2="2792.8" stroke="#333" stroke-width="4.5"/>
<text x="220.8" y="2817.1" font-size="29.5" font-weight="bold" text-anchor="middle" fill="#4d4d4d">−6</text>
<line x1="308.4" y1="2784.8" x2="308.4" y2="2792.8" stroke="#333" stroke-width="4.5"/>
<text x="308.4" y="2817.1" font-size="29.5" font-weight="bold" text-anchor="middle" fill="#4d4d4d">−3</text>
<line x1="395.6" y1="2784.8" x2="395.6" y2="2792.8" stroke="#333" stroke-width="4.5"/>
<text x="395.6" y="2817.1" font-size="29.5" font-weight="bold" text-anchor="middle" fill="#4d4d4d">0</text>
<line x1="482.7" y1="2784.8" x2="482.7" y2="2792.8" stroke="#333" stroke-width="4.5"/>
<text x="482.7" y="2817.1" font-size="29.5" font-weight="bold" text-anchor="middle" fill="#4d4d4d">3</text>
<text x="377.6" y="2840.2" font-size="33.6" text-anchor="middle">avg_log2FC</text>
<text x="140.0" y="2650.9" font-size="32.5" text-anchor="middle" transform="rotate(-90 140.0 2650.9)" letter-spacing="2.4">Log<tspan font-size="21.5" dy="5">10</tspan><tspan dy="-5" font-style="italic">p_val_adj</tspan></text>
<circle cx="532.6" cy="2569.3" r="8.6" fill="#0B3C96"/>
<text x="567.4" y="2578.3" font-size="25.5">Low</text>
<circle cx="532.6" cy="2601.9" r="8.6" fill="#BEBEBE"/>
<text x="567.4" y="2610.9" font-size="25.5">ns</text>
<circle cx="532.6" cy="2634.5" r="8.6" fill="#C1161D"/>
<text x="567.4" y="2643.5" font-size="25.5">High</text>
<line x1="455.6" y1="2701.7" x2="427.9" y2="2735.5" stroke="#000" stroke-width="3.4"/>
<line x1="483.3" y1="2747.8" x2="417.1" y2="2740.1" stroke="#000" stroke-width="3.4"/>
<rect x="470.4" y="2691.5" width="86.2" height="19.4" rx="5" fill="#fff" stroke="#000" stroke-width="1.8"/>
<text x="513.5" y="2708.3" font-size="20" text-anchor="middle">PHLDA1</text>
<rect x="497.2" y="2738.6" width="59.4" height="20.0" rx="5" fill="#fff" stroke="#000" stroke-width="1.8"/>
<text x="526.9" y="2755.7" font-size="20" text-anchor="middle">CD14</text>
<line x1="1260.0" y1="2522.0" x2="1260.0" y2="2775.8" stroke="#BEBEBE" stroke-width="3.7" stroke-dasharray="17 17"/>
<line x1="1281.0" y1="2522.0" x2="1281.0" y2="2775.8" stroke="#BEBEBE" stroke-width="3.7" stroke-dasharray="17 17"/>
<line x1="1302.0" y1="2522.0" x2="1302.0" y2="2775.8" stroke="#BEBEBE" stroke-width="3.7" stroke-dasharray="17 17"/>
<line x1="1073.0" y1="2739.6" x2="1428.0" y2="2739.6" stroke="#BEBEBE" stroke-width="3.7" stroke-dasharray="17 17"/>
<path d="M1209 2591h0M1208 2624h0M1161 2636h0M1236 2643h0M1161 2653h0M1188 2654h0M1180 2660h0M1223 2653h0M1227 2657h0M1239 2661h0M1127 2666h0M1191 2668h0M1196 2672h0M1208 2681h0M1217 2676h0M1237 2674h0M1113 2691h0M1135 2701h0M1161 2705h0M1190 2700h0M1161 2722h0M1176 2721h0M1183 2718h0M1193 2720h0M1180 2729h0M1153 2735h0M1213 2675h0M1204 2686h0M1197 2700h0M1200 2706h0M1242 2715h0M1233 2708h0M1214 2737h0M1258 2719h0M1240 2730h0M1188 2710h0M1225 2708h0M1248 2716h0M1197 2711h0M1205 2729h0M1256 2717h0M1225 2703h0M1197 2702h0M1231 2695h0M1227 2687h0M1249 2733h0M1214 2728h0M1223 2723h0M1234 2710h0M1217 2693h0M1210 2699h0M1189 2735h0M1198 2702h0M1218 2705h0M1244 2701h0M1218 2728h0M1254 2714h0M1248 2730h0M1204 2737h0M1215 2737h0M1196 2722h0M1253 2722h0M1256 2735h0M1230 2708h0M1248 2737h0M1191 2728h0M1226 2715h0M1213 2714h0M1219 2711h0M1192 2726h0M1237 2681h0M1222 2714h0M1258 2731h0M1218 2738h0M1215 2711h0M1254 2722h0M1226 2705h0M1234 2701h0M1254 2721h0M1226 2710h0M1236 2723h0M1237 2723h0M1217 2728h0M1232 2697h0M1257 2726h0M1243 2701h0M1242 2733h0M1228 2703h0M1251 2730h0M1235 2692h0M1228 2692h0M1247 2728h0M1213 2721h0M1243 2735h0M1221 2732h0M1202 2734h0M1239 2696h0M1213 2701h0M1234 2734h0M1238 2696h0M1240 2725h0M1229 2720h0M1230 2687h0M1248 2738h0M1192 2701h0M1228 2685h0M1206 2712h0M1222 2728h0M1235 2730h0M1254 2723h0M1238 2695h0M1255 2714h0M1210 2697h0M1195 2738h0M1237 2704h0M1222 2722h0M1192 2729h0M1241 2695h0M1225 2698h0M1234 2731h0M1221 2698h0M1247 2707h0M1194 2708h0M1258 2726h0M1239 2729h0M1221 2721h0M1225 2699h0M1259 2737h0M1250 2736h0M1254 2709h0M1223 2726h0M1236 2724h0M1213 2714h0M1233 2732h0M1235 2734h0M1219 2705h0M1232 2736h0M1246 2726h0M1216 2702h0M1232 2695h0M1215 2722h0M1232 2715h0M1210 2731h0M1221 2706h0M1254 2728h0M1229 2690h0M1195 2731h0M1226 2735h0M1201 2702h0M1203 2709h0M1219 2735h0M1217 2738h0M1249 2710h0M1256 2737h0M1252 2709h0M1246 2738h0M1199 2705h0M1191 2710h0M1256 2719h0M1223 2704h0M1251 2714h0M1236 2711h0M1246 2731h0M1215 2704h0M1231 2723h0M1231 2724h0M1229 2736h0M1223 2686h0M1230 2699h0M1247 2713h0M1205 2720h0M1224 2708h0M1252 2715h0M1194 2725h0M1240 2732h0M1217 2727h0M1242 2707h0M1198 2731h0M1243 2738h0M1225 2723h0M1247 2727h0M1236 2697h0M1249 2699h0M1225 2710h0M1226 2695h0M1201 2722h0M1208 2725h0M1207 2722h0M1242 2731h0M1208 2694h0M1245 2731h0M1245 2710h0M1198 2731h0M1229 2701h0M1253 2737h0M1233 2710h0M1235 2719h0M1224 2731h0M1217 2690h0M1231 2712h0M1250 2732h0M1196 2736h0M1204 2729h0M1211 2702h0M1240 2701h0M1191 2722h0M1251 2724h0M1234 2701h0M1211 2733h0M1213 2712h0M1246 2700h0M1235 2700h0M1216 2715h0M1213 2721h0M1237 2732h0M1254 2719h0M1205 2708h0M1233 2728h0M1232 2689h0M1256 2727h0" stroke="#0B3C96" stroke-width="11.5" stroke-linecap="round" fill="none"/>
<path d="M1335 2565h0M1339 2606h0M1376 2615h0M1333 2648h0M1328 2654h0M1353 2655h0M1329 2662h0M1370 2706h0M1386 2709h0M1400 2701h0M1373 2732h0M1363 2710h0M1357 2714h0M1365 2718h0M1352 2719h0M1358 2722h0M1366 2712h0M1349 2711h0M1331 2668h0M1314 2697h0M1319 2722h0M1322 2708h0M1341 2720h0M1345 2734h0M1315 2735h0M1307 2702h0M1338 2729h0M1311 2720h0M1339 2685h0M1340 2702h0M1309 2722h0M1311 2714h0M1330 2728h0M1314 2697h0M1303 2704h0M1347 2683h0M1321 2708h0M1331 2698h0M1351 2724h0M1317 2689h0M1326 2702h0M1338 2738h0M1341 2698h0M1326 2707h0M1325 2729h0M1328 2737h0M1327 2698h0M1324 2705h0M1350 2718h0M1308 2700h0M1333 2736h0M1320 2728h0M1305 2716h0M1349 2732h0M1346 2700h0M1308 2696h0M1332 2674h0M1338 2690h0M1319 2691h0M1349 2719h0M1324 2691h0M1326 2734h0M1304 2736h0M1312 2732h0M1327 2694h0M1329 2714h0M1334 2722h0M1325 2690h0M1322 2730h0M1347 2700h0M1320 2720h0M1328 2701h0M1313 2738h0M1312 2698h0M1309 2719h0M1311 2730h0M1310 2721h0M1310 2737h0M1307 2733h0M1326 2736h0M1303 2722h0M1322 2696h0M1304 2723h0M1322 2737h0M1351 2734h0M1306 2719h0M1310 2709h0M1319 2733h0M1304 2707h0M1315 2695h0M1325 2676h0M1317 2727h0M1315 2694h0M1333 2719h0M1306 2708h0M1351 2726h0M1302 2737h0M1306 2733h0M1303 2737h0M1335 2676h0M1312 2686h0M1326 2686h0M1348 2685h0M1303 2728h0M1332 2672h0M1306 2728h0M1345 2734h0M1321 2722h0M1336 2674h0M1310 2702h0M1339 2682h0M1330 2674h0M1320 2717h0M1313 2697h0M1326 2725h0M1310 2703h0M1332 2692h0M1321 2712h0M1309 2704h0M1303 2721h0M1340 2696h0M1306 2730h0M1344 2702h0M1346 2688h0M1324 2680h0M1339 2720h0M1320 2736h0M1322 2677h0M1307 2714h0M1307 2736h0M1334 2726h0M1304 2734h0M1334 2702h0M1302 2731h0M1351 2734h0M1330 2714h0M1341 2703h0M1342 2708h0M1311 2732h0M1305 2701h0M1307 2737h0M1351 2735h0M1347 2735h0M1325 2728h0M1344 2704h0M1334 2688h0M1346 2722h0M1332 2712h0M1307 2699h0M1332 2684h0M1312 2713h0M1325 2692h0M1305 2725h0M1326 2735h0M1330 2690h0M1323 2700h0M1332 2728h0M1319 2677h0M1319 2717h0M1306 2731h0M1310 2690h0M1338 2679h0M1352 2725h0M1349 2727h0M1323 2677h0M1347 2684h0M1326 2688h0M1322 2674h0M1348 2726h0M1349 2735h0M1306 2706h0M1316 2712h0M1334 2737h0M1339 2724h0M1323 2720h0M1339 2690h0M1316 2734h0M1317 2719h0M1305 2733h0M1340 2695h0M1351 2715h0M1346 2721h0M1310 2726h0M1325 2708h0M1329 2718h0M1345 2725h0M1325 2680h0M1342 2724h0M1314 2695h0M1302 2734h0M1328 2706h0M1310 2737h0M1312 2699h0M1325 2672h0M1368 2706h0M1353 2735h0M1353 2732h0M1359 2735h0M1363 2734h0M1359 2732h0M1368 2723h0M1358 2736h0M1361 2723h0M1366 2711h0M1369 2729h0M1355 2727h0M1368 2721h0M1369 2719h0" stroke="#C1161D" stroke-width="11.5" stroke-linecap="round" fill="none"/>
<path d="M1155 2740h0M1177 2750h0M1365 2748h0M1300 2744h0M1304 2747h0M1236 2745h0M1204 2746h0M1293 2746h0M1303 2748h0M1255 2747h0M1315 2751h0M1262 2744h0M1324 2740h0M1274 2751h0M1275 2752h0M1304 2749h0M1198 2741h0M1345 2751h0M1267 2747h0M1269 2746h0M1309 2748h0M1355 2752h0M1227 2752h0M1218 2745h0M1271 2753h0M1238 2747h0M1284 2753h0M1343 2751h0M1362 2744h0M1319 2751h0M1329 2741h0M1362 2748h0M1258 2741h0M1215 2748h0M1301 2753h0M1314 2740h0M1252 2740h0M1221 2753h0M1287 2750h0M1291 2750h0M1232 2746h0M1294 2746h0M1259 2751h0M1238 2751h0M1355 2748h0M1337 2742h0M1267 2748h0M1283 2752h0M1293 2751h0M1244 2748h0M1279 2752h0M1352 2749h0M1251 2750h0M1314 2749h0M1313 2749h0M1323 2746h0M1272 2748h0M1240 2752h0M1274 2749h0M1283 2753h0M1268 2750h0M1292 2751h0M1329 2744h0M1260 2749h0M1306 2744h0M1230 2748h0M1245 2751h0M1199 2746h0M1298 2748h0M1275 2750h0M1208 2744h0M1339 2747h0M1336 2749h0M1308 2752h0M1252 2753h0M1258 2747h0M1260 2746h0M1355 2744h0M1267 2747h0M1273 2751h0M1280 2752h0M1261 2743h0M1259 2752h0M1275 2751h0M1274 2753h0M1286 2751h0M1356 2744h0M1342 2752h0M1276 2751h0M1240 2741h0M1333 2751h0M1319 2751h0M1296 2751h0M1344 2748h0M1225 2753h0M1243 2742h0M1260 2749h0M1308 2749h0M1230 2747h0M1254 2750h0M1269 2749h0M1310 2746h0M1339 2745h0M1269 2747h0M1286 2751h0M1271 2752h0M1362 2740h0M1209 2751h0M1362 2749h0M1281 2752h0M1230 2746h0M1309 2745h0M1249 2751h0M1336 2749h0M1317 2741h0M1193 2743h0M1196 2744h0M1278 2752h0M1309 2746h0M1267 2751h0M1293 2752h0M1261 2747h0M1203 2747h0M1211 2746h0M1325 2741h0M1240 2749h0M1277 2753h0M1323 2750h0M1267 2752h0M1231 2740h0M1261 2745h0M1295 2747h0M1269 2746h0M1304 2750h0M1339 2748h0M1325 2744h0M1234 2742h0M1279 2753h0M1222 2744h0M1297 2745h0M1344 2743h0M1273 2749h0M1289 2752h0M1340 2747h0M1362 2751h0M1226 2751h0M1297 2745h0M1323 2748h0M1285 2751h0M1258 2753h0M1309 2751h0M1327 2740h0M1326 2748h0M1295 2751h0M1269 2747h0M1265 2753h0M1304 2746h0M1198 2753h0M1266 2752h0M1253 2745h0M1268 2748h0M1241 2753h0M1275 2751h0M1353 2745h0M1333 2752h0M1305 2740h0M1276 2752h0M1282 2753h0M1362 2753h0M1261 2753h0M1206 2749h0M1249 2752h0M1287 2753h0M1292 2752h0M1317 2746h0M1286 2753h0M1235 2746h0M1305 2741h0M1280 2752h0M1245 2745h0M1244 2743h0M1253 2744h0M1325 2740h0M1255 2753h0M1290 2750h0M1224 2746h0M1339 2746h0M1315 2743h0M1316 2743h0M1227 2745h0M1308 2743h0M1334 2748h0M1321 2747h0M1293 2748h0M1318 2751h0M1335 2740h0M1322 2741h0M1319 2749h0M1317 2741h0M1331 2748h0M1290 2751h0M1350 2749h0M1268 2746h0M1278 2753h0M1348 2750h0M1309 2750h0M1261 2747h0M1332 2740h0M1308 2742h0M1220 2740h0M1294 2746h0M1263 2753h0M1274 2752h0M1346 2749h0M1362 2752h0M1312 2744h0M1258 2750h0M1337 2749h0M1248 2752h0M1261 2750h0M1274 2750h0M1220 2752h0M1333 2747h0M1247 2748h0M1312 2748h0M1330 2747h0M1284 2752h0M1276 2753h0M1257 2751h0M1283 2752h0M1252 2741h0M1294 2753h0M1279 2753h0M1278 2752h0M1212 2746h0M1208 2742h0M1303 2753h0M1278 2751h0M1310 2743h0M1233 2753h0M1282 2752h0M1333 2747h0M1331 2744h0M1322 2741h0M1233 2751h0M1315 2746h0M1256 2749h0M1247 2749h0M1347 2743h0M1248 2747h0M1211 2749h0M1251 2744h0M1259 2745h0M1238 2746h0M1249 2742h0M1334 2752h0M1345 2747h0M1216 2746h0M1256 2753h0M1292 2750h0M1304 2750h0M1243 2753h0M1221 2747h0M1347 2749h0M1300 2747h0M1204 2749h0M1285 2752h0M1200 2751h0M1334 2745h0M1285 2753h0M1342 2750h0M1235 2741h0M1281 2753h0M1305 2753h0M1314 2742h0M1336 2740h0M1244 2752h0M1316 2748h0M1344 2743h0M1238 2748h0M1212 2744h0M1327 2744h0M1237 2746h0M1280 2753h0M1210 2750h0M1281 2753h0M1288 2751h0M1359 2741h0M1262 2752h0M1315 2743h0M1216 2751h0M1266 2748h0M1259 2749h0M1254 2748h0M1360 2747h0M1355 2741h0M1244 2750h0M1303 2745h0M1313 2746h0M1245 2744h0M1318 2740h0M1320 2744h0M1313 2742h0M1348 2745h0M1294 2748h0M1347 2742h0M1315 2743h0M1335 2743h0M1312 2752h0M1284 2752h0M1263 2744h0M1257 2749h0M1257 2748h0M1236 2743h0M1284 2751h0M1251 2742h0M1262 2746h0M1264 2744h0M1226 2750h0M1320 2751h0M1256 2747h0M1323 2748h0M1202 2744h0M1250 2751h0M1269 2753h0M1233 2751h0M1300 2750h0M1291 2749h0M1272 2751h0M1303 2753h0M1323 2741h0M1327 2741h0M1223 2746h0M1235 2747h0M1354 2745h0M1340 2740h0M1215 2742h0M1334 2745h0M1233 2748h0M1280 2753h0M1264 2751h0M1311 2747h0M1216 2749h0M1290 2750h0M1349 2749h0M1240 2744h0M1293 2749h0M1325 2748h0M1220 2746h0M1299 2747h0M1342 2745h0M1298 2751h0M1306 2740h0M1205 2740h0M1344 2743h0M1270 2750h0M1258 2745h0M1339 2751h0M1244 2745h0M1354 2748h0M1280 2752h0M1248 2740h0M1306 2742h0M1261 2745h0M1339 2752h0M1270 2753h0M1332 2744h0M1257 2747h0M1264 2750h0M1324 2752h0M1230 2751h0M1324 2745h0M1293 2747h0M1352 2748h0M1223 2744h0M1298 2750h0M1315 2740h0M1296 2751h0M1228 2744h0M1243 2751h0M1258 2740h0M1310 2752h0M1288 2751h0M1334 2749h0M1304 2742h0M1319 2752h0M1213 2741h0M1282 2753h0M1315 2740h0M1257 2750h0M1332 2749h0M1337 2749h0M1338 2747h0M1338 2752h0M1301 2746h0M1236 2751h0M1275 2750h0M1254 2751h0M1297 2746h0M1264 2752h0M1273 2748h0M1334 2748h0M1324 2740h0M1322 2749h0M1294 2748h0M1193 2741h0M1330 2751h0M1261 2747h0M1234 2751h0M1355 2746h0M1262 2750h0M1302 2750h0M1309 2749h0M1300 2752h0M1280 2753h0M1255 2749h0M1275 2753h0M1215 2750h0M1319 2752h0M1286 2750h0M1241 2742h0M1287 2753h0M1284 2753h0M1220 2750h0M1236 2744h0M1308 2746h0M1302 2750h0M1207 2752h0M1339 2748h0M1193 2743h0M1248 2746h0M1234 2743h0M1317 2747h0M1228 2753h0M1290 2751h0M1228 2749h0M1266 2750h0M1269 2751h0M1293 2749h0M1262 2752h0M1203 2747h0M1358 2751h0M1228 2748h0M1276 2752h0M1275 2750h0M1269 2749h0M1279 2752h0M1293 2751h0M1241 2746h0M1252 2750h0M1302 2746h0M1325 2740h0M1308 2752h0M1338 2741h0M1247 2745h0M1330 2744h0M1274 2749h0M1272 2750h0M1306 2741h0M1315 2744h0M1327 2752h0M1225 2745h0M1250 2744h0M1346 2747h0M1327 2745h0M1251 2753h0M1330 2752h0M1346 2746h0M1320 2743h0M1333 2749h0M1341 2749h0M1281 2753h0M1243 2743h0M1301 2751h0M1347 2740h0M1327 2750h0M1330 2749h0M1292 2753h0M1236 2744h0M1237 2740h0M1292 2747h0M1281 2752h0M1260 2742h0M1307 2741h0M1226 2753h0M1291 2752h0M1210 2748h0M1229 2752h0M1207 2740h0M1243 2753h0M1239 2749h0M1254 2749h0M1235 2743h0M1259 2746h0M1287 2751h0M1312 2749h0M1235 2740h0M1319 2741h0M1279 2752h0M1262 2743h0M1294 2747h0M1315 2740h0M1252 2748h0M1279 2752h0M1210 2751h0M1343 2753h0M1247 2751h0M1278 2752h0M1256 2742h0M1238 2748h0M1351 2743h0M1237 2749h0M1284 2751h0M1362 2740h0M1345 2750h0M1300 2745h0M1360 2746h0M1296 2751h0M1210 2740h0M1301 2749h0M1279 2752h0M1274 2750h0M1260 2743h0M1238 2742h0M1355 2743h0M1206 2743h0M1314 2742h0M1310 2740h0M1327 2744h0M1307 2740h0M1310 2740h0M1329 2741h0M1336 2741h0M1212 2743h0M1347 2742h0M1338 2741h0M1324 2742h0M1207 2743h0M1220 2741h0M1206 2741h0M1211 2742h0M1199 2742h0M1218 2740h0M1254 2740h0M1248 2740h0M1239 2742h0M1358 2741h0M1203 2742h0M1351 2740h0M1255 2743h0M1238 2741h0M1224 2740h0M1238 2741h0M1308 2743h0M1238 2741h0M1352 2743h0M1223 2742h0M1344 2743h0M1227 2742h0M1256 2740h0M1356 2740h0M1230 2742h0M1350 2743h0M1209 2743h0M1352 2742h0M1210 2740h0M1357 2741h0M1344 2741h0M1245 2743h0M1244 2743h0M1255 2744h0M1201 2740h0M1334 2740h0M1252 2742h0M1324 2742h0M1332 2742h0M1195 2742h0M1339 2743h0M1216 2743h0M1211 2742h0M1258 2741h0M1333 2743h0M1319 2741h0M1316 2741h0M1239 2741h0M1311 2742h0M1341 2742h0" stroke="#BEBEBE" stroke-width="11.5" stroke-linecap="round" fill="none"/>
<line x1="1070.8" y1="2513.3" x2="1070.8" y2="2778.8" stroke="#000" stroke-width="6"/>
<line x1="1067.8" y1="2775.8" x2="1428.3" y2="2775.8" stroke="#000" stroke-width="6"/>
<line x1="1062.3" y1="2753.4" x2="1070.8" y2="2753.4" stroke="#333" stroke-width="4.5"/>
<text x="1056.7" y="2761.5" font-size="22.5" font-weight="bold" text-anchor="end" fill="#4d4d4d">0</text>
<line x1="1062.3" y1="2648.6" x2="1070.8" y2="2648.6" stroke="#333" stroke-width="4.5"/>
<text x="1056.7" y="2656.7" font-size="22.5" font-weight="bold" text-anchor="end" fill="#4d4d4d">10</text>
<line x1="1062.3" y1="2540.0" x2="1070.8" y2="2540.0" stroke="#333" stroke-width="4.5"/>
<text x="1056.7" y="2548.1" font-size="22.5" font-weight="bold" text-anchor="end" fill="#4d4d4d">20</text>
<line x1="1126.6" y1="2775.8" x2="1126.6" y2="2783.8" stroke="#333" stroke-width="4.5"/>
<text x="1122.8" y="2807.6" font-size="29.5" font-weight="bold" text-anchor="middle" fill="#4d4d4d">−6</text>
<line x1="1202.9" y1="2775.8" x2="1202.9" y2="2783.8" stroke="#333" stroke-width="4.5"/>
<text x="1197.4" y="2807.6" font-size="29.5" font-weight="bold" text-anchor="middle" fill="#4d4d4d">−3</text>
<line x1="1281.0" y1="2775.8" x2="1281.0" y2="2783.8" stroke="#333" stroke-width="4.5"/>
<text x="1281.8" y="2807.6" font-size="29.5" font-weight="bold" text-anchor="middle" fill="#4d4d4d">0</text>
<line x1="1367.9" y1="2775.8" x2="1367.9" y2="2783.8" stroke="#333" stroke-width="4.5"/>
<text x="1368.0" y="2807.6" font-size="29.5" font-weight="bold" text-anchor="middle" fill="#4d4d4d">3</text>
<text x="1256.6" y="2828.3" font-size="33.6" text-anchor="middle">avg_log2FC</text>
<text x="1014.5" y="2645.2" font-size="32.5" text-anchor="middle" transform="rotate(-90 1014.5 2645.2)" letter-spacing="2.2">Log<tspan font-size="21.5" dy="5">10</tspan><tspan dy="-5" font-style="italic">p_val_adj</tspan></text>
<line x1="1155.9" y1="2562.0" x2="1239.1" y2="2691.7" stroke="#000" stroke-width="2.6"/>
<line x1="1151.6" y1="2610.3" x2="1250.0" y2="2731.0" stroke="#000" stroke-width="2.6"/>
<line x1="1135.7" y1="2678.8" x2="1135.7" y2="2695.0" stroke="#000" stroke-width="2.6"/>
<line x1="1176.3" y1="2709.3" x2="1250.0" y2="2731.0" stroke="#000" stroke-width="2.6"/>
<line x1="1148.1" y1="2727.9" x2="1235.3" y2="2734.4" stroke="#000" stroke-width="2.6"/>
<line x1="1151.7" y1="2736.0" x2="1151.7" y2="2743.0" stroke="#000" stroke-width="2.6"/>
<rect x="1100.0" y="2542.2" width="64.5" height="19.8" rx="5" fill="#fff" stroke="#000" stroke-width="1.8"/>
<text x="1132.2" y="2559.2" font-size="20" text-anchor="middle">LGMN</text>
<rect x="1100.0" y="2590.9" width="59.3" height="19.4" rx="5" fill="#fff" stroke="#000" stroke-width="1.8"/>
<text x="1129.7" y="2607.7" font-size="20" text-anchor="middle">CTSB</text>
<rect x="1100.0" y="2659.4" width="101.6" height="19.4" rx="5" fill="#fff" stroke="#000" stroke-width="1.8"/>
<text x="1150.8" y="2676.2" font-size="20" text-anchor="middle">SELENOP</text>
<rect x="1100.0" y="2694.8" width="76.3" height="19.4" rx="5" fill="#fff" stroke="#000" stroke-width="1.8"/>
<text x="1138.2" y="2711.6" font-size="20" text-anchor="middle">HMOX1</text>
<rect x="1100.0" y="2716.8" width="48.1" height="19.4" rx="5" fill="#fff" stroke="#000" stroke-width="1.8"/>
<text x="1124.0" y="2733.6" font-size="20" text-anchor="middle">MAF</text>
<rect x="1100.0" y="2742.7" width="66.7" height="19.4" rx="5" fill="#fff" stroke="#000" stroke-width="1.8"/>
<text x="1133.3" y="2759.5" font-size="20" text-anchor="middle">LYVE1</text>
<line x1="2064.1" y1="2529.2" x2="2064.1" y2="2780.5" stroke="#BEBEBE" stroke-width="3.7" stroke-dasharray="17 17"/>
<line x1="2083.3" y1="2529.2" x2="2083.3" y2="2780.5" stroke="#BEBEBE" stroke-width="3.7" stroke-dasharray="17 17"/>
<line x1="2102.5" y1="2529.2" x2="2102.5" y2="2780.5" stroke="#BEBEBE" stroke-width="3.7" stroke-dasharray="17 17"/>
<line x1="1894.0" y1="2745.4" x2="2110.0" y2="2745.4" stroke="#BEBEBE" stroke-width="3.7" stroke-dasharray="17 17"/>
<path d="M2018 2601h0M2017 2633h0M1975 2645h0M2042 2652h0M1975 2661h0M1999 2662h0M1991 2668h0M2030 2662h0M2034 2665h0M2045 2669h0M1944 2674h0M2002 2675h0M2007 2679h0M2017 2689h0M2025 2684h0M2044 2682h0M1931 2698h0M1951 2708h0M1975 2712h0M2000 2706h0M1975 2728h0M1988 2727h0M1995 2724h0M2003 2726h0M1991 2735h0M1967 2741h0M2021 2683h0M2013 2693h0M2007 2707h0M2010 2713h0M2048 2722h0M2039 2715h0M2023 2742h0M2062 2726h0M2046 2736h0M1999 2716h0M2033 2714h0M2053 2722h0M2007 2717h0M2014 2735h0M2061 2723h0M2033 2709h0M2007 2709h0M2038 2702h0M2035 2694h0M2054 2739h0M2023 2734h0M2031 2729h0M2041 2716h0M2026 2700h0M2019 2706h0M2000 2741h0M2008 2709h0M2027 2712h0M2050 2707h0M2026 2734h0M2059 2720h0M2053 2736h0M2014 2743h0M2024 2743h0M2007 2728h0M2058 2728h0M2061 2741h0M2037 2715h0M2053 2743h0M2002 2734h0M2034 2721h0M2022 2720h0M2027 2717h0M2003 2732h0M2044 2689h0M2030 2721h0M2062 2737h0M2026 2743h0M2024 2717h0M2059 2728h0M2033 2712h0M2040 2708h0M2059 2727h0M2034 2717h0M2043 2729h0M2043 2729h0M2025 2734h0M2039 2704h0M2061 2732h0M2049 2708h0M2048 2738h0M2035 2710h0M2057 2736h0M2042 2699h0M2035 2699h0M2052 2734h0M2021 2727h0M2049 2741h0M2029 2738h0M2011 2739h0M2045 2703h0M2022 2708h0M2041 2740h0M2044 2703h0M2046 2731h0M2036 2726h0M2037 2694h0M2053 2744h0M2003 2707h0M2035 2692h0M2015 2718h0M2030 2734h0M2041 2736h0M2059 2729h0M2045 2702h0M2060 2720h0M2019 2704h0M2005 2743h0M2044 2711h0M2029 2728h0M2003 2735h0M2047 2702h0M2032 2705h0M2041 2737h0M2029 2705h0M2052 2713h0M2004 2715h0M2063 2732h0M2046 2734h0M2029 2727h0M2033 2706h0M2063 2743h0M2055 2741h0M2059 2715h0M2031 2732h0M2043 2730h0M2022 2721h0M2040 2737h0M2042 2740h0M2027 2711h0M2039 2742h0M2052 2732h0M2024 2708h0M2039 2702h0M2023 2728h0M2039 2722h0M2019 2737h0M2029 2712h0M2058 2734h0M2036 2697h0M2006 2737h0M2033 2740h0M2011 2708h0M2012 2716h0M2027 2741h0M2025 2744h0M2054 2716h0M2060 2742h0M2057 2716h0M2052 2743h0M2009 2712h0M2002 2717h0M2061 2726h0M2030 2710h0M2056 2721h0M2042 2717h0M2052 2737h0M2024 2711h0M2038 2729h0M2038 2730h0M2036 2742h0M2031 2693h0M2037 2706h0M2053 2719h0M2015 2726h0M2032 2714h0M2057 2721h0M2004 2731h0M2046 2738h0M2026 2733h0M2048 2714h0M2008 2737h0M2049 2743h0M2032 2729h0M2052 2733h0M2042 2704h0M2054 2706h0M2032 2717h0M2033 2702h0M2010 2728h0M2017 2731h0M2016 2728h0M2048 2737h0M2017 2701h0M2051 2737h0M2051 2716h0M2008 2737h0M2036 2707h0M2058 2742h0M2040 2716h0M2042 2725h0M2032 2737h0M2026 2697h0M2038 2719h0M2055 2737h0M2006 2742h0M2014 2735h0M2020 2709h0M2046 2708h0M2001 2728h0M2056 2730h0M2041 2707h0M2020 2739h0M2022 2718h0M2052 2707h0M2042 2707h0M2025 2721h0M2022 2727h0M2043 2738h0M2059 2725h0M2015 2715h0M2040 2734h0M2039 2696h0M2060 2733h0" stroke="#0B3C96" stroke-width="11.5" stroke-linecap="round" fill="none"/>
<path d="M2132 2576h0M2136 2615h0M2169 2624h0M2130 2657h0M2126 2662h0M2148 2664h0M2127 2670h0M2164 2712h0M2179 2716h0M2191 2708h0M2167 2738h0M2158 2716h0M2152 2720h0M2159 2724h0M2148 2725h0M2154 2728h0M2161 2718h0M2145 2717h0M2128 2676h0M2113 2704h0M2118 2728h0M2120 2715h0M2137 2726h0M2141 2740h0M2114 2740h0M2107 2709h0M2135 2735h0M2111 2726h0M2136 2692h0M2136 2709h0M2109 2728h0M2111 2720h0M2128 2734h0M2113 2703h0M2103 2711h0M2143 2690h0M2120 2714h0M2129 2705h0M2147 2730h0M2116 2696h0M2124 2708h0M2135 2744h0M2137 2705h0M2125 2714h0M2123 2735h0M2126 2742h0M2125 2705h0M2122 2712h0M2146 2724h0M2108 2707h0M2131 2742h0M2118 2734h0M2105 2722h0M2145 2738h0M2142 2707h0M2108 2703h0M2130 2682h0M2135 2697h0M2118 2698h0M2145 2725h0M2122 2698h0M2124 2739h0M2104 2742h0M2111 2738h0M2125 2701h0M2127 2720h0M2132 2728h0M2123 2697h0M2120 2736h0M2143 2706h0M2119 2726h0M2126 2708h0M2112 2744h0M2111 2705h0M2108 2725h0M2111 2736h0M2110 2727h0M2110 2743h0M2107 2738h0M2124 2742h0M2103 2728h0M2121 2703h0M2104 2729h0M2120 2743h0M2146 2740h0M2106 2725h0M2109 2716h0M2118 2739h0M2104 2714h0M2115 2702h0M2123 2683h0M2116 2733h0M2114 2701h0M2131 2726h0M2106 2715h0M2147 2732h0M2102 2743h0M2106 2738h0M2104 2742h0M2132 2684h0M2111 2693h0M2124 2693h0M2144 2693h0M2103 2734h0M2130 2680h0M2106 2734h0M2141 2740h0M2120 2728h0M2133 2682h0M2110 2709h0M2136 2690h0M2127 2682h0M2119 2723h0M2112 2704h0M2124 2731h0M2110 2710h0M2130 2699h0M2120 2718h0M2109 2711h0M2103 2727h0M2137 2703h0M2106 2736h0M2141 2709h0M2142 2695h0M2123 2687h0M2136 2726h0M2119 2741h0M2120 2685h0M2107 2720h0M2107 2742h0M2132 2732h0M2104 2739h0M2132 2709h0M2102 2737h0M2146 2740h0M2128 2721h0M2138 2709h0M2138 2714h0M2111 2738h0M2105 2707h0M2107 2743h0M2146 2741h0M2143 2741h0M2123 2734h0M2140 2710h0M2131 2695h0M2142 2728h0M2130 2719h0M2107 2706h0M2129 2691h0M2111 2719h0M2123 2699h0M2105 2731h0M2124 2741h0M2127 2697h0M2121 2707h0M2130 2734h0M2118 2684h0M2117 2723h0M2106 2737h0M2109 2698h0M2135 2686h0M2147 2731h0M2145 2733h0M2121 2684h0M2143 2691h0M2124 2695h0M2121 2681h0M2144 2732h0M2145 2741h0M2106 2712h0M2115 2718h0M2131 2742h0M2136 2730h0M2122 2727h0M2136 2697h0M2115 2740h0M2116 2725h0M2105 2739h0M2137 2702h0M2147 2722h0M2142 2727h0M2109 2732h0M2123 2714h0M2127 2725h0M2141 2731h0M2123 2687h0M2139 2730h0M2113 2702h0M2102 2740h0M2126 2712h0M2109 2742h0M2111 2706h0M2123 2680h0M2162 2713h0M2149 2740h0M2148 2738h0M2154 2741h0M2158 2740h0M2154 2738h0M2163 2729h0M2153 2741h0M2156 2730h0M2160 2718h0M2163 2735h0M2150 2733h0M2162 2727h0M2163 2725h0" stroke="#C1161D" stroke-width="11.5" stroke-linecap="round" fill="none"/>
<path d="M1969 2746h0M1989 2755h0M2159 2753h0M2100 2749h0M2104 2753h0M2042 2750h0M2014 2752h0M2094 2752h0M2103 2754h0M2060 2752h0M2114 2757h0M2066 2750h0M2122 2746h0M2077 2756h0M2078 2757h0M2104 2754h0M2008 2747h0M2142 2756h0M2071 2752h0M2072 2752h0M2109 2753h0M2151 2758h0M2034 2758h0M2026 2750h0M2074 2759h0M2044 2752h0M2086 2758h0M2139 2756h0M2156 2749h0M2118 2756h0M2127 2747h0M2156 2753h0M2063 2746h0M2024 2754h0M2102 2758h0M2113 2745h0M2057 2746h0M2029 2758h0M2088 2756h0M2092 2755h0M2039 2751h0M2095 2752h0M2063 2756h0M2044 2756h0M2150 2753h0M2134 2748h0M2071 2753h0M2085 2758h0M2094 2756h0M2049 2754h0M2082 2757h0M2148 2755h0M2056 2755h0M2113 2754h0M2112 2755h0M2121 2751h0M2075 2753h0M2046 2758h0M2077 2755h0M2085 2758h0M2071 2756h0M2093 2756h0M2127 2749h0M2064 2754h0M2106 2750h0M2037 2754h0M2050 2757h0M2009 2751h0M2098 2754h0M2078 2755h0M2018 2749h0M2136 2752h0M2133 2755h0M2107 2757h0M2057 2758h0M2063 2752h0M2064 2751h0M2150 2749h0M2070 2752h0M2076 2756h0M2083 2757h0M2065 2749h0M2063 2758h0M2078 2757h0M2077 2758h0M2088 2757h0M2151 2750h0M2139 2757h0M2079 2757h0M2047 2747h0M2131 2756h0M2118 2756h0M2097 2757h0M2141 2753h0M2032 2758h0M2049 2747h0M2064 2754h0M2108 2754h0M2037 2753h0M2059 2756h0M2073 2754h0M2110 2751h0M2136 2750h0M2072 2752h0M2088 2757h0M2075 2757h0M2156 2745h0M2018 2756h0M2156 2754h0M2083 2758h0M2037 2751h0M2108 2751h0M2054 2756h0M2133 2755h0M2116 2747h0M2003 2749h0M2006 2749h0M2080 2757h0M2109 2751h0M2071 2756h0M2094 2757h0M2065 2752h0M2013 2752h0M2020 2751h0M2123 2747h0M2046 2754h0M2080 2758h0M2121 2755h0M2070 2757h0M2038 2745h0M2065 2750h0M2096 2752h0M2073 2752h0M2104 2755h0M2136 2754h0M2123 2749h0M2041 2748h0M2081 2758h0M2030 2750h0M2098 2750h0M2141 2749h0M2076 2755h0M2091 2758h0M2137 2752h0M2156 2757h0M2033 2756h0M2098 2751h0M2122 2753h0M2086 2756h0M2062 2759h0M2109 2756h0M2125 2745h0M2124 2753h0M2096 2756h0M2072 2753h0M2069 2758h0M2104 2751h0M2008 2758h0M2070 2757h0M2058 2750h0M2072 2753h0M2047 2758h0M2078 2757h0M2148 2750h0M2130 2757h0M2105 2746h0M2079 2757h0M2084 2759h0M2156 2759h0M2065 2758h0M2015 2754h0M2054 2757h0M2088 2758h0M2094 2757h0M2116 2751h0M2088 2758h0M2042 2752h0M2105 2746h0M2082 2757h0M2051 2750h0M2050 2749h0M2058 2750h0M2123 2746h0M2060 2758h0M2092 2755h0M2031 2752h0M2136 2751h0M2114 2748h0M2115 2749h0M2034 2750h0M2108 2749h0M2131 2753h0M2120 2753h0M2094 2754h0M2117 2756h0M2132 2745h0M2120 2746h0M2117 2755h0M2116 2746h0M2128 2753h0M2091 2756h0M2146 2754h0M2072 2751h0M2080 2758h0M2144 2756h0M2109 2756h0M2065 2752h0M2129 2746h0M2108 2748h0M2028 2746h0M2095 2752h0M2067 2758h0M2077 2757h0M2142 2754h0M2156 2757h0M2112 2750h0M2062 2755h0M2134 2754h0M2053 2757h0M2065 2755h0M2077 2755h0M2028 2757h0M2131 2752h0M2052 2754h0M2112 2754h0M2127 2752h0M2086 2757h0M2078 2758h0M2061 2756h0M2085 2757h0M2057 2747h0M2095 2758h0M2082 2758h0M2081 2757h0M2021 2751h0M2017 2747h0M2103 2758h0M2081 2756h0M2110 2749h0M2040 2758h0M2085 2757h0M2131 2753h0M2129 2750h0M2120 2747h0M2040 2756h0M2114 2752h0M2061 2754h0M2052 2755h0M2143 2749h0M2054 2753h0M2020 2754h0M2056 2750h0M2064 2751h0M2044 2752h0M2054 2747h0M2131 2758h0M2141 2753h0M2024 2751h0M2060 2759h0M2094 2756h0M2104 2755h0M2049 2759h0M2029 2752h0M2143 2755h0M2100 2752h0M2014 2754h0M2087 2757h0M2010 2756h0M2131 2751h0M2087 2758h0M2138 2756h0M2042 2747h0M2083 2758h0M2105 2758h0M2113 2747h0M2133 2745h0M2050 2757h0M2115 2753h0M2140 2748h0M2044 2754h0M2021 2750h0M2125 2749h0M2044 2752h0M2083 2758h0M2019 2756h0M2084 2758h0M2090 2756h0M2154 2747h0M2066 2757h0M2114 2748h0M2025 2756h0M2069 2754h0M2064 2754h0M2058 2753h0M2155 2753h0M2151 2747h0M2050 2755h0M2103 2751h0M2112 2752h0M2051 2750h0M2117 2745h0M2118 2750h0M2113 2747h0M2144 2751h0M2095 2754h0M2143 2748h0M2114 2748h0M2132 2748h0M2112 2757h0M2086 2757h0M2067 2750h0M2062 2754h0M2062 2753h0M2042 2748h0M2086 2757h0M2056 2747h0M2066 2752h0M2068 2749h0M2034 2756h0M2119 2756h0M2061 2752h0M2122 2753h0M2011 2749h0M2056 2756h0M2072 2758h0M2040 2757h0M2101 2756h0M2093 2755h0M2075 2757h0M2103 2758h0M2121 2747h0M2125 2747h0M2031 2751h0M2042 2752h0M2149 2751h0M2137 2746h0M2023 2748h0M2132 2750h0M2040 2753h0M2083 2759h0M2068 2756h0M2110 2752h0M2024 2755h0M2092 2755h0M2145 2754h0M2047 2749h0M2095 2754h0M2123 2753h0M2028 2751h0M2100 2753h0M2139 2750h0M2098 2757h0M2106 2746h0M2014 2746h0M2141 2748h0M2074 2755h0M2062 2750h0M2136 2757h0M2049 2750h0M2150 2754h0M2082 2758h0M2053 2745h0M2106 2748h0M2065 2750h0M2136 2758h0M2074 2758h0M2129 2749h0M2061 2752h0M2068 2756h0M2122 2758h0M2037 2756h0M2122 2750h0M2094 2752h0M2148 2753h0M2031 2749h0M2098 2755h0M2114 2746h0M2096 2756h0M2036 2750h0M2048 2756h0M2062 2746h0M2109 2757h0M2089 2756h0M2131 2755h0M2104 2747h0M2117 2757h0M2022 2747h0M2084 2758h0M2114 2746h0M2062 2755h0M2129 2754h0M2134 2754h0M2135 2753h0M2135 2757h0M2102 2752h0M2042 2756h0M2078 2755h0M2059 2756h0M2098 2751h0M2068 2757h0M2076 2754h0M2131 2753h0M2122 2746h0M2120 2754h0M2095 2753h0M2003 2747h0M2128 2756h0M2065 2752h0M2041 2756h0M2150 2752h0M2066 2755h0M2102 2755h0M2109 2754h0M2101 2757h0M2082 2758h0M2059 2754h0M2078 2758h0M2024 2755h0M2118 2757h0M2088 2756h0M2047 2748h0M2089 2758h0M2086 2758h0M2028 2755h0M2042 2749h0M2108 2752h0M2103 2756h0M2016 2757h0M2136 2753h0M2003 2748h0M2053 2752h0M2041 2748h0M2116 2753h0M2036 2758h0M2092 2756h0M2035 2754h0M2070 2755h0M2072 2757h0M2095 2755h0M2066 2758h0M2012 2753h0M2153 2757h0M2035 2754h0M2078 2757h0M2078 2755h0M2072 2754h0M2081 2757h0M2094 2756h0M2047 2752h0M2057 2756h0M2103 2752h0M2123 2745h0M2108 2757h0M2135 2746h0M2053 2750h0M2128 2750h0M2077 2755h0M2075 2755h0M2106 2747h0M2114 2749h0M2125 2757h0M2033 2751h0M2055 2749h0M2142 2753h0M2125 2750h0M2056 2758h0M2128 2757h0M2142 2751h0M2118 2749h0M2131 2754h0M2138 2755h0M2083 2758h0M2049 2748h0M2101 2756h0M2143 2746h0M2125 2755h0M2128 2755h0M2093 2758h0M2043 2749h0M2043 2745h0M2094 2753h0M2083 2758h0M2064 2747h0M2107 2746h0M2033 2758h0M2092 2757h0M2019 2754h0M2037 2758h0M2016 2746h0M2049 2759h0M2045 2754h0M2059 2755h0M2042 2749h0M2064 2752h0M2089 2756h0M2111 2755h0M2041 2746h0M2117 2747h0M2082 2758h0M2066 2748h0M2096 2752h0M2114 2746h0M2057 2753h0M2081 2757h0M2019 2756h0M2140 2758h0M2052 2756h0M2081 2757h0M2061 2747h0M2044 2753h0M2147 2748h0M2044 2755h0M2086 2756h0M2156 2745h0M2141 2755h0M2100 2750h0M2155 2751h0M2096 2756h0M2019 2746h0M2102 2754h0M2081 2757h0M2077 2755h0M2064 2748h0M2044 2747h0M2150 2749h0M2015 2749h0M2114 2748h0M2110 2746h0M2125 2749h0M2107 2746h0M2109 2746h0M2126 2747h0M2134 2747h0M2021 2748h0M2144 2748h0M2135 2746h0M2122 2747h0M2016 2748h0M2028 2747h0M2015 2747h0M2020 2748h0M2009 2747h0M2026 2745h0M2059 2746h0M2053 2746h0M2046 2747h0M2153 2746h0M2012 2747h0M2146 2746h0M2060 2749h0M2045 2746h0M2031 2746h0M2044 2746h0M2108 2748h0M2045 2747h0M2147 2748h0M2031 2747h0M2141 2748h0M2034 2747h0M2061 2746h0M2152 2745h0M2037 2748h0M2146 2749h0M2018 2749h0M2148 2747h0M2019 2746h0M2153 2746h0M2140 2747h0M2051 2749h0M2050 2749h0M2059 2749h0M2011 2746h0M2131 2746h0M2057 2747h0M2122 2748h0M2130 2748h0M2005 2748h0M2136 2749h0M2024 2748h0M2020 2747h0M2062 2746h0M2131 2748h0M2118 2746h0M2115 2746h0M2045 2747h0M2111 2747h0M2138 2748h0" stroke="#BEBEBE" stroke-width="11.5" stroke-linecap="round" fill="none"/>
<line x1="1891.4" y1="2532.3" x2="1891.4" y2="2783.5" stroke="#000" stroke-width="6"/>
<line x1="1888.4" y1="2780.5" x2="2239.4" y2="2780.5" stroke="#000" stroke-width="6"/>
<line x1="1882.9" y1="2758.6" x2="1891.4" y2="2758.6" stroke="#333" stroke-width="4.5"/>
<text x="1874.5" y="2767.2" font-size="24" font-weight="bold" text-anchor="end" fill="#4d4d4d">0</text>
<line x1="1882.9" y1="2656.1" x2="1891.4" y2="2656.1" stroke="#333" stroke-width="4.5"/>
<text x="1874.5" y="2664.7" font-size="24" font-weight="bold" text-anchor="end" fill="#4d4d4d">10</text>
<line x1="1882.9" y1="2552.3" x2="1891.4" y2="2552.3" stroke="#333" stroke-width="4.5"/>
<text x="1874.5" y="2560.9" font-size="24" font-weight="bold" text-anchor="end" fill="#4d4d4d">20</text>
<line x1="1914.5" y1="2780.5" x2="1914.5" y2="2788.5" stroke="#333" stroke-width="4.5"/>
<text x="1918.5" y="2813.3" font-size="29.5" font-weight="bold" text-anchor="middle" fill="#4d4d4d">−6</text>
<line x1="1998.6" y1="2780.5" x2="1998.6" y2="2788.5" stroke="#333" stroke-width="4.5"/>
<text x="1999.4" y="2813.3" font-size="29.5" font-weight="bold" text-anchor="middle" fill="#4d4d4d">−3</text>
<line x1="2083.3" y1="2780.5" x2="2083.3" y2="2788.5" stroke="#333" stroke-width="4.5"/>
<text x="2083.7" y="2813.3" font-size="29.5" font-weight="bold" text-anchor="middle" fill="#4d4d4d">0</text>
<line x1="2167.9" y1="2780.5" x2="2167.9" y2="2788.5" stroke="#333" stroke-width="4.5"/>
<text x="2169.0" y="2813.3" font-size="29.5" font-weight="bold" text-anchor="middle" fill="#4d4d4d">3</text>
<text x="2066.3" y="2838.4" font-size="33.6" text-anchor="middle">avg_log2FC</text>
<text x="1837.0" y="2649.6" font-size="32.5" text-anchor="middle" transform="rotate(-90 1837.0 2649.6)" letter-spacing="1.5">Log<tspan font-size="21.5" dy="5">10</tspan><tspan dy="-5" font-style="italic">p_val_adj</tspan></text>
<line x1="2143.3" y1="2561.6" x2="2132.5" y2="2575.4" stroke="#000" stroke-width="2.6"/>
<line x1="2111.0" y1="2743.8" x2="2147.9" y2="2743.8" stroke="#000" stroke-width="2.6"/>
<rect x="2143.3" y="2543.1" width="94.8" height="18.5" rx="5" fill="#fff" stroke="#000" stroke-width="1.8"/>
<text x="2190.7" y="2559.4" font-size="20" text-anchor="middle">ALOX5AP</text>
<rect x="2161.8" y="2734.9" width="76.3" height="19.1" rx="5" fill="#fff" stroke="#000" stroke-width="1.8"/>
<text x="2199.9" y="2751.5" font-size="20" text-anchor="middle">NFKBIZ</text>
<clipPath id="cl368"><rect x="0" y="2800" width="2422" height="583"/></clipPath><g clip-path="url(#cl368)">
<g stroke="#3A62B6" stroke-width="3" stroke-opacity="0.37" fill="none">
<path d="M627 3123L605 3018M627 3123L541 2931M627 3123L448 2877M627 3123L341 2866M627 3123L239 2899M627 3123L159 2971M627 3123L115 3070M627 3123L115 3177M627 3123L159 3276M627 3123L239 3348M627 3123L341 3381M627 3123L448 3370M627 3123L541 3316M627 3123L605 3229M627 3123L498 3123M627 3123L473 3047M627 3123L408 3000M627 3123L328 3000M627 3123L264 3047M627 3123L239 3123M627 3123L264 3199M627 3123L328 3246M627 3123L408 3246M627 3123L473 3199"/>
<path d="M605 3018L541 2931M605 3018L448 2877M605 3018L341 2866M605 3018L239 2899M605 3018L159 2971M605 3018L115 3070M605 3018L115 3177M605 3018L159 3276M605 3018L239 3348M605 3018L341 3381M605 3018L448 3370M605 3018L541 3316M605 3018L605 3229M605 3018L498 3123M605 3018L473 3047M605 3018L408 3000M605 3018L328 3000M605 3018L264 3047M605 3018L239 3123M605 3018L264 3199M605 3018L328 3246M605 3018L408 3246M605 3018L473 3199"/>
<path d="M541 2931L448 2877M541 2931L341 2866M541 2931L239 2899M541 2931L159 2971M541 2931L115 3070M541 2931L115 3177M541 2931L159 3276M541 2931L239 3348M541 2931L341 3381M541 2931L448 3370M541 2931L541 3316M541 2931L605 3229M541 2931L498 3123M541 2931L473 3047M541 2931L408 3000M541 2931L328 3000M541 2931L264 3047M541 2931L239 3123M541 2931L264 3199M541 2931L328 3246M541 2931L408 3246M541 2931L473 3199"/>
<path d="M448 2877L341 2866M448 2877L239 2899M448 2877L159 2971M448 2877L115 3070M448 2877L115 3177M448 2877L159 3276M448 2877L239 3348M448 2877L341 3381M448 2877L448 3370M448 2877L541 3316M448 2877L605 3229M448 2877L498 3123M448 2877L473 3047M448 2877L408 3000M448 2877L328 3000M448 2877L264 3047M448 2877L239 3123M448 2877L264 3199M448 2877L328 3246M448 2877L408 3246M448 2877L473 3199"/>
<path d="M341 2866L239 2899M341 2866L159 2971M341 2866L115 3070M341 2866L115 3177M341 2866L159 3276M341 2866L239 3348M341 2866L341 3381M341 2866L448 3370M341 2866L541 3316M341 2866L605 3229M341 2866L498 3123M341 2866L473 3047M341 2866L408 3000M341 2866L328 3000M341 2866L264 3047M341 2866L239 3123M341 2866L264 3199M341 2866L328 3246M341 2866L408 3246M341 2866L473 3199"/>
<path d="M239 2899L159 2971M239 2899L115 3070M239 2899L115 3177M239 2899L159 3276M239 2899L239 3348M239 2899L341 3381M239 2899L448 3370M239 2899L541 3316M239 2899L605 3229M239 2899L498 3123M239 2899L473 3047M239 2899L408 3000M239 2899L328 3000M239 2899L264 3047M239 2899L239 3123M239 2899L264 3199M239 2899L328 3246M239 2899L408 3246M239 2899L473 3199"/>
<path d="M159 2971L115 3070M159 2971L115 3177M159 2971L159 3276M159 2971L239 3348M159 2971L341 3381M159 2971L448 3370M159 2971L541 3316M159 2971L605 3229M159 2971L498 3123M159 2971L473 3047M159 2971L408 3000M159 2971L328 3000M159 2971L264 3047M159 2971L239 3123M159 2971L264 3199M159 2971L328 3246M159 2971L408 3246M159 2971L473 3199"/>
<path d="M115 3070L115 3177M115 3070L159 3276M115 3070L239 3348M115 3070L341 3381M115 3070L448 3370M115 3070L541 3316M115 3070L605 3229M115 3070L498 3123M115 3070L473 3047M115 3070L408 3000M115 3070L328 3000M115 3070L264 3047M115 3070L239 3123M115 3070L264 3199M115 3070L328 3246M115 3070L408 3246M115 3070L473 3199"/>
<path d="M115 3177L159 3276M115 3177L239 3348M115 3177L341 3381M115 3177L448 3370M115 3177L541 3316M115 3177L605 3229M115 3177L498 3123M115 3177L473 3047M115 3177L408 3000M115 3177L328 3000M115 3177L264 3047M115 3177L239 3123M115 3177L264 3199M115 3177L328 3246M115 3177L408 3246M115 3177L473 3199"/>
<path d="M159 3276L239 3348M159 3276L341 3381M159 3276L448 3370M159 3276L541 3316M159 3276L605 3229M159 3276L498 3123M159 3276L473 3047M159 3276L408 3000M159 3276L328 3000M159 3276L264 3047M159 3276L239 3123M159 3276L264 3199M159 3276L328 3246M159 3276L408 3246M159 3276L473 3199"/>
<path d="M239 3348L341 3381M239 3348L448 3370M239 3348L541 3316M239 3348L605 3229M239 3348L498 3123M239 3348L473 3047M239 3348L408 3000M239 3348L328 3000M239 3348L264 3047M239 3348L239 3123M239 3348L264 3199M239 3348L328 3246M239 3348L408 3246M239 3348L473 3199"/>
<path d="M341 3381L448 3370M341 3381L541 3316M341 3381L605 3229M341 3381L498 3123M341 3381L473 3047M341 3381L408 3000M341 3381L328 3000M341 3381L264 3047M341 3381L239 3123M341 3381L264 3199M341 3381L328 3246M341 3381L408 3246M341 3381L473 3199"/>
<path d="M448 3370L541 3316M448 3370L605 3229M448 3370L498 3123M448 3370L473 3047M448 3370L408 3000M448 3370L328 3000M448 3370L264 3047M448 3370L239 3123M448 3370L264 3199M448 3370L328 3246M448 3370L408 3246M448 3370L473 3199"/>
<path d="M541 3316L605 3229M541 3316L498 3123M541 3316L473 3047M541 3316L408 3000M541 3316L328 3000M541 3316L264 3047M541 3316L239 3123M541 3316L264 3199M541 3316L328 3246M541 3316L408 3246M541 3316L473 3199"/>
<path d="M605 3229L498 3123M605 3229L473 3047M605 3229L408 3000M605 3229L328 3000M605 3229L264 3047M605 3229L239 3123M605 3229L264 3199M605 3229L328 3246M605 3229L408 3246M605 3229L473 3199"/>
<path d="M498 3123L473 3047M498 3123L408 3000M498 3123L328 3000M498 3123L264 3047M498 3123L239 3123M498 3123L264 3199M498 3123L328 3246M498 3123L408 3246M498 3123L473 3199"/>
<path d="M473 3047L408 3000M473 3047L328 3000M473 3047L264 3047M473 3047L239 3123M473 3047L264 3199M473 3047L328 3246M473 3047L408 3246M473 3047L473 3199"/>
<path d="M408 3000L328 3000M408 3000L264 3047M408 3000L239 3123M408 3000L264 3199M408 3000L328 3246M408 3000L408 3246M408 3000L473 3199"/>
<path d="M328 3000L264 3047M328 3000L239 3123M328 3000L264 3199M328 3000L328 3246M328 3000L408 3246M328 3000L473 3199"/>
<path d="M264 3047L239 3123M264 3047L264 3199M264 3047L328 3246M264 3047L408 3246M264 3047L473 3199"/>
<path d="M239 3123L264 3199M239 3123L328 3246M239 3123L408 3246M239 3123L473 3199"/>
<path d="M264 3199L328 3246M264 3199L408 3246M264 3199L473 3199"/>
<path d="M328 3246L408 3246M328 3246L473 3199"/>
<path d="M408 3246L473 3199"/>
</g>
<circle cx="627.1" cy="3123.4" r="7.7" fill="#1F4FAF" stroke="#000" stroke-width="2.8"/>
<circle cx="604.7" cy="3018.1" r="7.7" fill="#1F4FAF" stroke="#000" stroke-width="2.8"/>
<circle cx="541.5" cy="2931.1" r="7.7" fill="#1F4FAF" stroke="#000" stroke-width="2.8"/>
<circle cx="448.3" cy="2877.3" r="7.7" fill="#1F4FAF" stroke="#000" stroke-width="2.8"/>
<circle cx="341.2" cy="2866.0" r="7.7" fill="#1F4FAF" stroke="#000" stroke-width="2.8"/>
<circle cx="238.9" cy="2899.3" r="7.7" fill="#1F4FAF" stroke="#000" stroke-width="2.8"/>
<circle cx="158.9" cy="2971.3" r="7.7" fill="#1F4FAF" stroke="#000" stroke-width="2.8"/>
<circle cx="115.2" cy="3069.6" r="7.7" fill="#1F4FAF" stroke="#000" stroke-width="2.8"/>
<circle cx="115.2" cy="3177.2" r="7.7" fill="#1F4FAF" stroke="#000" stroke-width="2.8"/>
<circle cx="158.9" cy="3275.5" r="7.7" fill="#1F4FAF" stroke="#000" stroke-width="2.8"/>
<circle cx="238.9" cy="3347.5" r="7.7" fill="#1F4FAF" stroke="#000" stroke-width="2.8"/>
<circle cx="341.2" cy="3380.8" r="7.7" fill="#1F4FAF" stroke="#000" stroke-width="2.8"/>
<circle cx="448.3" cy="3369.5" r="7.7" fill="#1F4FAF" stroke="#000" stroke-width="2.8"/>
<circle cx="541.5" cy="3315.7" r="7.7" fill="#1F4FAF" stroke="#000" stroke-width="2.8"/>
<circle cx="604.7" cy="3228.7" r="7.7" fill="#1F4FAF" stroke="#000" stroke-width="2.8"/>
<circle cx="497.6" cy="3123.4" r="7.7" fill="#1F4FAF" stroke="#000" stroke-width="2.8"/>
<circle cx="472.9" cy="3047.4" r="7.7" fill="#1F4FAF" stroke="#000" stroke-width="2.8"/>
<circle cx="408.3" cy="3000.4" r="7.7" fill="#1F4FAF" stroke="#000" stroke-width="2.8"/>
<circle cx="328.3" cy="3000.4" r="7.7" fill="#1F4FAF" stroke="#000" stroke-width="2.8"/>
<circle cx="263.7" cy="3047.4" r="7.7" fill="#1F4FAF" stroke="#000" stroke-width="2.8"/>
<circle cx="239.0" cy="3123.4" r="7.7" fill="#1F4FAF" stroke="#000" stroke-width="2.8"/>
<circle cx="263.7" cy="3199.4" r="7.7" fill="#1F4FAF" stroke="#000" stroke-width="2.8"/>
<circle cx="328.3" cy="3246.4" r="7.7" fill="#1F4FAF" stroke="#000" stroke-width="2.8"/>
<circle cx="408.3" cy="3246.4" r="7.7" fill="#1F4FAF" stroke="#000" stroke-width="2.8"/>
<circle cx="472.9" cy="3199.4" r="7.7" fill="#1F4FAF" stroke="#000" stroke-width="2.8"/>
</g>
<text x="316.6" y="2894.5" font-size="26.3" font-style="italic">Srgn</text>
<text x="219.1" y="2890.6" font-size="26.3" font-style="italic">Gngt2</text>
<text x="400.6" y="2905.7" font-size="26.3" font-style="italic">Csrnp1</text>
<text x="516.6" y="2925.1" font-size="26.3" font-style="italic">Cxcl16</text>
<text x="119.1" y="2960.4" font-size="30.5" font-style="italic" fill="#E60F1E">Cd14</text>
<text x="295.9" y="2979.8" font-size="26.3" font-style="italic">Pim1</text>
<text x="406.6" y="2979.8" font-size="26.3" font-style="italic">Atox1</text>
<text x="581.6" y="3009.1" font-size="26.3" font-style="italic">Dusp2</text>
<text x="464.0" y="3026.4" font-size="26.3" font-style="italic">Junb</text>
<text x="187.2" y="3035.9" font-size="26.3" font-style="italic">Cdkn1a</text>
<text x="96.7" y="3059.6" font-size="26.3" font-style="italic">Glipr1</text>
<text x="489.0" y="3104.8" font-size="26.3" font-style="italic">Nfkbia</text>
<text x="604.9" y="3112.6" font-size="26.3" font-style="italic">Basp1</text>
<text x="176.5" y="3113.4" font-size="26.3" font-style="italic">Fxyd5</text>
<text x="104.1" y="3169.5" font-size="26.3" font-style="italic">F11r</text>
<text x="189.4" y="3192.3" font-size="26.3" font-style="italic">Nr4a1</text>
<text x="476.9" y="3227.7" font-size="30.5" font-style="italic" fill="#E60F1E">Phlda1</text>
<text x="583.8" y="3220.3" font-size="26.3" font-style="italic">Socs3</text>
<text x="148.4" y="3263.4" font-size="26.3" font-style="italic">Btg2</text>
<text x="295.9" y="3279.4" font-size="26.3" font-style="italic">Btg1</text>
<text x="400.6" y="3273.8" font-size="26.3" font-style="italic">Lsp1</text>
<text x="511.4" y="3306.6" font-size="26.3" font-style="italic">Tmsb4x</text>
<text x="231.2" y="3338.4" font-size="26.3" font-style="italic">Cd9</text>
<text x="433.8" y="3360.4" font-size="26.3" font-style="italic">Ccrl2</text>
<text x="330.3" y="3372.1" font-size="26.3" font-style="italic">Fth1</text>
<g stroke="#5FC0B8" stroke-width="3" stroke-opacity="0.37" fill="none">
<path d="M1487 3112L1465 3009M1487 3112L1402 2923M1487 3112L1311 2870M1487 3112L1205 2859M1487 3112L1105 2892M1487 3112L1026 2963M1487 3112L983 3060M1487 3112L983 3165M1487 3112L1026 3262M1487 3112L1105 3333M1487 3112L1205 3366M1487 3112L1311 3355M1487 3112L1402 3302M1487 3112L1465 3216M1487 3112L1359 3112M1487 3112L1335 3038M1487 3112L1271 2992M1487 3112L1193 2992M1487 3112L1129 3038M1487 3112L1105 3112M1487 3112L1129 3187M1487 3112L1193 3233M1487 3112L1271 3233M1487 3112L1335 3187"/>
<path d="M1465 3009L1402 2923M1465 3009L1311 2870M1465 3009L1205 2859M1465 3009L1105 2892M1465 3009L1026 2963M1465 3009L983 3060M1465 3009L983 3165M1465 3009L1026 3262M1465 3009L1105 3333M1465 3009L1205 3366M1465 3009L1311 3355M1465 3009L1402 3302M1465 3009L1465 3216M1465 3009L1359 3112M1465 3009L1335 3038M1465 3009L1271 2992M1465 3009L1193 2992M1465 3009L1129 3038M1465 3009L1105 3112M1465 3009L1129 3187M1465 3009L1193 3233M1465 3009L1271 3233M1465 3009L1335 3187"/>
<path d="M1402 2923L1311 2870M1402 2923L1205 2859M1402 2923L1105 2892M1402 2923L1026 2963M1402 2923L983 3060M1402 2923L983 3165M1402 2923L1026 3262M1402 2923L1105 3333M1402 2923L1205 3366M1402 2923L1311 3355M1402 2923L1402 3302M1402 2923L1465 3216M1402 2923L1359 3112M1402 2923L1335 3038M1402 2923L1271 2992M1402 2923L1193 2992M1402 2923L1129 3038M1402 2923L1105 3112M1402 2923L1129 3187M1402 2923L1193 3233M1402 2923L1271 3233M1402 2923L1335 3187"/>
<path d="M1311 2870L1205 2859M1311 2870L1105 2892M1311 2870L1026 2963M1311 2870L983 3060M1311 2870L983 3165M1311 2870L1026 3262M1311 2870L1105 3333M1311 2870L1205 3366M1311 2870L1311 3355M1311 2870L1402 3302M1311 2870L1465 3216M1311 2870L1359 3112M1311 2870L1335 3038M1311 2870L1271 2992M1311 2870L1193 2992M1311 2870L1129 3038M1311 2870L1105 3112M1311 2870L1129 3187M1311 2870L1193 3233M1311 2870L1271 3233M1311 2870L1335 3187"/>
<path d="M1205 2859L1105 2892M1205 2859L1026 2963M1205 2859L983 3060M1205 2859L983 3165M1205 2859L1026 3262M1205 2859L1105 3333M1205 2859L1205 3366M1205 2859L1311 3355M1205 2859L1402 3302M1205 2859L1465 3216M1205 2859L1359 3112M1205 2859L1335 3038M1205 2859L1271 2992M1205 2859L1193 2992M1205 2859L1129 3038M1205 2859L1105 3112M1205 2859L1129 3187M1205 2859L1193 3233M1205 2859L1271 3233M1205 2859L1335 3187"/>
<path d="M1105 2892L1026 2963M1105 2892L983 3060M1105 2892L983 3165M1105 2892L1026 3262M1105 2892L1105 3333M1105 2892L1205 3366M1105 2892L1311 3355M1105 2892L1402 3302M1105 2892L1465 3216M1105 2892L1359 3112M1105 2892L1335 3038M1105 2892L1271 2992M1105 2892L1193 2992M1105 2892L1129 3038M1105 2892L1105 3112M1105 2892L1129 3187M1105 2892L1193 3233M1105 2892L1271 3233M1105 2892L1335 3187"/>
<path d="M1026 2963L983 3060M1026 2963L983 3165M1026 2963L1026 3262M1026 2963L1105 3333M1026 2963L1205 3366M1026 2963L1311 3355M1026 2963L1402 3302M1026 2963L1465 3216M1026 2963L1359 3112M1026 2963L1335 3038M1026 2963L1271 2992M1026 2963L1193 2992M1026 2963L1129 3038M1026 2963L1105 3112M1026 2963L1129 3187M1026 2963L1193 3233M1026 2963L1271 3233M1026 2963L1335 3187"/>
<path d="M983 3060L983 3165M983 3060L1026 3262M983 3060L1105 3333M983 3060L1205 3366M983 3060L1311 3355M983 3060L1402 3302M983 3060L1465 3216M983 3060L1359 3112M983 3060L1335 3038M983 3060L1271 2992M983 3060L1193 2992M983 3060L1129 3038M983 3060L1105 3112M983 3060L1129 3187M983 3060L1193 3233M983 3060L1271 3233M983 3060L1335 3187"/>
<path d="M983 3165L1026 3262M983 3165L1105 3333M983 3165L1205 3366M983 3165L1311 3355M983 3165L1402 3302M983 3165L1465 3216M983 3165L1359 3112M983 3165L1335 3038M983 3165L1271 2992M983 3165L1193 2992M983 3165L1129 3038M983 3165L1105 3112M983 3165L1129 3187M983 3165L1193 3233M983 3165L1271 3233M983 3165L1335 3187"/>
<path d="M1026 3262L1105 3333M1026 3262L1205 3366M1026 3262L1311 3355M1026 3262L1402 3302M1026 3262L1465 3216M1026 3262L1359 3112M1026 3262L1335 3038M1026 3262L1271 2992M1026 3262L1193 2992M1026 3262L1129 3038M1026 3262L1105 3112M1026 3262L1129 3187M1026 3262L1193 3233M1026 3262L1271 3233M1026 3262L1335 3187"/>
<path d="M1105 3333L1205 3366M1105 3333L1311 3355M1105 3333L1402 3302M1105 3333L1465 3216M1105 3333L1359 3112M1105 3333L1335 3038M1105 3333L1271 2992M1105 3333L1193 2992M1105 3333L1129 3038M1105 3333L1105 3112M1105 3333L1129 3187M1105 3333L1193 3233M1105 3333L1271 3233M1105 3333L1335 3187"/>
<path d="M1205 3366L1311 3355M1205 3366L1402 3302M1205 3366L1465 3216M1205 3366L1359 3112M1205 3366L1335 3038M1205 3366L1271 2992M1205 3366L1193 2992M1205 3366L1129 3038M1205 3366L1105 3112M1205 3366L1129 3187M1205 3366L1193 3233M1205 3366L1271 3233M1205 3366L1335 3187"/>
<path d="M1311 3355L1402 3302M1311 3355L1465 3216M1311 3355L1359 3112M1311 3355L1335 3038M1311 3355L1271 2992M1311 3355L1193 2992M1311 3355L1129 3038M1311 3355L1105 3112M1311 3355L1129 3187M1311 3355L1193 3233M1311 3355L1271 3233M1311 3355L1335 3187"/>
<path d="M1402 3302L1465 3216M1402 3302L1359 3112M1402 3302L1335 3038M1402 3302L1271 2992M1402 3302L1193 2992M1402 3302L1129 3038M1402 3302L1105 3112M1402 3302L1129 3187M1402 3302L1193 3233M1402 3302L1271 3233M1402 3302L1335 3187"/>
<path d="M1465 3216L1359 3112M1465 3216L1335 3038M1465 3216L1271 2992M1465 3216L1193 2992M1465 3216L1129 3038M1465 3216L1105 3112M1465 3216L1129 3187M1465 3216L1193 3233M1465 3216L1271 3233M1465 3216L1335 3187"/>
<path d="M1359 3112L1335 3038M1359 3112L1271 2992M1359 3112L1193 2992M1359 3112L1129 3038M1359 3112L1105 3112M1359 3112L1129 3187M1359 3112L1193 3233M1359 3112L1271 3233M1359 3112L1335 3187"/>
<path d="M1335 3038L1271 2992M1335 3038L1193 2992M1335 3038L1129 3038M1335 3038L1105 3112M1335 3038L1129 3187M1335 3038L1193 3233M1335 3038L1271 3233M1335 3038L1335 3187"/>
<path d="M1271 2992L1193 2992M1271 2992L1129 3038M1271 2992L1105 3112M1271 2992L1129 3187M1271 2992L1193 3233M1271 2992L1271 3233M1271 2992L1335 3187"/>
<path d="M1193 2992L1129 3038M1193 2992L1105 3112M1193 2992L1129 3187M1193 2992L1193 3233M1193 2992L1271 3233M1193 2992L1335 3187"/>
<path d="M1129 3038L1105 3112M1129 3038L1129 3187M1129 3038L1193 3233M1129 3038L1271 3233M1129 3038L1335 3187"/>
<path d="M1105 3112L1129 3187M1105 3112L1193 3233M1105 3112L1271 3233M1105 3112L1335 3187"/>
<path d="M1129 3187L1193 3233M1129 3187L1271 3233M1129 3187L1335 3187"/>
<path d="M1193 3233L1271 3233M1193 3233L1335 3187"/>
<path d="M1271 3233L1335 3187"/>
</g>
<circle cx="1486.6" cy="3112.5" r="7.7" fill="#5FC0B8" stroke="#000" stroke-width="2.8"/>
<circle cx="1464.6" cy="3008.9" r="7.7" fill="#5FC0B8" stroke="#000" stroke-width="2.8"/>
<circle cx="1402.3" cy="2923.2" r="7.7" fill="#5FC0B8" stroke="#000" stroke-width="2.8"/>
<circle cx="1310.6" cy="2870.3" r="7.7" fill="#5FC0B8" stroke="#000" stroke-width="2.8"/>
<circle cx="1205.3" cy="2859.2" r="7.7" fill="#5FC0B8" stroke="#000" stroke-width="2.8"/>
<circle cx="1104.6" cy="2891.9" r="7.7" fill="#5FC0B8" stroke="#000" stroke-width="2.8"/>
<circle cx="1025.8" cy="2962.8" r="7.7" fill="#5FC0B8" stroke="#000" stroke-width="2.8"/>
<circle cx="982.8" cy="3059.5" r="7.7" fill="#5FC0B8" stroke="#000" stroke-width="2.8"/>
<circle cx="982.8" cy="3165.5" r="7.7" fill="#5FC0B8" stroke="#000" stroke-width="2.8"/>
<circle cx="1025.8" cy="3262.2" r="7.7" fill="#5FC0B8" stroke="#000" stroke-width="2.8"/>
<circle cx="1104.5" cy="3333.1" r="7.7" fill="#5FC0B8" stroke="#000" stroke-width="2.8"/>
<circle cx="1205.3" cy="3365.8" r="7.7" fill="#5FC0B8" stroke="#000" stroke-width="2.8"/>
<circle cx="1310.6" cy="3354.7" r="7.7" fill="#5FC0B8" stroke="#000" stroke-width="2.8"/>
<circle cx="1402.3" cy="3301.8" r="7.7" fill="#5FC0B8" stroke="#000" stroke-width="2.8"/>
<circle cx="1464.6" cy="3216.1" r="7.7" fill="#5FC0B8" stroke="#000" stroke-width="2.8"/>
<circle cx="1359.1" cy="3112.5" r="7.7" fill="#5FC0B8" stroke="#000" stroke-width="2.8"/>
<circle cx="1334.8" cy="3037.7" r="7.7" fill="#5FC0B8" stroke="#000" stroke-width="2.8"/>
<circle cx="1271.2" cy="2991.5" r="7.7" fill="#5FC0B8" stroke="#000" stroke-width="2.8"/>
<circle cx="1192.6" cy="2991.5" r="7.7" fill="#5FC0B8" stroke="#000" stroke-width="2.8"/>
<circle cx="1129.0" cy="3037.7" r="7.7" fill="#5FC0B8" stroke="#000" stroke-width="2.8"/>
<circle cx="1104.7" cy="3112.5" r="7.7" fill="#5FC0B8" stroke="#000" stroke-width="2.8"/>
<circle cx="1129.0" cy="3187.3" r="7.7" fill="#5FC0B8" stroke="#000" stroke-width="2.8"/>
<circle cx="1192.6" cy="3233.5" r="7.7" fill="#5FC0B8" stroke="#000" stroke-width="2.8"/>
<circle cx="1271.2" cy="3233.5" r="7.7" fill="#5FC0B8" stroke="#000" stroke-width="2.8"/>
<circle cx="1334.8" cy="3187.3" r="7.7" fill="#5FC0B8" stroke="#000" stroke-width="2.8"/>
<text x="1043.5" y="2881.9" font-size="30.5" font-style="italic" fill="#E60F1E">Hmox1</text>
<text x="1198.7" y="2889.7" font-size="26.3" font-style="italic">Trf</text>
<text x="1300.0" y="2902.2" font-size="26.3" font-style="italic">Grn</text>
<text x="1387.1" y="2915.5" font-size="26.3" font-style="italic">Apoe</text>
<text x="980.6" y="2955.2" font-size="26.3" font-style="italic">Serpinb6a</text>
<text x="1153.4" y="2974.6" font-size="26.3" font-style="italic">Gas6</text>
<text x="1252.6" y="2980.2" font-size="30.5" font-style="italic" fill="#E60F1E">Selenop</text>
<text x="1431.0" y="2990.9" font-size="26.3" font-style="italic">Blvrb</text>
<text x="1092.7" y="3021.1" font-size="26.3" font-style="italic">Pltp</text>
<text x="1332.3" y="3023.3" font-size="26.3" font-style="italic">F13a1</text>
<text x="977.6" y="3054.3" font-size="26.3" font-style="italic">Cfh</text>
<text x="1063.8" y="3103.9" font-size="30.5" font-style="italic" fill="#E60F1E">Maf</text>
<text x="1298.7" y="3106.0" font-size="30.5" font-style="italic" fill="#E60F1E">Lyve1</text>
<text x="1375.4" y="3123.3" font-size="26.3" font-style="italic">Cbr2</text>
<text x="962.5" y="3156.9" font-size="26.3" font-style="italic">Igfbp4</text>
<text x="1421.6" y="3197.4" font-size="26.3" font-style="italic">Ifi27l2a</text>
<text x="1072.4" y="3219.0" font-size="26.3" font-style="italic">Ninj1</text>
<text x="1331.0" y="3218.1" font-size="26.3" font-style="italic">Timp2</text>
<text x="975.4" y="3248.3" font-size="30.5" font-style="italic" fill="#E60F1E">Lgmn</text>
<text x="1161.6" y="3262.5" font-size="26.3" font-style="italic">C4b</text>
<text x="1263.4" y="3265.5" font-size="30.5" font-style="italic" fill="#E60F1E">Ctsb</text>
<text x="1378.4" y="3285.8" font-size="26.3" font-style="italic">Serinc3</text>
<text x="1078.0" y="3323.7" font-size="26.3" font-style="italic">Pmp22</text>
<text x="1306.5" y="3336.6" font-size="26.3" font-style="italic">Ccl9</text>
<text x="1206.0" y="3356.0" font-size="26.3" font-style="italic">Glul</text>
<g stroke="#5FC0B8" stroke-width="3" stroke-opacity="0.37" fill="none">
<path d="M2285 3120L2264 3018M2285 3120L2202 2933M2285 3120L2112 2881M2285 3120L2008 2870M2285 3120L1908 2902M2285 3120L1831 2972M2285 3120L1788 3068M2285 3120L1788 3172M2285 3120L1831 3268M2285 3120L1908 3337M2285 3120L2008 3370M2285 3120L2112 3359M2285 3120L2202 3307M2285 3120L2264 3222M2285 3120L2160 3120M2285 3120L2136 3046M2285 3120L2073 3001M2285 3120L1995 3001M2285 3120L1933 3046M2285 3120L1909 3120M2285 3120L1933 3194M2285 3120L1995 3239M2285 3120L2073 3239M2285 3120L2136 3194"/>
<path d="M2264 3018L2202 2933M2264 3018L2112 2881M2264 3018L2008 2870M2264 3018L1908 2902M2264 3018L1831 2972M2264 3018L1788 3068M2264 3018L1788 3172M2264 3018L1831 3268M2264 3018L1908 3337M2264 3018L2008 3370M2264 3018L2112 3359M2264 3018L2202 3307M2264 3018L2264 3222M2264 3018L2160 3120M2264 3018L2136 3046M2264 3018L2073 3001M2264 3018L1995 3001M2264 3018L1933 3046M2264 3018L1909 3120M2264 3018L1933 3194M2264 3018L1995 3239M2264 3018L2073 3239M2264 3018L2136 3194"/>
<path d="M2202 2933L2112 2881M2202 2933L2008 2870M2202 2933L1908 2902M2202 2933L1831 2972M2202 2933L1788 3068M2202 2933L1788 3172M2202 2933L1831 3268M2202 2933L1908 3337M2202 2933L2008 3370M2202 2933L2112 3359M2202 2933L2202 3307M2202 2933L2264 3222M2202 2933L2160 3120M2202 2933L2136 3046M2202 2933L2073 3001M2202 2933L1995 3001M2202 2933L1933 3046M2202 2933L1909 3120M2202 2933L1933 3194M2202 2933L1995 3239M2202 2933L2073 3239M2202 2933L2136 3194"/>
<path d="M2112 2881L2008 2870M2112 2881L1908 2902M2112 2881L1831 2972M2112 2881L1788 3068M2112 2881L1788 3172M2112 2881L1831 3268M2112 2881L1908 3337M2112 2881L2008 3370M2112 2881L2112 3359M2112 2881L2202 3307M2112 2881L2264 3222M2112 2881L2160 3120M2112 2881L2136 3046M2112 2881L2073 3001M2112 2881L1995 3001M2112 2881L1933 3046M2112 2881L1909 3120M2112 2881L1933 3194M2112 2881L1995 3239M2112 2881L2073 3239M2112 2881L2136 3194"/>
<path d="M2008 2870L1908 2902M2008 2870L1831 2972M2008 2870L1788 3068M2008 2870L1788 3172M2008 2870L1831 3268M2008 2870L1908 3337M2008 2870L2008 3370M2008 2870L2112 3359M2008 2870L2202 3307M2008 2870L2264 3222M2008 2870L2160 3120M2008 2870L2136 3046M2008 2870L2073 3001M2008 2870L1995 3001M2008 2870L1933 3046M2008 2870L1909 3120M2008 2870L1933 3194M2008 2870L1995 3239M2008 2870L2073 3239M2008 2870L2136 3194"/>
<path d="M1908 2902L1831 2972M1908 2902L1788 3068M1908 2902L1788 3172M1908 2902L1831 3268M1908 2902L1908 3337M1908 2902L2008 3370M1908 2902L2112 3359M1908 2902L2202 3307M1908 2902L2264 3222M1908 2902L2160 3120M1908 2902L2136 3046M1908 2902L2073 3001M1908 2902L1995 3001M1908 2902L1933 3046M1908 2902L1909 3120M1908 2902L1933 3194M1908 2902L1995 3239M1908 2902L2073 3239M1908 2902L2136 3194"/>
<path d="M1831 2972L1788 3068M1831 2972L1788 3172M1831 2972L1831 3268M1831 2972L1908 3337M1831 2972L2008 3370M1831 2972L2112 3359M1831 2972L2202 3307M1831 2972L2264 3222M1831 2972L2160 3120M1831 2972L2136 3046M1831 2972L2073 3001M1831 2972L1995 3001M1831 2972L1933 3046M1831 2972L1909 3120M1831 2972L1933 3194M1831 2972L1995 3239M1831 2972L2073 3239M1831 2972L2136 3194"/>
<path d="M1788 3068L1788 3172M1788 3068L1831 3268M1788 3068L1908 3337M1788 3068L2008 3370M1788 3068L2112 3359M1788 3068L2202 3307M1788 3068L2264 3222M1788 3068L2160 3120M1788 3068L2136 3046M1788 3068L2073 3001M1788 3068L1995 3001M1788 3068L1933 3046M1788 3068L1909 3120M1788 3068L1933 3194M1788 3068L1995 3239M1788 3068L2073 3239M1788 3068L2136 3194"/>
<path d="M1788 3172L1831 3268M1788 3172L1908 3337M1788 3172L2008 3370M1788 3172L2112 3359M1788 3172L2202 3307M1788 3172L2264 3222M1788 3172L2160 3120M1788 3172L2136 3046M1788 3172L2073 3001M1788 3172L1995 3001M1788 3172L1933 3046M1788 3172L1909 3120M1788 3172L1933 3194M1788 3172L1995 3239M1788 3172L2073 3239M1788 3172L2136 3194"/>
<path d="M1831 3268L1908 3337M1831 3268L2008 3370M1831 3268L2112 3359M1831 3268L2202 3307M1831 3268L2264 3222M1831 3268L2160 3120M1831 3268L2136 3046M1831 3268L2073 3001M1831 3268L1995 3001M1831 3268L1933 3046M1831 3268L1909 3120M1831 3268L1933 3194M1831 3268L1995 3239M1831 3268L2073 3239M1831 3268L2136 3194"/>
<path d="M1908 3337L2008 3370M1908 3337L2112 3359M1908 3337L2202 3307M1908 3337L2264 3222M1908 3337L2160 3120M1908 3337L2136 3046M1908 3337L2073 3001M1908 3337L1995 3001M1908 3337L1933 3046M1908 3337L1909 3120M1908 3337L1933 3194M1908 3337L1995 3239M1908 3337L2073 3239M1908 3337L2136 3194"/>
<path d="M2008 3370L2112 3359M2008 3370L2202 3307M2008 3370L2264 3222M2008 3370L2160 3120M2008 3370L2136 3046M2008 3370L2073 3001M2008 3370L1995 3001M2008 3370L1933 3046M2008 3370L1909 3120M2008 3370L1933 3194M2008 3370L1995 3239M2008 3370L2073 3239M2008 3370L2136 3194"/>
<path d="M2112 3359L2202 3307M2112 3359L2264 3222M2112 3359L2160 3120M2112 3359L2136 3046M2112 3359L2073 3001M2112 3359L1995 3001M2112 3359L1933 3046M2112 3359L1909 3120M2112 3359L1933 3194M2112 3359L1995 3239M2112 3359L2073 3239M2112 3359L2136 3194"/>
<path d="M2202 3307L2264 3222M2202 3307L2160 3120M2202 3307L2136 3046M2202 3307L2073 3001M2202 3307L1995 3001M2202 3307L1933 3046M2202 3307L1909 3120M2202 3307L1933 3194M2202 3307L1995 3239M2202 3307L2073 3239M2202 3307L2136 3194"/>
<path d="M2264 3222L2160 3120M2264 3222L2136 3046M2264 3222L2073 3001M2264 3222L1995 3001M2264 3222L1933 3046M2264 3222L1909 3120M2264 3222L1933 3194M2264 3222L1995 3239M2264 3222L2073 3239M2264 3222L2136 3194"/>
<path d="M2160 3120L2136 3046M2160 3120L2073 3001M2160 3120L1995 3001M2160 3120L1933 3046M2160 3120L1909 3120M2160 3120L1933 3194M2160 3120L1995 3239M2160 3120L2073 3239M2160 3120L2136 3194"/>
<path d="M2136 3046L2073 3001M2136 3046L1995 3001M2136 3046L1933 3046M2136 3046L1909 3120M2136 3046L1933 3194M2136 3046L1995 3239M2136 3046L2073 3239M2136 3046L2136 3194"/>
<path d="M2073 3001L1995 3001M2073 3001L1933 3046M2073 3001L1909 3120M2073 3001L1933 3194M2073 3001L1995 3239M2073 3001L2073 3239M2073 3001L2136 3194"/>
<path d="M1995 3001L1933 3046M1995 3001L1909 3120M1995 3001L1933 3194M1995 3001L1995 3239M1995 3001L2073 3239M1995 3001L2136 3194"/>
<path d="M1933 3046L1909 3120M1933 3046L1933 3194M1933 3046L1995 3239M1933 3046L2073 3239M1933 3046L2136 3194"/>
<path d="M1909 3120L1933 3194M1909 3120L1995 3239M1909 3120L2073 3239M1909 3120L2136 3194"/>
<path d="M1933 3194L1995 3239M1933 3194L2073 3239M1933 3194L2136 3194"/>
<path d="M1995 3239L2073 3239M1995 3239L2136 3194"/>
<path d="M2073 3239L2136 3194"/>
</g>
<circle cx="2285.4" cy="3119.8" r="7.7" fill="#5FC0B8" stroke="#000" stroke-width="2.8"/>
<circle cx="2263.7" cy="3017.6" r="7.7" fill="#5FC0B8" stroke="#000" stroke-width="2.8"/>
<circle cx="2202.3" cy="2933.0" r="7.7" fill="#5FC0B8" stroke="#000" stroke-width="2.8"/>
<circle cx="2111.8" cy="2880.8" r="7.7" fill="#5FC0B8" stroke="#000" stroke-width="2.8"/>
<circle cx="2007.8" cy="2869.9" r="7.7" fill="#5FC0B8" stroke="#000" stroke-width="2.8"/>
<circle cx="1908.5" cy="2902.2" r="7.7" fill="#5FC0B8" stroke="#000" stroke-width="2.8"/>
<circle cx="1830.8" cy="2972.1" r="7.7" fill="#5FC0B8" stroke="#000" stroke-width="2.8"/>
<circle cx="1788.3" cy="3067.6" r="7.7" fill="#5FC0B8" stroke="#000" stroke-width="2.8"/>
<circle cx="1788.3" cy="3172.0" r="7.7" fill="#5FC0B8" stroke="#000" stroke-width="2.8"/>
<circle cx="1830.8" cy="3267.5" r="7.7" fill="#5FC0B8" stroke="#000" stroke-width="2.8"/>
<circle cx="1908.4" cy="3337.4" r="7.7" fill="#5FC0B8" stroke="#000" stroke-width="2.8"/>
<circle cx="2007.8" cy="3369.7" r="7.7" fill="#5FC0B8" stroke="#000" stroke-width="2.8"/>
<circle cx="2111.8" cy="3358.8" r="7.7" fill="#5FC0B8" stroke="#000" stroke-width="2.8"/>
<circle cx="2202.3" cy="3306.6" r="7.7" fill="#5FC0B8" stroke="#000" stroke-width="2.8"/>
<circle cx="2263.7" cy="3222.0" r="7.7" fill="#5FC0B8" stroke="#000" stroke-width="2.8"/>
<circle cx="2159.5" cy="3119.8" r="7.7" fill="#5FC0B8" stroke="#000" stroke-width="2.8"/>
<circle cx="2135.6" cy="3046.1" r="7.7" fill="#5FC0B8" stroke="#000" stroke-width="2.8"/>
<circle cx="2072.9" cy="3000.5" r="7.7" fill="#5FC0B8" stroke="#000" stroke-width="2.8"/>
<circle cx="1995.3" cy="3000.5" r="7.7" fill="#5FC0B8" stroke="#000" stroke-width="2.8"/>
<circle cx="1932.6" cy="3046.1" r="7.7" fill="#5FC0B8" stroke="#000" stroke-width="2.8"/>
<circle cx="1908.7" cy="3119.8" r="7.7" fill="#5FC0B8" stroke="#000" stroke-width="2.8"/>
<circle cx="1932.6" cy="3193.5" r="7.7" fill="#5FC0B8" stroke="#000" stroke-width="2.8"/>
<circle cx="1995.3" cy="3239.1" r="7.7" fill="#5FC0B8" stroke="#000" stroke-width="2.8"/>
<circle cx="2072.9" cy="3239.1" r="7.7" fill="#5FC0B8" stroke="#000" stroke-width="2.8"/>
<circle cx="2135.6" cy="3193.5" r="7.7" fill="#5FC0B8" stroke="#000" stroke-width="2.8"/>
<text x="1886.7" y="2897.0" font-size="30.5" font-style="italic" fill="#E60F1E">Nfkbiz</text>
<text x="1990.1" y="2900.0" font-size="26.3" font-style="italic">Cd9</text>
<text x="2074.6" y="2912.9" font-size="26.3" font-style="italic">S100a6</text>
<text x="2181.1" y="2922.0" font-size="26.3" font-style="italic">Nfkbia</text>
<text x="1816.0" y="2960.8" font-size="26.3" font-style="italic">Hexb</text>
<text x="1962.1" y="2990.9" font-size="26.3" font-style="italic">Cd14</text>
<text x="2061.7" y="2993.1" font-size="30.5" font-style="italic" fill="#E60F1E">Alox5ap</text>
<text x="2247.0" y="3002.6" font-size="26.3" font-style="italic">Nes</text>
<text x="1882.8" y="3036.2" font-size="26.3" font-style="italic">Fxyd5</text>
<text x="2119.8" y="3036.2" font-size="26.3" font-style="italic">Slamf9</text>
<text x="1766.0" y="3052.2" font-size="26.3" font-style="italic">Dusp1</text>
<text x="1828.5" y="3110.3" font-size="26.3" font-style="italic">2010111I01Rik</text>
<text x="2158.2" y="3106.9" font-size="26.3" font-style="italic">Lsp1</text>
<text x="2260.8" y="3149.1" font-size="26.3" font-style="italic">Pdlim7</text>
<text x="1776.7" y="3159.1" font-size="26.3" font-style="italic">Clic4</text>
<text x="1862.1" y="3182.8" font-size="26.3" font-style="italic">Cxcl16</text>
<text x="2133.6" y="3186.6" font-size="26.3" font-style="italic">Basp1</text>
<text x="2226.3" y="3249.1" font-size="26.3" font-style="italic">Tmem176b</text>
<text x="1812.5" y="3256.0" font-size="26.3" font-style="italic">Gatm</text>
<text x="1946.1" y="3267.7" font-size="26.3" font-style="italic">Metrnl</text>
<text x="2058.2" y="3269.8" font-size="26.3" font-style="italic">Rgs10</text>
<text x="2169.0" y="3286.2" font-size="26.3" font-style="italic">Coro1a</text>
<text x="1900.9" y="3322.8" font-size="26.3" font-style="italic">Ckb</text>
<text x="2097.9" y="3345.3" font-size="26.3" font-style="italic">P2ry6</text>
<text x="1992.7" y="3356.0" font-size="26.3" font-style="italic">Rhoc</text>
</svg></body></html>
